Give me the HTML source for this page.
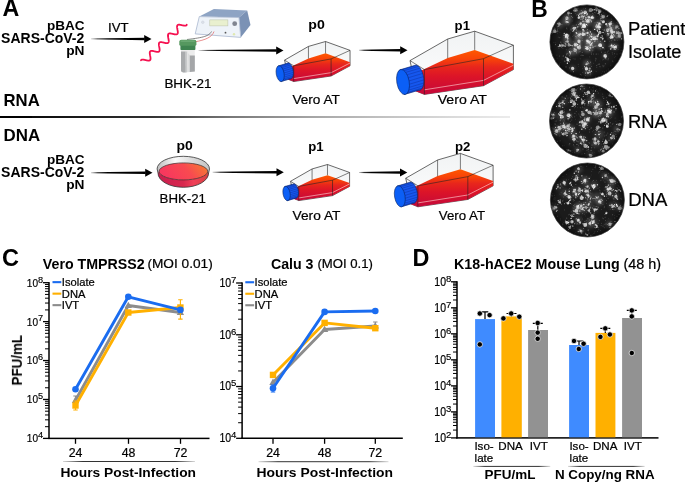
<!DOCTYPE html>
<html><head><meta charset="utf-8"><title>Figure</title>
<style>
html,body{margin:0;padding:0;background:#fff;width:685px;height:483px;overflow:hidden}
svg{display:block;font-family:"Liberation Sans", sans-serif}
text{will-change:transform}
</style></head>
<body>
<svg width="685" height="483" viewBox="0 0 685 483">
<rect width="685" height="483" fill="#fff"/>

<defs>
 <linearGradient id="arrL" x1="0" x2="1" y1="0" y2="0">
  <stop offset="0" stop-color="#000" stop-opacity="0.2"/>
  <stop offset="0.12" stop-color="#000" stop-opacity="0.8"/>
  <stop offset="0.3" stop-color="#000" stop-opacity="1"/>
  <stop offset="1" stop-color="#000"/>
 </linearGradient>
 <linearGradient id="divL" x1="0" x2="1" y1="0" y2="0">
  <stop offset="0" stop-color="#000"/>
  <stop offset="0.3" stop-color="#111"/>
  <stop offset="0.45" stop-color="#505050"/>
  <stop offset="0.62" stop-color="#808080"/>
  <stop offset="0.8" stop-color="#a8a8a8"/>
  <stop offset="1" stop-color="#d8d8d8"/>
 </linearGradient>
 <linearGradient id="sepL" x1="0" x2="1" y1="0" y2="0">
  <stop offset="0" stop-color="#000" stop-opacity="0.15"/>
  <stop offset="0.15" stop-color="#000" stop-opacity="0.8"/>
  <stop offset="0.85" stop-color="#000" stop-opacity="0.8"/>
  <stop offset="1" stop-color="#000" stop-opacity="0.15"/>
 </linearGradient>
 <linearGradient id="liq" x1="0" x2="0" y1="0" y2="1">
  <stop offset="0" stop-color="#ff5800"/>
  <stop offset="0.2" stop-color="#f84408"/>
  <stop offset="0.38" stop-color="#e8261c"/>
  <stop offset="0.6" stop-color="#dc1428"/>
  <stop offset="1" stop-color="#c4083a"/>
 </linearGradient>
 <linearGradient id="liqS" x1="0" x2="0" y1="0" y2="1">
  <stop offset="0" stop-color="#ff5a00"/>
  <stop offset="0.5" stop-color="#f24010"/>
  <stop offset="1" stop-color="#e83018"/>
 </linearGradient>
 <linearGradient id="glass" x1="0" x2="0" y1="0" y2="1">
  <stop offset="0" stop-color="#f1f3f4"/>
  <stop offset="1" stop-color="#fefefe"/>
 </linearGradient>
 <linearGradient id="dishL" x1="0" x2="1" y1="0" y2="0">
  <stop offset="0" stop-color="#c81e4e"/>
  <stop offset="0.5" stop-color="#d8284e"/>
  <stop offset="0.7" stop-color="#f04058"/>
  <stop offset="1" stop-color="#d84040"/>
 </linearGradient>
 <linearGradient id="dishTop" x1="0" x2="1" y1="0.3" y2="0">
  <stop offset="0" stop-color="#f7385e"/>
  <stop offset="0.5" stop-color="#f84a50"/>
  <stop offset="1" stop-color="#f6822c"/>
 </linearGradient>
 <linearGradient id="rim" x1="0" x2="1" y1="0" y2="0">
  <stop offset="0" stop-color="#bdbdbd"/>
  <stop offset="0.35" stop-color="#fafafa"/>
  <stop offset="0.7" stop-color="#d8d8d8"/>
  <stop offset="1" stop-color="#c4c4c4"/>
 </linearGradient>
 <linearGradient id="cuv" x1="0" x2="1" y1="0" y2="0">
  <stop offset="0" stop-color="#a9abad"/>
  <stop offset="0.35" stop-color="#c9cbcc"/>
  <stop offset="0.5" stop-color="#f2f2f2"/>
  <stop offset="0.65" stop-color="#c4c6c8"/>
  <stop offset="1" stop-color="#a2a4a6"/>
 </linearGradient>
 <radialGradient id="plq" cx="0.5" cy="0.5" r="0.5">
  <stop offset="0" stop-color="#3a3a3a"/>
  <stop offset="0.85" stop-color="#262626"/>
  <stop offset="1" stop-color="#1a1a1a"/>
 </radialGradient>
 <filter id="blur1" x="-20%" y="-20%" width="140%" height="140%"><feGaussianBlur stdDeviation="1.6"/></filter>
 <filter id="blurC" x="-20%" y="-20%" width="140%" height="140%"><feGaussianBlur stdDeviation="0.6"/></filter>
 <filter id="blurP" x="-5%" y="-5%" width="110%" height="110%"><feGaussianBlur stdDeviation="0.35"/></filter>
 <radialGradient id="vign" cx="0.5" cy="0.5" r="0.5">
  <stop offset="0.8" stop-color="#000" stop-opacity="0"/>
  <stop offset="0.95" stop-color="#000" stop-opacity="0.35"/>
  <stop offset="1" stop-color="#000" stop-opacity="0.6"/>
 </radialGradient>
 <filter id="blur0" x="-20%" y="-20%" width="140%" height="140%"><feGaussianBlur stdDeviation="0.35"/></filter>
</defs>

<text x="2.6" y="16.4" font-size="23.5" font-weight="bold" text-anchor="start" fill="#000" textLength="16.8" lengthAdjust="spacingAndGlyphs">A</text>
<text x="84.5" y="29.9" font-size="13.4" font-weight="bold" text-anchor="end" fill="#000" textLength="37.6" lengthAdjust="spacingAndGlyphs">pBAC</text>
<text x="84.3" y="42.9" font-size="13.9" font-weight="bold" text-anchor="end" fill="#000" textLength="83.2" lengthAdjust="spacingAndGlyphs">SARS-CoV-2</text>
<text x="84.5" y="55.2" font-size="13.7" font-weight="bold" text-anchor="end" fill="#000">pN</text>
<text x="84.5" y="163.9" font-size="13.4" font-weight="bold" text-anchor="end" fill="#000" textLength="37.6" lengthAdjust="spacingAndGlyphs">pBAC</text>
<text x="84.3" y="176.9" font-size="13.9" font-weight="bold" text-anchor="end" fill="#000" textLength="83.2" lengthAdjust="spacingAndGlyphs">SARS-CoV-2</text>
<text x="84.5" y="189.2" font-size="13.7" font-weight="bold" text-anchor="end" fill="#000">pN</text>
<text x="108" y="31.6" font-size="13.2" text-anchor="start" fill="#000" stroke="#000" stroke-width="0.22">IVT</text>
<path d="M91.00,38.45 L144.70,37.65 L144.70,40.15 L91.00,39.35 Z" fill="url(#arrL)"/>
<path d="M144.20,34.90 L151.50,38.90 L144.20,42.90 Z" fill="#000"/>
<path d="M141.01,60.24 L141.14,60.09 L141.28,59.96 L141.44,59.85 L141.62,59.76 L141.82,59.69 L142.04,59.64 L142.28,59.61 L142.53,59.60 L142.80,59.60 L143.08,59.62 L143.38,59.65 L143.69,59.70 L144.01,59.75 L144.34,59.81 L144.67,59.89 L145.01,59.96 L145.35,60.04 L145.69,60.12 L146.04,60.20 L146.38,60.28 L146.72,60.35 L147.05,60.42 L147.37,60.48 L147.68,60.53 L147.98,60.57 L148.27,60.59 L148.55,60.60 L148.81,60.60 L149.05,60.57 L149.28,60.53 L149.49,60.47 L149.68,60.39 L149.85,60.29 L150.00,60.17 L150.13,60.03 L150.24,59.87 L150.34,59.69 L150.41,59.49 L150.47,59.27 L150.50,59.03 L150.53,58.78 L150.53,58.51 L150.52,58.22 L150.50,57.92 L150.47,57.61 L150.42,57.29 L150.37,56.95 L150.31,56.62 L150.25,56.27 L150.19,55.93 L150.12,55.58 L150.05,55.23 L149.99,54.89 L149.93,54.55 L149.88,54.22 L149.84,53.90 L149.80,53.58 L149.78,53.28 L149.77,52.99 L149.77,52.72 L149.79,52.46 L149.83,52.22 L149.88,52.00 L149.95,51.80 L150.05,51.62 L150.16,51.46 L150.29,51.31 L150.43,51.19 L150.60,51.09 L150.79,51.01 L151.00,50.95 L151.22,50.90 L151.47,50.88 L151.72,50.87 L152.00,50.88 L152.29,50.90 L152.59,50.94 L152.90,50.99 L153.22,51.05 L153.55,51.11 L153.89,51.19 L154.23,51.26 L154.57,51.34 L154.92,51.43 L155.26,51.51 L155.60,51.58 L155.93,51.65 L156.26,51.72 L156.58,51.78 L156.89,51.82 L157.19,51.85 L157.47,51.87 L157.74,51.88 L158.00,51.87 L158.24,51.84 L158.46,51.79 L158.66,51.72 L158.84,51.64 L159.01,51.53 L159.15,51.40 L159.27,51.25 L159.38,51.09 L159.47,50.90 L159.53,50.69 L159.58,50.46 L159.61,50.22 L159.63,49.96 L159.63,49.68 L159.62,49.39 L159.59,49.09 L159.55,48.77 L159.51,48.44 L159.45,48.11 L159.39,47.77 L159.33,47.43 L159.26,47.08 L159.20,46.73 L159.13,46.39 L159.07,46.05 L159.01,45.71 L158.96,45.38 L158.92,45.06 L158.89,44.75 L158.87,44.45 L158.87,44.17 L158.88,43.90 L158.90,43.65 L158.95,43.42 L159.01,43.20 L159.08,43.01 L159.18,42.83 L159.30,42.68 L159.44,42.54 L159.59,42.43 L159.77,42.33 L159.96,42.26 L160.18,42.20 L160.41,42.17 L160.66,42.15 L160.92,42.15 L161.20,42.16 L161.49,42.19 L161.80,42.23 L162.11,42.28 L162.44,42.34 L162.77,42.41 L163.11,42.49 L163.45,42.57 L163.79,42.65 L164.14,42.73 L164.48,42.81 L164.82,42.88 L165.15,42.95 L165.48,43.02 L165.79,43.07 L166.10,43.11 L166.39,43.14 L166.67,43.15 L166.94,43.15 L167.19,43.13 L167.42,43.10 L167.63,43.04 L167.83,42.97 L168.00,42.88 L168.16,42.76 L168.30,42.63 L168.41,42.47 L168.51,42.30 L168.59,42.10 L168.65,41.89 L168.69,41.65 L168.72,41.40 L168.73,41.14 L168.73,40.85 L168.71,40.56 L168.68,40.25 L168.64,39.93 L168.59,39.60 L168.53,39.27 L168.47,38.92 L168.41,38.58 L168.34,38.23 L168.27,37.88 L168.21,37.54 L168.15,37.20 L168.09,36.87 L168.05,36.54 L168.01,36.22 L167.98,35.92 L167.97,35.63 L167.97,35.35 L167.99,35.09 L168.02,34.84 L168.07,34.62 L168.13,34.41 L168.22,34.22 L168.32,34.05 L168.45,33.90 L168.59,33.77 L168.75,33.67 L168.93,33.58 L169.14,33.51 L169.36,33.46 L169.59,33.43 L169.85,33.42 L170.12,33.43 L170.40,33.45 L170.70,33.48 L171.01,33.52 L171.33,33.58 L171.66,33.64 L171.99,33.71 L172.33,33.79 L172.67,33.87 L173.02,33.95 L173.36,34.03 L173.70,34.11 L174.04,34.18 L174.37,34.25 L174.69,34.31 L175.00,34.36 L175.30,34.40 L175.59,34.42 L175.87,34.43 L176.13,34.42 L176.37,34.40 L176.60,34.35 L176.80,34.29 L176.99,34.21 L177.16,34.11 L177.31,33.99 L177.44,33.85 L177.55,33.69 L177.64,33.50 L177.72,33.30 L177.77,33.08 L177.81,32.84 L177.83,32.59 L177.83,32.31 L177.82,32.03 L177.80,31.73 L177.76,31.41 L177.72,31.09 L177.67,30.76 L177.61,30.42 L177.55,30.08 L177.48,29.73 L177.42,29.38 L177.35,29.04 L177.29,28.69 L177.23,28.36 L177.18,28.02 L177.13,27.70 L177.10,27.39 L177.08,27.09 L177.07,26.80 L177.07,26.53 L177.09,26.27 L177.13,26.04 L177.19,25.81 L177.26,25.61 L177.35,25.43 L177.46,25.27 L177.59,25.13 L177.74,25.01 L177.91,24.91 L178.10,24.83 L178.31,24.77 L178.54,24.73 L178.78,24.70 L179.04,24.70 L179.32,24.71 L179.61,24.73 L179.91,24.77 L180.22,24.82 L180.54,24.88 L180.87,24.94 L181.21,25.02 L181.55,25.09 L181.89,25.18 L182.24,25.26 L182.58,25.34 L182.92,25.41 L183.25,25.48 L183.58,25.55 L183.90,25.60 L184.21,25.65 L184.51,25.68 L184.79,25.70 L185.06,25.70 L185.31,25.69 L185.55,25.66 L185.77,25.61 L185.97,25.54 L186.15,25.45 L186.32,25.35 L186.46,25.22 L186.58,25.07 L186.69,24.90 L186.77,24.71" fill="none" stroke="#f5104f" stroke-width="1.8" stroke-linecap="round" stroke-linejoin="round"/>
<g>
<path d="M199.3,16.6 L213.9,9.1 L247.2,10.5 L239,17.5 Z" fill="#8ea4c4"/>
<path d="M239,17.5 L247.2,10.5 L250.5,25 L240.7,37.4 Z" fill="#7b92b5"/>
<path d="M199.3,16.6 L239,17.5 L240.7,37.4 L195.2,33.9 Z" fill="#eef3f9" stroke="#a9b8cf" stroke-width="0.8"/>
<rect x="209.8" y="19.9" width="18.1" height="6" fill="#e9f0cf" stroke="#b9c0a8" stroke-width="0.5"/>
<circle cx="234.7" cy="23.7" r="2.4" fill="#808590"/>
<circle cx="202.8" cy="22.2" r="1.3" fill="#dde2ea" stroke="#c0c8d4" stroke-width="0.4"/>
<circle cx="225.5" cy="32.7" r="0.9" fill="#555"/>
<circle cx="234" cy="34.2" r="1.2" fill="#dfe8b0"/>
<path d="M211.5,31.5 C209,36 204,37.5 187,39.5" stroke="#555" stroke-width="0.7" fill="none"/>
<path d="M214,31.5 C212,37 206,40 194,42" stroke="#e06060" stroke-width="0.7" fill="none"/>
</g>
<path d="M181,49.5 L194.8,49.5 L194.8,71.6 L183,72.6 L181,71.2 Z" fill="#ececec"/>
<path d="M181,51.5 L185.6,51.5 L185.8,72.4 L183,72.6 L181,71.2 Z" fill="#a9abad"/>
<path d="M189.6,55.5 L194.8,55.5 L194.8,71.6 L189.8,72.1 Z" fill="#a4a6a8"/>
<path d="M185.6,51.5 L187.2,51.5 L187.4,72.3 L185.8,72.4 Z" fill="#c8cacb"/>
<path d="M188.4,53 L189.6,55.5 L189.8,72.1 L188.6,72.2 Z" fill="#d0d2d3"/>
<path d="M180.4,45 L195.4,45 L195.4,49.2 Q195.4,49.9 194.6,49.9 L181.2,49.9 Q180.4,49.9 180.4,49.2 Z" fill="#3f8450"/>
<path d="M179.3,41.5 Q179.4,39.8 181.5,39.7 L194.4,39.7 Q196.4,39.8 196.4,41.8 L196.4,44.6 Q196.3,45.8 194.8,45.8 L180.8,45.8 Q179.3,45.6 179.3,44.4 Z" fill="#56985f"/>
<rect x="180.5" y="40.3" width="14.5" height="1.8" rx="0.8" fill="#6aa872"/>
<text x="164.4" y="88.4" font-size="13.1" text-anchor="start" fill="#000" textLength="47" lengthAdjust="spacingAndGlyphs" stroke="#000" stroke-width="0.22">BHK-21</text>
<path d="M198.50,49.95 L276.70,49.15 L276.70,51.65 L198.50,50.85 Z" fill="url(#arrL)"/>
<path d="M276.20,46.40 L283.50,50.40 L276.20,54.40 Z" fill="#000"/>
<text x="316.5" y="28.9" font-size="13.2" font-weight="bold" text-anchor="middle" fill="#000" textLength="16.5" lengthAdjust="spacingAndGlyphs">p0</text>
<g transform="translate(276.1,41.5) scale(0.633)">
<path d="M13.4,29.4 L51.1,7.8 L78.1,0 L116.8,14 L116.8,38.4 L86.9,54.5 L27.8,63.2 L20,60 Z" fill="url(#glass)" stroke="#222" stroke-width="1.07" stroke-linejoin="round"/>
<path d="M19,42 L51.1,26.7 L78.1,18.7 L116.8,32.6 L116.8,38.4 L86.9,54.5 L27.8,63.2 L19,60 Z" fill="url(#liq)"/>
<path d="M27.8,58.6 L86.9,49.2 L116.8,34" fill="none" stroke="#ffd0d0" stroke-width="1.17" opacity="0.85"/>
<path d="M13.4,29.4 L27.8,38.4 L86.9,27.5 L116.8,14 M51.1,7.8 L51.1,27 M78.1,0 L78.1,18.7 M86.9,27.5 L86.9,54.5 M27.8,38.4 L27.8,63.2" fill="none" stroke="#222" stroke-width="1.07" opacity="0.85"/>
<path d="M3.17,38.67 L17.57,34.37 L18.59,33.99 L19.69,34.00 L20.82,34.38 L21.94,35.13 L23.04,36.23 L24.06,37.64 L24.99,39.31 L25.78,41.21 L26.43,43.27 L26.91,45.42 L27.20,47.61 L27.29,49.77 L27.19,51.82 L26.89,53.71 L26.41,55.39 L25.76,56.79 L24.96,57.88 L24.03,58.63 L23.01,59.01 L21.91,59.00 L7.51,63.30 Z" fill="#1657ee" stroke="#06205e" stroke-width="0.88" stroke-linejoin="round"/>
<path d="M5.85,38.44 L20.25,34.14 M7.54,39.43 L21.94,35.13 M9.16,41.19 L23.56,36.89 M10.59,43.61 L24.99,39.31 M11.73,46.52 L26.13,42.22 M12.51,49.72 L26.91,45.42 M12.87,53.00 L27.27,48.70 M12.79,56.12 L27.19,51.82 M12.28,58.88 L26.68,54.58 M11.36,61.09 L25.76,56.79 M10.11,62.60 L24.51,58.30 " stroke="#0a2f9a" stroke-width="0.70" fill="none"/>
<ellipse cx="6.4" cy="50.8" rx="6.2" ry="12.7" transform="rotate(-10 6.4 50.8)" fill="#0b5ff6" stroke="#06205e" stroke-width="0.88"/>
</g>
<text x="292.4" y="104.2" font-size="13.2" text-anchor="start" fill="#000" textLength="47.5" lengthAdjust="spacingAndGlyphs" stroke="#000" stroke-width="0.22">Vero AT</text>
<path d="M359.00,49.85 L400.70,49.05 L400.70,51.55 L359.00,50.75 Z" fill="url(#arrL)"/>
<path d="M400.20,46.30 L407.50,50.30 L400.20,54.30 Z" fill="#000"/>
<text x="462.3" y="29.8" font-size="13.2" font-weight="bold" text-anchor="middle" fill="#000">p1</text>
<g transform="translate(396.6,31.2) scale(1.0)">
<path d="M13.4,29.4 L51.1,7.8 L78.1,0 L116.8,14 L116.8,38.4 L86.9,54.5 L27.8,63.2 L20,60 Z" fill="url(#glass)" stroke="#222" stroke-width="0.68" stroke-linejoin="round"/>
<path d="M19,42 L51.1,26.7 L78.1,18.7 L116.8,32.6 L116.8,38.4 L86.9,54.5 L27.8,63.2 L19,60 Z" fill="url(#liq)"/>
<path d="M27.8,58.6 L86.9,49.2 L116.8,34" fill="none" stroke="#ffd0d0" stroke-width="0.74" opacity="0.85"/>
<path d="M13.4,29.4 L27.8,38.4 L86.9,27.5 L116.8,14 M51.1,7.8 L51.1,27 M78.1,0 L78.1,18.7 M86.9,27.5 L86.9,54.5 M27.8,38.4 L27.8,63.2" fill="none" stroke="#222" stroke-width="0.68" opacity="0.85"/>
<path d="M3.17,38.67 L17.57,34.37 L18.59,33.99 L19.69,34.00 L20.82,34.38 L21.94,35.13 L23.04,36.23 L24.06,37.64 L24.99,39.31 L25.78,41.21 L26.43,43.27 L26.91,45.42 L27.20,47.61 L27.29,49.77 L27.19,51.82 L26.89,53.71 L26.41,55.39 L25.76,56.79 L24.96,57.88 L24.03,58.63 L23.01,59.01 L21.91,59.00 L7.51,63.30 Z" fill="#1657ee" stroke="#06205e" stroke-width="0.56" stroke-linejoin="round"/>
<path d="M5.85,38.44 L20.25,34.14 M7.54,39.43 L21.94,35.13 M9.16,41.19 L23.56,36.89 M10.59,43.61 L24.99,39.31 M11.73,46.52 L26.13,42.22 M12.51,49.72 L26.91,45.42 M12.87,53.00 L27.27,48.70 M12.79,56.12 L27.19,51.82 M12.28,58.88 L26.68,54.58 M11.36,61.09 L25.76,56.79 M10.11,62.60 L24.51,58.30 " stroke="#0a2f9a" stroke-width="0.44" fill="none"/>
<ellipse cx="6.4" cy="50.8" rx="6.2" ry="12.7" transform="rotate(-10 6.4 50.8)" fill="#0b5ff6" stroke="#06205e" stroke-width="0.56"/>
</g>
<text x="437.7" y="104.3" font-size="13.2" text-anchor="start" fill="#000" textLength="49.2" lengthAdjust="spacingAndGlyphs" stroke="#000" stroke-width="0.22">Vero AT</text>
<text x="3.5" y="106" font-size="16.3" font-weight="bold" text-anchor="start" fill="#000" textLength="36.2" lengthAdjust="spacingAndGlyphs">RNA</text>
<path d="M0,115.95 L510,116.4 L510,117.6 L0,117.95 Z" fill="url(#divL)"/>
<text x="3.6" y="141.4" font-size="16.3" font-weight="bold" text-anchor="start" fill="#000" textLength="36.6" lengthAdjust="spacingAndGlyphs">DNA</text>
<path d="M91.00,172.25 L145.70,171.45 L145.70,173.95 L91.00,173.15 Z" fill="url(#arrL)"/>
<path d="M145.20,168.70 L152.50,172.70 L145.20,176.70 Z" fill="#000"/>
<path d="M157.1,168.9 A26.2,12.6 0 0 1 209.5,168.9 L208.6,173 A25.3,14.3 0 0 1 158,173 Z" fill="url(#rim)"/>
<path d="M159.1,171.4 A24.3,8.5 0 0 0 207.7,171.4 L208.6,173 A25.3,14.3 0 0 1 158,173 Z" fill="url(#dishL)"/>
<ellipse cx="183.4" cy="171.4" rx="24.3" ry="8.5" fill="url(#dishTop)" stroke="#3a2a2a" stroke-width="0.7"/>
<path d="M157.1,168.9 A26.2,12.6 0 0 1 209.5,168.9 L208.6,173 A25.3,14.3 0 0 1 158,173 Z" fill="none" stroke="#333" stroke-width="0.8"/>
<text x="184.6" y="150.0" font-size="13.2" font-weight="bold" text-anchor="middle" fill="#000" textLength="16.3" lengthAdjust="spacingAndGlyphs">p0</text>
<text x="159.6" y="202.7" font-size="13.1" text-anchor="start" fill="#000" textLength="46.4" lengthAdjust="spacingAndGlyphs" stroke="#000" stroke-width="0.22">BHK-21</text>
<path d="M212.60,171.85 L277.00,171.05 L277.00,173.55 L212.60,172.75 Z" fill="url(#arrL)"/>
<path d="M276.50,168.30 L283.80,172.30 L276.50,176.30 Z" fill="#000"/>
<text x="316" y="151.0" font-size="13.2" font-weight="bold" text-anchor="middle" fill="#000">p1</text>
<g transform="translate(282.9,164.5) scale(0.571)">
<path d="M13.4,29.4 L51.1,7.8 L78.1,0 L116.8,14 L116.8,38.4 L86.9,54.5 L27.8,63.2 L20,60 Z" fill="url(#glass)" stroke="#222" stroke-width="1.18" stroke-linejoin="round"/>
<path d="M19,42 L51.1,26.7 L78.1,18.7 L116.8,32.6 L116.8,38.4 L86.9,54.5 L27.8,63.2 L19,60 Z" fill="url(#liq)"/>
<path d="M27.8,58.6 L86.9,49.2 L116.8,34" fill="none" stroke="#ffd0d0" stroke-width="1.30" opacity="0.85"/>
<path d="M13.4,29.4 L27.8,38.4 L86.9,27.5 L116.8,14 M51.1,7.8 L51.1,27 M78.1,0 L78.1,18.7 M86.9,27.5 L86.9,54.5 M27.8,38.4 L27.8,63.2" fill="none" stroke="#222" stroke-width="1.18" opacity="0.85"/>
<path d="M3.17,38.67 L17.57,34.37 L18.59,33.99 L19.69,34.00 L20.82,34.38 L21.94,35.13 L23.04,36.23 L24.06,37.64 L24.99,39.31 L25.78,41.21 L26.43,43.27 L26.91,45.42 L27.20,47.61 L27.29,49.77 L27.19,51.82 L26.89,53.71 L26.41,55.39 L25.76,56.79 L24.96,57.88 L24.03,58.63 L23.01,59.01 L21.91,59.00 L7.51,63.30 Z" fill="#1657ee" stroke="#06205e" stroke-width="0.98" stroke-linejoin="round"/>
<path d="M5.85,38.44 L20.25,34.14 M7.54,39.43 L21.94,35.13 M9.16,41.19 L23.56,36.89 M10.59,43.61 L24.99,39.31 M11.73,46.52 L26.13,42.22 M12.51,49.72 L26.91,45.42 M12.87,53.00 L27.27,48.70 M12.79,56.12 L27.19,51.82 M12.28,58.88 L26.68,54.58 M11.36,61.09 L25.76,56.79 M10.11,62.60 L24.51,58.30 " stroke="#0a2f9a" stroke-width="0.77" fill="none"/>
<ellipse cx="6.4" cy="50.8" rx="6.2" ry="12.7" transform="rotate(-10 6.4 50.8)" fill="#0b5ff6" stroke="#06205e" stroke-width="0.98"/>
</g>
<text x="292.6" y="219.6" font-size="13.2" text-anchor="start" fill="#000" textLength="47.8" lengthAdjust="spacingAndGlyphs" stroke="#000" stroke-width="0.22">Vero AT</text>
<path d="M359.00,172.05 L400.50,171.25 L400.50,173.75 L359.00,172.95 Z" fill="url(#arrL)"/>
<path d="M400.00,168.50 L407.30,172.50 L400.00,176.50 Z" fill="#000"/>
<text x="462.7" y="150.6" font-size="13.2" font-weight="bold" text-anchor="middle" fill="#000">p2</text>
<g transform="translate(394.4,153.4) scale(0.845)">
<path d="M13.4,29.4 L51.1,7.8 L78.1,0 L116.8,14 L116.8,38.4 L86.9,54.5 L27.8,63.2 L20,60 Z" fill="url(#glass)" stroke="#222" stroke-width="0.80" stroke-linejoin="round"/>
<path d="M19,42 L51.1,26.7 L78.1,18.7 L116.8,32.6 L116.8,38.4 L86.9,54.5 L27.8,63.2 L19,60 Z" fill="url(#liq)"/>
<path d="M27.8,58.6 L86.9,49.2 L116.8,34" fill="none" stroke="#ffd0d0" stroke-width="0.88" opacity="0.85"/>
<path d="M13.4,29.4 L27.8,38.4 L86.9,27.5 L116.8,14 M51.1,7.8 L51.1,27 M78.1,0 L78.1,18.7 M86.9,27.5 L86.9,54.5 M27.8,38.4 L27.8,63.2" fill="none" stroke="#222" stroke-width="0.80" opacity="0.85"/>
<path d="M3.17,38.67 L17.57,34.37 L18.59,33.99 L19.69,34.00 L20.82,34.38 L21.94,35.13 L23.04,36.23 L24.06,37.64 L24.99,39.31 L25.78,41.21 L26.43,43.27 L26.91,45.42 L27.20,47.61 L27.29,49.77 L27.19,51.82 L26.89,53.71 L26.41,55.39 L25.76,56.79 L24.96,57.88 L24.03,58.63 L23.01,59.01 L21.91,59.00 L7.51,63.30 Z" fill="#1657ee" stroke="#06205e" stroke-width="0.66" stroke-linejoin="round"/>
<path d="M5.85,38.44 L20.25,34.14 M7.54,39.43 L21.94,35.13 M9.16,41.19 L23.56,36.89 M10.59,43.61 L24.99,39.31 M11.73,46.52 L26.13,42.22 M12.51,49.72 L26.91,45.42 M12.87,53.00 L27.27,48.70 M12.79,56.12 L27.19,51.82 M12.28,58.88 L26.68,54.58 M11.36,61.09 L25.76,56.79 M10.11,62.60 L24.51,58.30 " stroke="#0a2f9a" stroke-width="0.52" fill="none"/>
<ellipse cx="6.4" cy="50.8" rx="6.2" ry="12.7" transform="rotate(-10 6.4 50.8)" fill="#0b5ff6" stroke="#06205e" stroke-width="0.66"/>
</g>
<text x="438.8" y="219.9" font-size="13.2" text-anchor="start" fill="#000" textLength="46.2" lengthAdjust="spacingAndGlyphs" stroke="#000" stroke-width="0.22">Vero AT</text>
<text x="531.2" y="16.6" font-size="23.5" font-weight="bold" text-anchor="start" fill="#000" textLength="16.5" lengthAdjust="spacingAndGlyphs">B</text>
<clipPath id="clp1"><circle cx="586.9" cy="41.9" r="36.5"/></clipPath>
<circle cx="586.9" cy="41.9" r="37" fill="#1b1b1b" stroke="#333" stroke-width="0.7"/>
<g clip-path="url(#clp1)"><g filter="url(#blurP)">
<g filter="url(#blur0)"><circle cx="555.2" cy="42.8" r="0.39" fill="#4e4e4e"/><circle cx="606.6" cy="70.2" r="0.42" fill="#4e4e4e"/><circle cx="572.1" cy="45.8" r="0.53" fill="#444"/><circle cx="604.4" cy="48.9" r="0.57" fill="#3a3a3a"/><circle cx="620.9" cy="47.2" r="0.39" fill="#444"/><circle cx="581.5" cy="74.6" r="0.47" fill="#3a3a3a"/><circle cx="579.0" cy="52.0" r="0.48" fill="#5a5a5a"/><circle cx="562.1" cy="58.9" r="0.48" fill="#3a3a3a"/><circle cx="556.6" cy="23.8" r="0.42" fill="#3a3a3a"/><circle cx="560.2" cy="62.3" r="0.46" fill="#3a3a3a"/><circle cx="578.2" cy="64.3" r="0.45" fill="#5a5a5a"/><circle cx="617.2" cy="37.3" r="0.58" fill="#666"/><circle cx="594.4" cy="35.1" r="0.52" fill="#3a3a3a"/><circle cx="570.4" cy="32.9" r="0.35" fill="#666"/><circle cx="563.9" cy="37.4" r="0.36" fill="#3a3a3a"/><circle cx="569.2" cy="17.7" r="0.49" fill="#444"/><circle cx="570.1" cy="48.2" r="0.56" fill="#4e4e4e"/><circle cx="582.9" cy="68.6" r="0.49" fill="#444"/><circle cx="586.2" cy="68.2" r="0.49" fill="#444"/><circle cx="578.3" cy="25.9" r="0.58" fill="#3a3a3a"/><circle cx="551.7" cy="47.0" r="0.49" fill="#3a3a3a"/><circle cx="586.9" cy="47.3" r="0.46" fill="#4e4e4e"/><circle cx="600.0" cy="61.0" r="0.35" fill="#4e4e4e"/><circle cx="582.6" cy="38.2" r="0.48" fill="#4e4e4e"/><circle cx="575.0" cy="59.0" r="0.47" fill="#666"/><circle cx="597.8" cy="32.8" r="0.49" fill="#444"/><circle cx="603.3" cy="59.6" r="0.40" fill="#666"/><circle cx="618.2" cy="49.4" r="0.45" fill="#666"/><circle cx="572.5" cy="17.5" r="0.52" fill="#666"/><circle cx="564.5" cy="43.8" r="0.49" fill="#5a5a5a"/><circle cx="621.7" cy="29.8" r="0.50" fill="#666"/><circle cx="604.2" cy="71.3" r="0.47" fill="#3a3a3a"/><circle cx="605.1" cy="52.3" r="0.51" fill="#4e4e4e"/><circle cx="580.0" cy="51.5" r="0.55" fill="#5a5a5a"/><circle cx="612.5" cy="61.7" r="0.35" fill="#666"/><circle cx="580.3" cy="55.6" r="0.39" fill="#4e4e4e"/><circle cx="611.5" cy="40.8" r="0.48" fill="#5a5a5a"/><circle cx="569.9" cy="12.2" r="0.46" fill="#666"/><circle cx="576.2" cy="53.5" r="0.39" fill="#3a3a3a"/><circle cx="602.5" cy="16.9" r="0.45" fill="#3a3a3a"/><circle cx="600.9" cy="49.7" r="0.48" fill="#444"/><circle cx="567.5" cy="29.6" r="0.37" fill="#3a3a3a"/><circle cx="611.4" cy="43.6" r="0.47" fill="#4e4e4e"/><circle cx="591.2" cy="8.6" r="0.51" fill="#4e4e4e"/><circle cx="602.7" cy="65.2" r="0.44" fill="#4e4e4e"/><circle cx="604.6" cy="33.9" r="0.39" fill="#5a5a5a"/><circle cx="608.3" cy="69.0" r="0.53" fill="#4e4e4e"/><circle cx="569.0" cy="50.0" r="0.56" fill="#444"/><circle cx="596.0" cy="28.3" r="0.58" fill="#5a5a5a"/><circle cx="568.3" cy="24.8" r="0.51" fill="#3a3a3a"/><circle cx="582.7" cy="72.5" r="0.50" fill="#444"/><circle cx="569.3" cy="43.9" r="0.54" fill="#444"/><circle cx="616.0" cy="37.5" r="0.54" fill="#4e4e4e"/><circle cx="567.7" cy="58.0" r="0.37" fill="#4e4e4e"/><circle cx="566.7" cy="28.7" r="0.59" fill="#3a3a3a"/><circle cx="600.5" cy="41.5" r="0.55" fill="#666"/><circle cx="621.2" cy="50.3" r="0.52" fill="#4e4e4e"/><circle cx="570.2" cy="50.3" r="0.37" fill="#444"/><circle cx="579.5" cy="41.5" r="0.54" fill="#5a5a5a"/><circle cx="570.9" cy="45.4" r="0.40" fill="#5a5a5a"/><circle cx="602.8" cy="29.3" r="0.38" fill="#666"/><circle cx="585.4" cy="70.7" r="0.42" fill="#666"/><circle cx="564.4" cy="16.7" r="0.55" fill="#444"/><circle cx="552.2" cy="33.6" r="0.36" fill="#666"/><circle cx="578.0" cy="14.5" r="0.51" fill="#5a5a5a"/><circle cx="589.6" cy="43.7" r="0.36" fill="#444"/><circle cx="570.1" cy="13.6" r="0.40" fill="#3a3a3a"/><circle cx="586.9" cy="14.5" r="0.52" fill="#4e4e4e"/><circle cx="612.5" cy="54.0" r="0.43" fill="#5a5a5a"/><circle cx="569.7" cy="24.1" r="0.41" fill="#444"/><circle cx="593.4" cy="63.2" r="0.44" fill="#444"/><circle cx="594.7" cy="46.4" r="0.59" fill="#666"/><circle cx="616.9" cy="45.4" r="0.40" fill="#666"/><circle cx="615.0" cy="36.3" r="0.53" fill="#3a3a3a"/><circle cx="604.9" cy="58.3" r="0.41" fill="#3a3a3a"/><circle cx="584.6" cy="32.3" r="0.36" fill="#4e4e4e"/><circle cx="589.2" cy="37.7" r="0.57" fill="#444"/><circle cx="606.4" cy="71.4" r="0.36" fill="#5a5a5a"/><circle cx="588.7" cy="11.6" r="0.37" fill="#4e4e4e"/><circle cx="552.4" cy="33.3" r="0.43" fill="#4e4e4e"/><circle cx="559.5" cy="63.7" r="0.56" fill="#3a3a3a"/><circle cx="572.4" cy="36.3" r="0.48" fill="#444"/><circle cx="587.6" cy="33.8" r="0.47" fill="#666"/><circle cx="559.5" cy="65.2" r="0.60" fill="#666"/><circle cx="603.1" cy="66.7" r="0.48" fill="#666"/><circle cx="571.5" cy="16.5" r="0.45" fill="#4e4e4e"/><circle cx="573.9" cy="35.2" r="0.49" fill="#444"/><circle cx="598.1" cy="28.1" r="0.43" fill="#4e4e4e"/><circle cx="570.1" cy="60.3" r="0.48" fill="#666"/><circle cx="588.8" cy="15.9" r="0.55" fill="#4e4e4e"/><circle cx="592.3" cy="38.3" r="0.47" fill="#4e4e4e"/><circle cx="609.2" cy="14.9" r="0.47" fill="#666"/><circle cx="613.0" cy="23.5" r="0.53" fill="#444"/><circle cx="605.2" cy="31.7" r="0.45" fill="#4e4e4e"/><circle cx="584.3" cy="77.4" r="0.48" fill="#666"/><circle cx="566.3" cy="14.8" r="0.40" fill="#3a3a3a"/><circle cx="580.3" cy="58.8" r="0.55" fill="#3a3a3a"/><circle cx="602.8" cy="20.0" r="0.51" fill="#3a3a3a"/><circle cx="588.9" cy="10.7" r="0.55" fill="#3a3a3a"/><circle cx="566.0" cy="66.9" r="0.57" fill="#666"/><circle cx="551.5" cy="32.1" r="0.53" fill="#5a5a5a"/><circle cx="570.9" cy="70.9" r="0.47" fill="#666"/><circle cx="616.4" cy="22.3" r="0.52" fill="#5a5a5a"/><circle cx="590.2" cy="74.8" r="0.53" fill="#5a5a5a"/><circle cx="568.9" cy="19.8" r="0.54" fill="#666"/><circle cx="588.0" cy="40.9" r="0.50" fill="#5a5a5a"/><circle cx="587.6" cy="47.7" r="0.36" fill="#5a5a5a"/><circle cx="612.9" cy="38.8" r="0.59" fill="#444"/><circle cx="601.4" cy="52.4" r="0.38" fill="#666"/><circle cx="572.3" cy="70.6" r="0.59" fill="#4e4e4e"/><circle cx="590.1" cy="47.2" r="0.42" fill="#666"/><circle cx="580.3" cy="74.4" r="0.45" fill="#666"/><circle cx="596.5" cy="27.7" r="0.38" fill="#4e4e4e"/><circle cx="582.8" cy="15.3" r="0.41" fill="#444"/><circle cx="550.6" cy="36.3" r="0.36" fill="#666"/><circle cx="581.0" cy="25.7" r="0.57" fill="#3a3a3a"/><circle cx="578.3" cy="39.3" r="0.51" fill="#4e4e4e"/><circle cx="613.0" cy="61.8" r="0.46" fill="#5a5a5a"/><circle cx="558.5" cy="31.1" r="0.39" fill="#5a5a5a"/><circle cx="577.1" cy="14.3" r="0.59" fill="#4e4e4e"/><circle cx="580.5" cy="74.4" r="0.53" fill="#4e4e4e"/><circle cx="601.1" cy="37.0" r="0.40" fill="#5a5a5a"/><circle cx="579.6" cy="36.4" r="0.38" fill="#3a3a3a"/><circle cx="585.4" cy="75.4" r="0.51" fill="#5a5a5a"/><circle cx="581.5" cy="75.6" r="0.49" fill="#3a3a3a"/><circle cx="589.5" cy="30.6" r="0.53" fill="#3a3a3a"/><circle cx="600.2" cy="66.7" r="0.60" fill="#3a3a3a"/><circle cx="600.6" cy="18.1" r="0.55" fill="#3a3a3a"/><circle cx="600.0" cy="11.4" r="0.38" fill="#5a5a5a"/><circle cx="583.0" cy="55.4" r="0.58" fill="#5a5a5a"/><circle cx="557.7" cy="33.5" r="0.39" fill="#444"/><circle cx="569.0" cy="59.9" r="0.42" fill="#666"/><circle cx="586.3" cy="71.1" r="0.58" fill="#666"/><circle cx="608.3" cy="51.0" r="0.38" fill="#5a5a5a"/><circle cx="606.0" cy="58.9" r="0.58" fill="#4e4e4e"/><circle cx="589.9" cy="37.5" r="0.41" fill="#3a3a3a"/><circle cx="570.2" cy="57.2" r="0.39" fill="#5a5a5a"/><circle cx="568.9" cy="35.1" r="0.58" fill="#666"/><circle cx="587.6" cy="74.9" r="0.42" fill="#4e4e4e"/><circle cx="601.4" cy="24.7" r="0.47" fill="#444"/><circle cx="594.2" cy="22.8" r="0.50" fill="#444"/><circle cx="563.3" cy="70.0" r="0.48" fill="#5a5a5a"/><circle cx="554.2" cy="29.0" r="0.51" fill="#444"/><circle cx="573.2" cy="41.4" r="0.38" fill="#4e4e4e"/><circle cx="615.6" cy="56.6" r="0.37" fill="#444"/><circle cx="589.8" cy="56.9" r="0.39" fill="#666"/><circle cx="558.5" cy="46.6" r="0.49" fill="#666"/><circle cx="615.3" cy="36.1" r="0.54" fill="#3a3a3a"/><circle cx="610.7" cy="65.7" r="0.37" fill="#444"/><circle cx="566.5" cy="55.3" r="0.42" fill="#4e4e4e"/><circle cx="603.1" cy="33.0" r="0.43" fill="#3a3a3a"/><circle cx="560.2" cy="23.5" r="0.52" fill="#444"/><circle cx="603.5" cy="12.5" r="0.41" fill="#4e4e4e"/><circle cx="589.1" cy="31.7" r="0.38" fill="#3a3a3a"/><circle cx="579.5" cy="74.0" r="0.37" fill="#444"/><circle cx="608.4" cy="58.5" r="0.50" fill="#444"/><circle cx="614.3" cy="34.9" r="0.51" fill="#666"/><circle cx="589.0" cy="46.7" r="0.58" fill="#666"/><circle cx="572.2" cy="21.1" r="0.49" fill="#4e4e4e"/><circle cx="553.9" cy="42.5" r="0.41" fill="#444"/><circle cx="616.3" cy="25.2" r="0.41" fill="#3a3a3a"/><circle cx="569.9" cy="44.1" r="0.38" fill="#5a5a5a"/><circle cx="602.4" cy="60.0" r="0.51" fill="#3a3a3a"/><circle cx="590.2" cy="45.2" r="0.52" fill="#666"/><circle cx="600.4" cy="16.4" r="0.39" fill="#666"/><circle cx="615.0" cy="20.9" r="0.44" fill="#4e4e4e"/><circle cx="571.5" cy="16.4" r="0.56" fill="#5a5a5a"/><circle cx="579.9" cy="77.2" r="0.42" fill="#444"/><circle cx="599.2" cy="64.1" r="0.59" fill="#666"/><circle cx="589.7" cy="5.6" r="0.44" fill="#444"/><circle cx="591.5" cy="70.2" r="0.36" fill="#5a5a5a"/><circle cx="581.9" cy="55.2" r="0.58" fill="#4e4e4e"/><circle cx="580.1" cy="49.7" r="0.37" fill="#3a3a3a"/><circle cx="607.6" cy="52.7" r="0.55" fill="#3a3a3a"/><circle cx="611.5" cy="48.4" r="0.48" fill="#666"/><circle cx="576.3" cy="24.9" r="0.58" fill="#666"/><circle cx="598.4" cy="64.3" r="0.58" fill="#444"/><circle cx="595.9" cy="12.7" r="0.57" fill="#4e4e4e"/><circle cx="602.0" cy="36.2" r="0.41" fill="#4e4e4e"/><circle cx="596.2" cy="71.4" r="0.50" fill="#3a3a3a"/><circle cx="580.6" cy="31.4" r="0.46" fill="#4e4e4e"/><circle cx="601.6" cy="51.9" r="0.39" fill="#666"/><circle cx="575.2" cy="13.3" r="0.39" fill="#666"/><circle cx="597.5" cy="41.0" r="0.54" fill="#4e4e4e"/><circle cx="558.9" cy="48.0" r="0.57" fill="#5a5a5a"/><circle cx="578.3" cy="66.6" r="0.45" fill="#444"/><circle cx="566.8" cy="23.3" r="0.51" fill="#4e4e4e"/><circle cx="608.0" cy="39.0" r="0.44" fill="#5a5a5a"/><circle cx="598.1" cy="54.0" r="0.46" fill="#444"/><circle cx="579.4" cy="13.8" r="0.58" fill="#5a5a5a"/><circle cx="612.0" cy="16.0" r="0.45" fill="#5a5a5a"/><circle cx="609.0" cy="53.2" r="0.46" fill="#444"/><circle cx="577.8" cy="42.1" r="0.58" fill="#4e4e4e"/><circle cx="561.3" cy="43.7" r="0.59" fill="#3a3a3a"/><circle cx="551.3" cy="34.2" r="0.48" fill="#444"/><circle cx="617.0" cy="53.9" r="0.52" fill="#4e4e4e"/><circle cx="555.5" cy="44.6" r="0.59" fill="#666"/><circle cx="562.9" cy="48.2" r="0.40" fill="#666"/><circle cx="588.1" cy="19.0" r="0.52" fill="#666"/><circle cx="598.3" cy="44.6" r="0.45" fill="#444"/><circle cx="584.3" cy="46.9" r="0.45" fill="#3a3a3a"/><circle cx="591.3" cy="52.4" r="0.36" fill="#5a5a5a"/><circle cx="588.3" cy="62.4" r="0.59" fill="#3a3a3a"/><circle cx="573.0" cy="25.5" r="0.39" fill="#5a5a5a"/><circle cx="559.8" cy="46.5" r="0.54" fill="#4e4e4e"/><circle cx="609.3" cy="45.9" r="0.52" fill="#5a5a5a"/><circle cx="609.7" cy="41.6" r="0.44" fill="#4e4e4e"/><circle cx="561.1" cy="46.8" r="0.55" fill="#444"/><circle cx="595.9" cy="59.0" r="0.58" fill="#4e4e4e"/><circle cx="569.0" cy="23.6" r="0.42" fill="#5a5a5a"/><circle cx="584.5" cy="15.9" r="0.59" fill="#444"/><circle cx="592.8" cy="50.7" r="0.46" fill="#666"/><circle cx="614.4" cy="47.6" r="0.47" fill="#666"/><circle cx="602.6" cy="11.0" r="0.39" fill="#3a3a3a"/><circle cx="599.3" cy="7.1" r="0.45" fill="#5a5a5a"/><circle cx="600.4" cy="48.6" r="0.52" fill="#444"/><circle cx="590.3" cy="73.5" r="0.38" fill="#5a5a5a"/><circle cx="564.9" cy="58.1" r="0.44" fill="#5a5a5a"/><circle cx="612.0" cy="21.6" r="0.44" fill="#444"/><circle cx="589.5" cy="11.5" r="0.40" fill="#4e4e4e"/><circle cx="584.2" cy="26.4" r="0.50" fill="#666"/><circle cx="595.4" cy="60.8" r="0.50" fill="#4e4e4e"/><circle cx="558.2" cy="37.1" r="0.41" fill="#666"/><circle cx="565.3" cy="42.5" r="0.58" fill="#3a3a3a"/><circle cx="620.0" cy="53.8" r="0.38" fill="#666"/><circle cx="602.9" cy="23.7" r="0.53" fill="#3a3a3a"/><circle cx="591.5" cy="54.0" r="0.50" fill="#666"/><circle cx="569.7" cy="52.1" r="0.48" fill="#666"/><circle cx="606.8" cy="36.1" r="0.47" fill="#4e4e4e"/><circle cx="599.4" cy="66.6" r="0.49" fill="#444"/><circle cx="583.5" cy="8.2" r="0.45" fill="#444"/><circle cx="603.9" cy="65.8" r="0.58" fill="#4e4e4e"/><circle cx="556.9" cy="55.1" r="0.56" fill="#3a3a3a"/><circle cx="611.6" cy="18.9" r="0.50" fill="#444"/><circle cx="564.0" cy="42.6" r="0.44" fill="#666"/><circle cx="567.1" cy="53.6" r="0.60" fill="#666"/><circle cx="616.9" cy="38.8" r="0.39" fill="#666"/><circle cx="587.0" cy="78.2" r="0.45" fill="#666"/><circle cx="612.2" cy="52.7" r="0.42" fill="#5a5a5a"/><circle cx="576.0" cy="76.0" r="0.49" fill="#3a3a3a"/><circle cx="617.2" cy="40.2" r="0.43" fill="#5a5a5a"/><circle cx="605.3" cy="63.7" r="0.50" fill="#666"/><circle cx="612.9" cy="25.5" r="0.55" fill="#666"/><circle cx="607.3" cy="35.6" r="0.55" fill="#666"/><circle cx="592.5" cy="13.3" r="0.48" fill="#666"/><circle cx="557.4" cy="29.5" r="0.54" fill="#4e4e4e"/><circle cx="552.5" cy="32.3" r="0.47" fill="#3a3a3a"/><circle cx="596.8" cy="67.6" r="0.43" fill="#5a5a5a"/><circle cx="617.9" cy="45.2" r="0.58" fill="#444"/><circle cx="576.6" cy="15.7" r="0.39" fill="#666"/><circle cx="557.9" cy="28.4" r="0.46" fill="#666"/><circle cx="576.5" cy="30.2" r="0.50" fill="#4e4e4e"/><circle cx="596.6" cy="65.6" r="0.54" fill="#4e4e4e"/><circle cx="579.3" cy="25.9" r="0.37" fill="#666"/><circle cx="602.3" cy="71.8" r="0.45" fill="#4e4e4e"/><circle cx="559.2" cy="45.7" r="0.41" fill="#4e4e4e"/><circle cx="557.2" cy="58.3" r="0.53" fill="#3a3a3a"/><circle cx="572.2" cy="69.5" r="0.56" fill="#444"/><circle cx="555.5" cy="28.2" r="0.56" fill="#4e4e4e"/><circle cx="559.8" cy="37.6" r="0.55" fill="#4e4e4e"/><circle cx="580.8" cy="17.0" r="0.36" fill="#666"/><circle cx="593.4" cy="54.0" r="0.46" fill="#666"/><circle cx="593.3" cy="14.0" r="0.46" fill="#4e4e4e"/><circle cx="607.7" cy="31.6" r="0.43" fill="#5a5a5a"/><circle cx="590.7" cy="5.6" r="0.48" fill="#3a3a3a"/><circle cx="564.7" cy="37.7" r="0.47" fill="#444"/><circle cx="577.4" cy="33.9" r="0.40" fill="#3a3a3a"/><circle cx="563.3" cy="55.5" r="0.59" fill="#4e4e4e"/><circle cx="592.9" cy="50.3" r="0.36" fill="#4e4e4e"/><circle cx="596.2" cy="54.1" r="0.56" fill="#5a5a5a"/><circle cx="593.0" cy="30.0" r="0.40" fill="#5a5a5a"/><circle cx="588.0" cy="41.5" r="0.49" fill="#666"/><circle cx="590.6" cy="42.0" r="0.50" fill="#5a5a5a"/><circle cx="604.5" cy="71.9" r="0.50" fill="#5a5a5a"/><circle cx="562.1" cy="24.8" r="0.43" fill="#666"/><circle cx="606.5" cy="34.2" r="0.41" fill="#666"/><circle cx="572.9" cy="49.6" r="0.55" fill="#3a3a3a"/><circle cx="583.8" cy="31.2" r="0.46" fill="#666"/><circle cx="601.7" cy="73.4" r="0.45" fill="#444"/><circle cx="582.3" cy="52.4" r="0.57" fill="#4e4e4e"/><circle cx="617.6" cy="23.8" r="0.54" fill="#666"/><circle cx="574.9" cy="48.5" r="0.40" fill="#3a3a3a"/><circle cx="559.4" cy="56.0" r="0.50" fill="#5a5a5a"/><circle cx="601.7" cy="18.4" r="0.54" fill="#666"/><circle cx="597.3" cy="27.3" r="0.46" fill="#5a5a5a"/><circle cx="588.9" cy="39.0" r="0.59" fill="#3a3a3a"/><circle cx="580.1" cy="22.0" r="0.50" fill="#3a3a3a"/><circle cx="596.5" cy="22.9" r="0.44" fill="#5a5a5a"/><circle cx="595.9" cy="58.2" r="0.54" fill="#4e4e4e"/><circle cx="602.0" cy="27.6" r="0.39" fill="#5a5a5a"/><circle cx="582.2" cy="30.2" r="0.47" fill="#666"/><circle cx="597.7" cy="64.9" r="0.46" fill="#4e4e4e"/><circle cx="612.2" cy="60.6" r="0.38" fill="#5a5a5a"/><circle cx="566.2" cy="49.7" r="0.46" fill="#4e4e4e"/><circle cx="594.1" cy="42.9" r="0.38" fill="#444"/><circle cx="554.5" cy="59.0" r="0.37" fill="#3a3a3a"/><circle cx="550.6" cy="44.7" r="0.55" fill="#4e4e4e"/><circle cx="595.2" cy="46.3" r="0.40" fill="#5a5a5a"/><circle cx="571.8" cy="45.6" r="0.57" fill="#4e4e4e"/><circle cx="563.4" cy="33.9" r="0.41" fill="#3a3a3a"/><circle cx="591.0" cy="38.4" r="0.43" fill="#4e4e4e"/><circle cx="558.8" cy="46.5" r="0.51" fill="#666"/><circle cx="606.3" cy="21.1" r="0.43" fill="#444"/><circle cx="573.1" cy="58.7" r="0.56" fill="#3a3a3a"/><circle cx="571.1" cy="30.4" r="0.37" fill="#666"/><circle cx="564.7" cy="21.8" r="0.38" fill="#444"/><circle cx="564.9" cy="60.1" r="0.37" fill="#3a3a3a"/><circle cx="608.1" cy="59.8" r="0.53" fill="#4e4e4e"/><circle cx="588.9" cy="69.4" r="0.53" fill="#3a3a3a"/><circle cx="606.5" cy="29.0" r="0.46" fill="#4e4e4e"/><circle cx="614.6" cy="53.7" r="0.45" fill="#666"/><circle cx="600.1" cy="11.5" r="0.56" fill="#444"/><circle cx="586.1" cy="30.3" r="0.50" fill="#444"/><circle cx="608.9" cy="70.4" r="0.43" fill="#666"/><circle cx="621.8" cy="29.7" r="0.45" fill="#4e4e4e"/><circle cx="576.9" cy="28.3" r="0.48" fill="#5a5a5a"/><circle cx="577.3" cy="27.3" r="0.49" fill="#4e4e4e"/><circle cx="614.4" cy="57.5" r="0.39" fill="#444"/><circle cx="597.6" cy="16.2" r="0.37" fill="#444"/><circle cx="595.2" cy="22.3" r="0.39" fill="#4e4e4e"/><circle cx="613.2" cy="27.8" r="0.39" fill="#5a5a5a"/><circle cx="576.0" cy="38.2" r="0.56" fill="#3a3a3a"/><circle cx="600.6" cy="10.0" r="0.47" fill="#444"/><circle cx="620.6" cy="53.0" r="0.48" fill="#4e4e4e"/><circle cx="607.8" cy="51.3" r="0.44" fill="#4e4e4e"/><circle cx="595.3" cy="76.3" r="0.37" fill="#444"/><circle cx="611.9" cy="27.4" r="0.45" fill="#666"/><circle cx="576.5" cy="8.6" r="0.52" fill="#4e4e4e"/><circle cx="559.9" cy="32.2" r="0.39" fill="#4e4e4e"/><circle cx="566.8" cy="27.9" r="0.48" fill="#666"/><circle cx="615.7" cy="49.3" r="0.55" fill="#666"/></g>
<g filter="url(#blur1)"><circle cx="611.7" cy="36.9" r="3.8" fill="#8a8a8a" opacity="0.30"/><circle cx="619.4" cy="33.1" r="4.5" fill="#8a8a8a" opacity="0.32"/><circle cx="566.3" cy="37.3" r="2.9" fill="#8a8a8a" opacity="0.41"/><circle cx="567.1" cy="22.0" r="3.7" fill="#8a8a8a" opacity="0.30"/><circle cx="611.9" cy="46.1" r="3.1" fill="#8a8a8a" opacity="0.40"/><circle cx="619.2" cy="36.1" r="3.6" fill="#8a8a8a" opacity="0.39"/><circle cx="587.3" cy="48.5" r="4.2" fill="#8a8a8a" opacity="0.42"/><circle cx="579.0" cy="41.1" r="4.7" fill="#8a8a8a" opacity="0.37"/><circle cx="583.9" cy="24.8" r="3.4" fill="#8a8a8a" opacity="0.36"/><circle cx="591.4" cy="36.4" r="4.2" fill="#8a8a8a" opacity="0.44"/><circle cx="587.2" cy="40.8" r="3.3" fill="#8a8a8a" opacity="0.41"/><circle cx="575.5" cy="44.7" r="3.3" fill="#8a8a8a" opacity="0.42"/><circle cx="595.2" cy="38.8" r="5.0" fill="#8a8a8a" opacity="0.39"/><circle cx="566.9" cy="18.0" r="5.0" fill="#8a8a8a" opacity="0.43"/><circle cx="610.3" cy="23.8" r="3.2" fill="#8a8a8a" opacity="0.42"/><circle cx="575.4" cy="10.0" r="2.5" fill="#8a8a8a" opacity="0.30"/><circle cx="588.9" cy="17.3" r="2.8" fill="#8a8a8a" opacity="0.35"/><circle cx="578.5" cy="36.0" r="4.4" fill="#8a8a8a" opacity="0.40"/><circle cx="587.6" cy="20.4" r="3.2" fill="#8a8a8a" opacity="0.32"/><circle cx="603.1" cy="16.8" r="2.9" fill="#8a8a8a" opacity="0.29"/><circle cx="600.1" cy="45.2" r="4.4" fill="#8a8a8a" opacity="0.40"/><circle cx="588.1" cy="21.4" r="5.0" fill="#8a8a8a" opacity="0.30"/><circle cx="579.1" cy="47.5" r="4.2" fill="#8a8a8a" opacity="0.28"/><circle cx="572.6" cy="68.4" r="2.7" fill="#8a8a8a" opacity="0.36"/><circle cx="580.7" cy="23.6" r="3.7" fill="#8a8a8a" opacity="0.33"/><circle cx="592.1" cy="17.6" r="2.9" fill="#8a8a8a" opacity="0.40"/><circle cx="587.6" cy="32.9" r="3.5" fill="#8a8a8a" opacity="0.40"/><circle cx="607.8" cy="30.0" r="4.0" fill="#8a8a8a" opacity="0.34"/><circle cx="612.1" cy="32.1" r="3.4" fill="#8a8a8a" opacity="0.31"/><circle cx="575.1" cy="50.4" r="4.6" fill="#8a8a8a" opacity="0.35"/><circle cx="615.8" cy="46.7" r="2.8" fill="#8a8a8a" opacity="0.44"/><circle cx="583.8" cy="25.4" r="3.4" fill="#8a8a8a" opacity="0.33"/><circle cx="581.1" cy="13.5" r="3.7" fill="#8a8a8a" opacity="0.37"/><circle cx="617.2" cy="26.7" r="2.9" fill="#8a8a8a" opacity="0.31"/><circle cx="585.2" cy="12.3" r="3.7" fill="#8a8a8a" opacity="0.33"/><circle cx="594.0" cy="38.2" r="2.9" fill="#8a8a8a" opacity="0.29"/><circle cx="574.1" cy="28.3" r="3.1" fill="#8a8a8a" opacity="0.40"/><circle cx="616.0" cy="27.3" r="3.8" fill="#8a8a8a" opacity="0.33"/><circle cx="590.2" cy="47.7" r="3.8" fill="#8a8a8a" opacity="0.33"/><circle cx="596.9" cy="26.4" r="4.2" fill="#8a8a8a" opacity="0.39"/><circle cx="587.0" cy="63.7" r="3.6" fill="#8a8a8a" opacity="0.40"/><circle cx="610.7" cy="28.6" r="2.9" fill="#8a8a8a" opacity="0.43"/><circle cx="588.0" cy="72.9" r="3.8" fill="#8a8a8a" opacity="0.34"/><circle cx="605.1" cy="55.9" r="2.7" fill="#8a8a8a" opacity="0.29"/><circle cx="581.9" cy="16.6" r="2.8" fill="#8a8a8a" opacity="0.34"/><circle cx="599.3" cy="23.6" r="3.8" fill="#8a8a8a" opacity="0.38"/><circle cx="590.5" cy="45.0" r="4.9" fill="#8a8a8a" opacity="0.38"/><circle cx="583.4" cy="34.2" r="3.2" fill="#8a8a8a" opacity="0.33"/><circle cx="559.2" cy="24.1" r="4.7" fill="#8a8a8a" opacity="0.27"/><circle cx="579.3" cy="34.6" r="4.2" fill="#8a8a8a" opacity="0.45"/><circle cx="589.0" cy="42.0" r="3.6" fill="#8a8a8a" opacity="0.33"/><circle cx="567.5" cy="41.5" r="4.4" fill="#8a8a8a" opacity="0.34"/><circle cx="570.3" cy="52.7" r="3.5" fill="#8a8a8a" opacity="0.33"/></g>
<g filter="url(#blurC)"><circle cx="606.4" cy="23.8" r="0.9" fill="#ececec" opacity="0.66"/><circle cx="611.7" cy="36.9" r="1.8" fill="#ececec" opacity="0.85"/><circle cx="603.3" cy="21.8" r="1.5" fill="#ececec" opacity="0.84"/><circle cx="619.4" cy="33.1" r="1.4" fill="#ececec" opacity="0.63"/><circle cx="566.3" cy="37.3" r="1.2" fill="#ececec" opacity="0.55"/><circle cx="567.1" cy="22.0" r="1.0" fill="#ececec" opacity="0.81"/><circle cx="583.9" cy="26.3" r="2.0" fill="#ececec" opacity="0.85"/><circle cx="611.9" cy="46.1" r="1.6" fill="#ececec" opacity="0.56"/><circle cx="619.2" cy="36.1" r="1.6" fill="#ececec" opacity="0.67"/><circle cx="599.5" cy="27.3" r="1.3" fill="#ececec" opacity="0.90"/><circle cx="587.3" cy="48.5" r="1.5" fill="#ececec" opacity="0.88"/><circle cx="562.7" cy="45.5" r="1.3" fill="#ececec" opacity="0.66"/><circle cx="599.8" cy="32.6" r="1.7" fill="#ececec" opacity="0.62"/><circle cx="579.0" cy="41.1" r="1.7" fill="#ececec" opacity="0.76"/><circle cx="579.0" cy="17.5" r="1.3" fill="#ececec" opacity="0.84"/><circle cx="589.8" cy="68.6" r="1.1" fill="#ececec" opacity="0.54"/><circle cx="583.9" cy="24.8" r="1.0" fill="#ececec" opacity="0.56"/><circle cx="591.4" cy="36.4" r="0.9" fill="#ececec" opacity="0.55"/><circle cx="614.3" cy="47.1" r="1.2" fill="#ececec" opacity="0.90"/><circle cx="587.2" cy="40.8" r="1.4" fill="#ececec" opacity="0.77"/><circle cx="575.5" cy="44.7" r="1.9" fill="#ececec" opacity="0.64"/><circle cx="595.2" cy="38.8" r="1.5" fill="#ececec" opacity="0.72"/><circle cx="566.9" cy="18.0" r="1.8" fill="#ececec" opacity="0.63"/><circle cx="610.3" cy="23.8" r="1.6" fill="#ececec" opacity="0.83"/><circle cx="599.7" cy="11.1" r="1.9" fill="#ececec" opacity="0.57"/><circle cx="568.4" cy="13.0" r="1.4" fill="#ececec" opacity="0.84"/><circle cx="575.4" cy="10.0" r="1.9" fill="#ececec" opacity="0.52"/><circle cx="588.9" cy="17.3" r="1.2" fill="#ececec" opacity="0.75"/><circle cx="602.6" cy="38.5" r="0.9" fill="#ececec" opacity="0.67"/><circle cx="578.5" cy="36.0" r="0.8" fill="#ececec" opacity="0.64"/><circle cx="587.6" cy="20.4" r="1.5" fill="#ececec" opacity="0.85"/><circle cx="603.1" cy="16.8" r="1.8" fill="#ececec" opacity="0.58"/><circle cx="600.1" cy="45.2" r="1.9" fill="#ececec" opacity="0.90"/><circle cx="588.1" cy="21.4" r="1.9" fill="#ececec" opacity="0.63"/><circle cx="579.1" cy="47.5" r="2.0" fill="#ececec" opacity="0.65"/><circle cx="596.6" cy="9.3" r="1.7" fill="#ececec" opacity="0.50"/><circle cx="572.6" cy="68.4" r="1.6" fill="#ececec" opacity="0.89"/><circle cx="580.7" cy="23.6" r="1.2" fill="#ececec" opacity="0.81"/><circle cx="592.1" cy="17.6" r="1.5" fill="#ececec" opacity="0.86"/><circle cx="587.6" cy="32.9" r="1.1" fill="#ececec" opacity="0.83"/><circle cx="599.2" cy="26.8" r="1.2" fill="#ececec" opacity="0.58"/><circle cx="607.8" cy="30.0" r="1.8" fill="#ececec" opacity="0.54"/><circle cx="567.3" cy="58.6" r="0.8" fill="#ececec" opacity="0.64"/><circle cx="612.1" cy="32.1" r="1.8" fill="#ececec" opacity="0.88"/><circle cx="559.9" cy="45.7" r="0.9" fill="#ececec" opacity="0.82"/><circle cx="575.1" cy="50.4" r="1.8" fill="#ececec" opacity="0.57"/><circle cx="577.9" cy="47.1" r="1.2" fill="#ececec" opacity="0.65"/><circle cx="615.8" cy="46.7" r="1.2" fill="#ececec" opacity="0.85"/><circle cx="583.8" cy="25.4" r="1.9" fill="#ececec" opacity="0.71"/><circle cx="599.5" cy="11.7" r="1.1" fill="#ececec" opacity="0.88"/><circle cx="581.1" cy="13.5" r="1.0" fill="#ececec" opacity="0.57"/><circle cx="567.8" cy="60.0" r="1.4" fill="#ececec" opacity="0.89"/><circle cx="617.3" cy="32.9" r="1.0" fill="#ececec" opacity="0.68"/><circle cx="617.2" cy="26.7" r="1.4" fill="#ececec" opacity="0.67"/><circle cx="585.2" cy="12.3" r="1.8" fill="#ececec" opacity="0.74"/><circle cx="594.0" cy="38.2" r="1.7" fill="#ececec" opacity="0.77"/><circle cx="569.1" cy="45.0" r="1.5" fill="#ececec" opacity="0.51"/><circle cx="619.5" cy="33.8" r="1.7" fill="#ececec" opacity="0.59"/><circle cx="574.1" cy="28.3" r="1.6" fill="#ececec" opacity="0.74"/><circle cx="616.0" cy="27.3" r="0.8" fill="#ececec" opacity="0.76"/><circle cx="590.2" cy="47.7" r="1.0" fill="#ececec" opacity="0.69"/><circle cx="590.7" cy="10.1" r="2.0" fill="#ececec" opacity="0.58"/><circle cx="596.9" cy="26.4" r="1.7" fill="#ececec" opacity="0.61"/><circle cx="586.4" cy="68.7" r="1.7" fill="#ececec" opacity="0.89"/><circle cx="587.0" cy="63.7" r="1.3" fill="#ececec" opacity="0.51"/><circle cx="610.7" cy="28.6" r="1.4" fill="#ececec" opacity="0.58"/><circle cx="588.0" cy="72.9" r="1.1" fill="#ececec" opacity="0.78"/><circle cx="605.1" cy="55.9" r="1.8" fill="#ececec" opacity="0.79"/><circle cx="581.9" cy="16.6" r="1.2" fill="#ececec" opacity="0.61"/><circle cx="599.3" cy="23.6" r="1.4" fill="#ececec" opacity="0.53"/><circle cx="590.5" cy="45.0" r="0.9" fill="#ececec" opacity="0.82"/><circle cx="583.4" cy="34.2" r="1.8" fill="#ececec" opacity="0.85"/><circle cx="597.7" cy="35.7" r="1.2" fill="#ececec" opacity="0.68"/><circle cx="554.5" cy="31.2" r="1.9" fill="#ececec" opacity="0.73"/><circle cx="559.2" cy="24.1" r="1.7" fill="#ececec" opacity="0.69"/><circle cx="579.3" cy="34.6" r="1.1" fill="#ececec" opacity="0.67"/><circle cx="589.0" cy="42.0" r="1.6" fill="#ececec" opacity="0.87"/><circle cx="567.5" cy="41.5" r="1.3" fill="#ececec" opacity="0.67"/><circle cx="566.6" cy="35.4" r="2.0" fill="#ececec" opacity="0.87"/><circle cx="570.3" cy="52.7" r="1.0" fill="#ececec" opacity="0.56"/></g>
<g filter="url(#blur0)"><circle cx="609.1" cy="24.1" r="0.61" fill="#ccc"/><circle cx="605.7" cy="24.1" r="0.63" fill="#eee"/><circle cx="606.5" cy="23.6" r="0.64" fill="#ccc"/><circle cx="606.2" cy="24.7" r="0.58" fill="#eee"/><circle cx="610.4" cy="38.2" r="0.53" fill="#ddd"/><circle cx="613.6" cy="37.5" r="0.45" fill="#bbb"/><circle cx="612.6" cy="37.3" r="0.55" fill="#eee"/><circle cx="614.9" cy="40.0" r="0.45" fill="#fff"/><circle cx="612.0" cy="37.3" r="0.49" fill="#fff"/><circle cx="611.8" cy="31.9" r="0.47" fill="#bbb"/><circle cx="609.3" cy="37.4" r="0.35" fill="#fff"/><circle cx="613.4" cy="34.6" r="0.56" fill="#ccc"/><circle cx="604.6" cy="21.4" r="0.45" fill="#bbb"/><circle cx="604.1" cy="20.5" r="0.33" fill="#fff"/><circle cx="600.3" cy="19.9" r="0.34" fill="#ddd"/><circle cx="601.0" cy="24.8" r="0.34" fill="#eee"/><circle cx="602.9" cy="21.2" r="0.47" fill="#bbb"/><circle cx="604.1" cy="21.7" r="0.54" fill="#ccc"/><circle cx="601.2" cy="20.8" r="0.55" fill="#ccc"/><circle cx="618.2" cy="32.3" r="0.49" fill="#bbb"/><circle cx="620.2" cy="37.0" r="0.61" fill="#ddd"/><circle cx="621.2" cy="32.5" r="0.41" fill="#fff"/><circle cx="620.7" cy="35.6" r="0.42" fill="#ccc"/><circle cx="618.1" cy="32.3" r="0.60" fill="#ccc"/><circle cx="618.5" cy="31.5" r="0.54" fill="#bbb"/><circle cx="616.9" cy="33.5" r="0.31" fill="#ddd"/><circle cx="621.5" cy="33.0" r="0.63" fill="#fff"/><circle cx="567.2" cy="36.0" r="0.65" fill="#bbb"/><circle cx="567.7" cy="38.9" r="0.70" fill="#eee"/><circle cx="567.5" cy="35.7" r="0.66" fill="#bbb"/><circle cx="565.4" cy="37.1" r="0.52" fill="#fff"/><circle cx="566.6" cy="34.8" r="0.61" fill="#fff"/><circle cx="568.6" cy="22.1" r="0.58" fill="#bbb"/><circle cx="566.3" cy="21.6" r="0.54" fill="#ddd"/><circle cx="565.4" cy="19.9" r="0.34" fill="#ccc"/><circle cx="565.5" cy="22.0" r="0.38" fill="#fff"/><circle cx="568.0" cy="22.3" r="0.35" fill="#fff"/><circle cx="582.8" cy="29.3" r="0.51" fill="#eee"/><circle cx="584.1" cy="27.6" r="0.44" fill="#bbb"/><circle cx="583.1" cy="24.2" r="0.55" fill="#ddd"/><circle cx="583.2" cy="29.6" r="0.64" fill="#fff"/><circle cx="583.5" cy="30.5" r="0.47" fill="#fff"/><circle cx="587.3" cy="25.6" r="0.47" fill="#ccc"/><circle cx="584.3" cy="25.3" r="0.67" fill="#fff"/><circle cx="613.7" cy="45.5" r="0.50" fill="#ddd"/><circle cx="612.6" cy="47.0" r="0.39" fill="#eee"/><circle cx="613.5" cy="45.5" r="0.43" fill="#ccc"/><circle cx="612.2" cy="47.4" r="0.45" fill="#bbb"/><circle cx="609.0" cy="46.5" r="0.30" fill="#bbb"/><circle cx="610.7" cy="49.0" r="0.70" fill="#ddd"/><circle cx="620.0" cy="33.5" r="0.57" fill="#ccc"/><circle cx="619.6" cy="34.4" r="0.65" fill="#bbb"/><circle cx="621.6" cy="38.8" r="0.65" fill="#fff"/><circle cx="618.6" cy="34.3" r="0.43" fill="#bbb"/><circle cx="599.6" cy="29.7" r="0.50" fill="#eee"/><circle cx="598.4" cy="23.2" r="0.47" fill="#bbb"/><circle cx="597.7" cy="26.7" r="0.55" fill="#fff"/><circle cx="600.4" cy="27.0" r="0.32" fill="#eee"/><circle cx="585.4" cy="46.8" r="0.54" fill="#eee"/><circle cx="585.4" cy="48.7" r="0.63" fill="#bbb"/><circle cx="589.8" cy="50.4" r="0.52" fill="#eee"/><circle cx="585.9" cy="48.2" r="0.52" fill="#fff"/><circle cx="587.2" cy="47.7" r="0.48" fill="#ddd"/><circle cx="587.3" cy="47.0" r="0.46" fill="#fff"/><circle cx="565.0" cy="45.9" r="0.61" fill="#eee"/><circle cx="561.0" cy="44.8" r="0.50" fill="#eee"/><circle cx="562.2" cy="46.0" r="0.33" fill="#bbb"/><circle cx="560.9" cy="42.1" r="0.42" fill="#fff"/><circle cx="565.7" cy="46.3" r="0.33" fill="#fff"/><circle cx="564.2" cy="45.9" r="0.34" fill="#ddd"/><circle cx="597.3" cy="30.2" r="0.66" fill="#eee"/><circle cx="598.5" cy="34.4" r="0.54" fill="#ddd"/><circle cx="602.4" cy="32.4" r="0.42" fill="#eee"/><circle cx="603.2" cy="32.5" r="0.59" fill="#ddd"/><circle cx="597.6" cy="31.2" r="0.65" fill="#ddd"/><circle cx="600.0" cy="31.6" r="0.64" fill="#eee"/><circle cx="578.9" cy="42.3" r="0.63" fill="#eee"/><circle cx="582.1" cy="40.4" r="0.33" fill="#bbb"/><circle cx="576.9" cy="43.0" r="0.32" fill="#eee"/><circle cx="578.3" cy="18.0" r="0.61" fill="#ddd"/><circle cx="578.8" cy="16.0" r="0.43" fill="#ccc"/><circle cx="582.1" cy="18.9" r="0.51" fill="#fff"/><circle cx="578.5" cy="15.3" r="0.54" fill="#fff"/><circle cx="587.7" cy="69.1" r="0.31" fill="#eee"/><circle cx="589.1" cy="70.6" r="0.66" fill="#ddd"/><circle cx="589.7" cy="70.2" r="0.32" fill="#ddd"/><circle cx="591.6" cy="66.8" r="0.32" fill="#ccc"/><circle cx="582.8" cy="27.3" r="0.40" fill="#fff"/><circle cx="584.7" cy="24.0" r="0.55" fill="#eee"/><circle cx="585.5" cy="26.7" r="0.48" fill="#fff"/><circle cx="592.7" cy="36.7" r="0.37" fill="#ccc"/><circle cx="587.5" cy="35.6" r="0.36" fill="#eee"/><circle cx="592.4" cy="36.5" r="0.33" fill="#bbb"/><circle cx="590.3" cy="36.1" r="0.52" fill="#fff"/><circle cx="588.3" cy="40.7" r="0.65" fill="#ccc"/><circle cx="589.3" cy="36.0" r="0.34" fill="#ddd"/><circle cx="591.6" cy="34.1" r="0.66" fill="#eee"/><circle cx="591.5" cy="36.8" r="0.64" fill="#fff"/><circle cx="614.6" cy="48.9" r="0.59" fill="#ccc"/><circle cx="611.4" cy="45.2" r="0.62" fill="#fff"/><circle cx="616.5" cy="47.6" r="0.46" fill="#bbb"/><circle cx="614.2" cy="47.6" r="0.42" fill="#eee"/><circle cx="591.1" cy="39.7" r="0.67" fill="#fff"/><circle cx="587.0" cy="43.0" r="0.65" fill="#bbb"/><circle cx="587.4" cy="42.0" r="0.32" fill="#eee"/><circle cx="589.3" cy="37.6" r="0.36" fill="#fff"/><circle cx="590.8" cy="43.3" r="0.47" fill="#bbb"/><circle cx="591.4" cy="39.6" r="0.53" fill="#eee"/><circle cx="579.9" cy="42.9" r="0.65" fill="#ccc"/><circle cx="577.0" cy="45.4" r="0.50" fill="#ccc"/><circle cx="574.5" cy="43.1" r="0.40" fill="#bbb"/><circle cx="576.8" cy="44.3" r="0.44" fill="#ccc"/><circle cx="577.8" cy="44.6" r="0.66" fill="#ccc"/><circle cx="576.3" cy="43.9" r="0.55" fill="#bbb"/><circle cx="575.3" cy="45.1" r="0.50" fill="#bbb"/><circle cx="577.5" cy="44.5" r="0.55" fill="#fff"/><circle cx="593.2" cy="39.4" r="0.57" fill="#ddd"/><circle cx="594.8" cy="41.2" r="0.64" fill="#bbb"/><circle cx="596.0" cy="39.6" r="0.59" fill="#ddd"/><circle cx="595.0" cy="36.7" r="0.31" fill="#ccc"/><circle cx="566.8" cy="19.5" r="0.53" fill="#fff"/><circle cx="565.9" cy="19.9" r="0.39" fill="#eee"/><circle cx="566.8" cy="16.9" r="0.46" fill="#ddd"/><circle cx="568.7" cy="13.7" r="0.57" fill="#ccc"/><circle cx="567.4" cy="17.3" r="0.53" fill="#ccc"/><circle cx="567.3" cy="17.8" r="0.41" fill="#fff"/><circle cx="566.8" cy="19.1" r="0.55" fill="#ccc"/><circle cx="609.3" cy="25.5" r="0.40" fill="#ddd"/><circle cx="611.9" cy="23.5" r="0.31" fill="#fff"/><circle cx="608.5" cy="23.7" r="0.39" fill="#eee"/><circle cx="609.4" cy="24.5" r="0.48" fill="#fff"/><circle cx="611.2" cy="21.8" r="0.64" fill="#fff"/><circle cx="611.1" cy="28.0" r="0.69" fill="#bbb"/><circle cx="607.1" cy="25.1" r="0.64" fill="#bbb"/><circle cx="609.0" cy="25.1" r="0.41" fill="#ccc"/><circle cx="599.3" cy="10.9" r="0.63" fill="#ccc"/><circle cx="599.7" cy="10.0" r="0.36" fill="#ccc"/><circle cx="596.7" cy="10.2" r="0.55" fill="#bbb"/><circle cx="599.5" cy="12.9" r="0.41" fill="#ccc"/><circle cx="598.1" cy="13.4" r="0.52" fill="#ccc"/><circle cx="568.5" cy="15.2" r="0.39" fill="#bbb"/><circle cx="571.0" cy="13.3" r="0.58" fill="#ddd"/><circle cx="567.3" cy="13.9" r="0.40" fill="#bbb"/><circle cx="571.7" cy="13.3" r="0.39" fill="#fff"/><circle cx="568.8" cy="13.4" r="0.34" fill="#fff"/><circle cx="575.1" cy="8.0" r="0.32" fill="#fff"/><circle cx="577.3" cy="10.7" r="0.44" fill="#eee"/><circle cx="573.9" cy="10.7" r="0.65" fill="#ddd"/><circle cx="577.0" cy="9.3" r="0.39" fill="#fff"/><circle cx="575.0" cy="7.8" r="0.47" fill="#ccc"/><circle cx="577.9" cy="8.4" r="0.41" fill="#bbb"/><circle cx="575.7" cy="10.5" r="0.69" fill="#ddd"/><circle cx="586.8" cy="15.0" r="0.53" fill="#ddd"/><circle cx="589.9" cy="17.2" r="0.51" fill="#fff"/><circle cx="586.1" cy="17.7" r="0.55" fill="#ddd"/><circle cx="601.8" cy="35.5" r="0.37" fill="#ddd"/><circle cx="602.5" cy="36.0" r="0.50" fill="#ccc"/><circle cx="602.4" cy="38.1" r="0.31" fill="#fff"/><circle cx="602.6" cy="39.8" r="0.48" fill="#ccc"/><circle cx="601.0" cy="37.5" r="0.67" fill="#ddd"/><circle cx="603.2" cy="38.1" r="0.32" fill="#bbb"/><circle cx="604.8" cy="41.2" r="0.68" fill="#ccc"/><circle cx="603.1" cy="38.9" r="0.41" fill="#eee"/><circle cx="575.7" cy="36.7" r="0.41" fill="#bbb"/><circle cx="582.5" cy="35.4" r="0.52" fill="#ddd"/><circle cx="580.4" cy="34.0" r="0.40" fill="#ccc"/><circle cx="578.3" cy="34.5" r="0.31" fill="#bbb"/><circle cx="577.8" cy="33.6" r="0.44" fill="#ddd"/><circle cx="576.2" cy="32.6" r="0.58" fill="#fff"/><circle cx="576.3" cy="36.9" r="0.43" fill="#bbb"/><circle cx="580.9" cy="33.9" r="0.53" fill="#fff"/><circle cx="585.1" cy="21.3" r="0.47" fill="#fff"/><circle cx="587.3" cy="16.8" r="0.30" fill="#fff"/><circle cx="589.8" cy="19.5" r="0.60" fill="#ccc"/><circle cx="586.6" cy="21.9" r="0.36" fill="#fff"/><circle cx="589.0" cy="19.8" r="0.46" fill="#bbb"/><circle cx="585.7" cy="17.9" r="0.59" fill="#ccc"/><circle cx="583.4" cy="17.9" r="0.60" fill="#ddd"/><circle cx="591.3" cy="21.2" r="0.68" fill="#bbb"/><circle cx="604.5" cy="15.9" r="0.46" fill="#ccc"/><circle cx="607.1" cy="16.4" r="0.50" fill="#eee"/><circle cx="601.6" cy="14.8" r="0.46" fill="#bbb"/><circle cx="600.8" cy="18.6" r="0.36" fill="#ddd"/><circle cx="602.1" cy="15.7" r="0.35" fill="#ddd"/><circle cx="607.8" cy="15.7" r="0.49" fill="#fff"/><circle cx="597.0" cy="45.9" r="0.39" fill="#fff"/><circle cx="603.3" cy="47.8" r="0.53" fill="#fff"/><circle cx="601.1" cy="46.1" r="0.63" fill="#eee"/><circle cx="602.7" cy="47.5" r="0.69" fill="#ccc"/><circle cx="587.2" cy="20.5" r="0.53" fill="#bbb"/><circle cx="590.7" cy="18.9" r="0.44" fill="#eee"/><circle cx="585.5" cy="19.4" r="0.57" fill="#bbb"/><circle cx="586.5" cy="24.6" r="0.68" fill="#fff"/><circle cx="588.7" cy="20.0" r="0.33" fill="#ccc"/><circle cx="588.5" cy="21.0" r="0.52" fill="#ddd"/><circle cx="586.0" cy="20.1" r="0.48" fill="#ddd"/><circle cx="580.1" cy="45.1" r="0.56" fill="#ddd"/><circle cx="579.5" cy="45.4" r="0.45" fill="#fff"/><circle cx="578.9" cy="46.7" r="0.62" fill="#ccc"/><circle cx="596.3" cy="11.0" r="0.43" fill="#eee"/><circle cx="594.9" cy="7.7" r="0.30" fill="#bbb"/><circle cx="596.1" cy="7.3" r="0.46" fill="#eee"/><circle cx="594.5" cy="12.5" r="0.34" fill="#ccc"/><circle cx="569.8" cy="67.9" r="0.38" fill="#ddd"/><circle cx="573.5" cy="71.7" r="0.45" fill="#eee"/><circle cx="572.6" cy="68.5" r="0.61" fill="#ccc"/><circle cx="578.8" cy="24.5" r="0.62" fill="#bbb"/><circle cx="580.5" cy="24.8" r="0.46" fill="#ccc"/><circle cx="582.2" cy="24.9" r="0.57" fill="#bbb"/><circle cx="581.0" cy="22.6" r="0.45" fill="#ddd"/><circle cx="590.7" cy="20.2" r="0.60" fill="#bbb"/><circle cx="593.5" cy="17.9" r="0.66" fill="#ccc"/><circle cx="591.8" cy="17.4" r="0.66" fill="#fff"/><circle cx="592.7" cy="16.6" r="0.40" fill="#eee"/><circle cx="592.7" cy="17.2" r="0.58" fill="#ddd"/><circle cx="589.8" cy="20.0" r="0.34" fill="#eee"/><circle cx="593.9" cy="17.6" r="0.43" fill="#bbb"/><circle cx="592.6" cy="16.0" r="0.62" fill="#bbb"/><circle cx="590.4" cy="31.9" r="0.61" fill="#ddd"/><circle cx="584.4" cy="30.2" r="0.39" fill="#ccc"/><circle cx="585.9" cy="33.2" r="0.59" fill="#ddd"/><circle cx="589.3" cy="34.2" r="0.37" fill="#fff"/><circle cx="587.6" cy="29.8" r="0.48" fill="#bbb"/><circle cx="597.0" cy="28.0" r="0.46" fill="#fff"/><circle cx="599.0" cy="25.6" r="0.57" fill="#ccc"/><circle cx="598.5" cy="27.3" r="0.66" fill="#eee"/><circle cx="598.5" cy="25.8" r="0.69" fill="#ddd"/><circle cx="599.8" cy="23.3" r="0.62" fill="#ddd"/><circle cx="608.8" cy="28.1" r="0.35" fill="#ccc"/><circle cx="607.0" cy="31.4" r="0.32" fill="#ddd"/><circle cx="604.2" cy="29.9" r="0.50" fill="#ddd"/><circle cx="607.7" cy="31.5" r="0.69" fill="#ddd"/><circle cx="607.6" cy="33.7" r="0.68" fill="#ccc"/><circle cx="566.6" cy="54.8" r="0.32" fill="#ccc"/><circle cx="563.1" cy="56.2" r="0.32" fill="#ddd"/><circle cx="567.2" cy="58.1" r="0.68" fill="#fff"/><circle cx="566.1" cy="57.5" r="0.44" fill="#fff"/><circle cx="565.7" cy="57.0" r="0.51" fill="#eee"/><circle cx="567.6" cy="58.7" r="0.31" fill="#ccc"/><circle cx="611.6" cy="34.8" r="0.64" fill="#eee"/><circle cx="609.9" cy="33.2" r="0.32" fill="#fff"/><circle cx="608.7" cy="35.0" r="0.45" fill="#fff"/><circle cx="608.5" cy="33.7" r="0.43" fill="#eee"/><circle cx="610.4" cy="31.0" r="0.53" fill="#eee"/><circle cx="611.4" cy="30.7" r="0.65" fill="#ccc"/><circle cx="614.0" cy="36.0" r="0.68" fill="#bbb"/><circle cx="614.2" cy="32.0" r="0.62" fill="#fff"/><circle cx="559.4" cy="44.5" r="0.41" fill="#fff"/><circle cx="559.9" cy="46.4" r="0.40" fill="#bbb"/><circle cx="558.1" cy="46.3" r="0.42" fill="#fff"/><circle cx="561.0" cy="46.1" r="0.52" fill="#ddd"/><circle cx="561.8" cy="47.6" r="0.30" fill="#bbb"/><circle cx="559.8" cy="45.7" r="0.44" fill="#ccc"/><circle cx="576.6" cy="52.8" r="0.37" fill="#fff"/><circle cx="574.4" cy="48.2" r="0.51" fill="#ccc"/><circle cx="574.9" cy="49.2" r="0.57" fill="#ccc"/><circle cx="574.1" cy="48.5" r="0.62" fill="#bbb"/><circle cx="575.3" cy="49.3" r="0.56" fill="#ccc"/><circle cx="578.3" cy="47.8" r="0.52" fill="#ccc"/><circle cx="576.5" cy="49.4" r="0.38" fill="#ddd"/><circle cx="575.1" cy="45.2" r="0.57" fill="#eee"/><circle cx="575.1" cy="44.5" r="0.58" fill="#eee"/><circle cx="614.0" cy="48.9" r="0.56" fill="#bbb"/><circle cx="616.0" cy="45.5" r="0.34" fill="#fff"/><circle cx="615.3" cy="49.6" r="0.37" fill="#eee"/><circle cx="614.3" cy="44.7" r="0.40" fill="#ccc"/><circle cx="616.1" cy="48.0" r="0.61" fill="#fff"/><circle cx="583.0" cy="21.2" r="0.68" fill="#ddd"/><circle cx="581.7" cy="27.7" r="0.55" fill="#ddd"/><circle cx="583.4" cy="26.8" r="0.49" fill="#ddd"/><circle cx="585.1" cy="27.4" r="0.46" fill="#eee"/><circle cx="599.3" cy="14.8" r="0.48" fill="#eee"/><circle cx="599.0" cy="13.0" r="0.63" fill="#fff"/><circle cx="598.6" cy="9.8" r="0.63" fill="#ccc"/><circle cx="579.5" cy="14.2" r="0.59" fill="#bbb"/><circle cx="581.2" cy="10.5" r="0.42" fill="#ccc"/><circle cx="584.8" cy="16.0" r="0.58" fill="#eee"/><circle cx="583.1" cy="12.3" r="0.35" fill="#ccc"/><circle cx="581.5" cy="13.0" r="0.38" fill="#bbb"/><circle cx="584.6" cy="13.4" r="0.45" fill="#ccc"/><circle cx="569.4" cy="61.8" r="0.43" fill="#ddd"/><circle cx="564.9" cy="61.1" r="0.45" fill="#eee"/><circle cx="569.9" cy="59.1" r="0.31" fill="#eee"/><circle cx="568.2" cy="61.3" r="0.35" fill="#eee"/><circle cx="570.0" cy="59.6" r="0.45" fill="#fff"/><circle cx="568.4" cy="58.9" r="0.56" fill="#ddd"/><circle cx="568.2" cy="60.5" r="0.54" fill="#eee"/><circle cx="567.4" cy="63.2" r="0.66" fill="#fff"/><circle cx="616.3" cy="32.1" r="0.52" fill="#ccc"/><circle cx="614.9" cy="33.0" r="0.40" fill="#ccc"/><circle cx="618.2" cy="33.3" r="0.54" fill="#eee"/><circle cx="617.0" cy="31.9" r="0.69" fill="#ddd"/><circle cx="616.3" cy="27.8" r="0.49" fill="#bbb"/><circle cx="618.0" cy="22.7" r="0.39" fill="#bbb"/><circle cx="618.9" cy="28.4" r="0.60" fill="#ccc"/><circle cx="615.9" cy="28.1" r="0.68" fill="#bbb"/><circle cx="616.0" cy="28.7" r="0.32" fill="#eee"/><circle cx="582.6" cy="12.9" r="0.53" fill="#ccc"/><circle cx="584.0" cy="13.9" r="0.49" fill="#bbb"/><circle cx="585.0" cy="13.5" r="0.39" fill="#bbb"/><circle cx="587.3" cy="14.0" r="0.64" fill="#eee"/><circle cx="582.5" cy="12.1" r="0.50" fill="#ddd"/><circle cx="586.3" cy="12.8" r="0.42" fill="#fff"/><circle cx="584.8" cy="13.5" r="0.70" fill="#fff"/><circle cx="593.4" cy="39.4" r="0.37" fill="#fff"/><circle cx="595.7" cy="38.7" r="0.67" fill="#eee"/><circle cx="596.1" cy="38.4" r="0.45" fill="#ccc"/><circle cx="594.3" cy="37.9" r="0.57" fill="#bbb"/><circle cx="593.0" cy="39.0" r="0.52" fill="#fff"/><circle cx="597.4" cy="39.1" r="0.56" fill="#eee"/><circle cx="572.5" cy="45.8" r="0.48" fill="#eee"/><circle cx="568.5" cy="43.1" r="0.40" fill="#eee"/><circle cx="566.3" cy="44.9" r="0.35" fill="#bbb"/><circle cx="568.5" cy="43.3" r="0.45" fill="#ccc"/><circle cx="570.9" cy="45.4" r="0.68" fill="#ccc"/><circle cx="619.7" cy="36.0" r="0.56" fill="#ddd"/><circle cx="618.9" cy="35.8" r="0.53" fill="#bbb"/><circle cx="616.5" cy="33.7" r="0.41" fill="#eee"/><circle cx="621.8" cy="33.3" r="0.60" fill="#fff"/><circle cx="572.8" cy="31.3" r="0.48" fill="#eee"/><circle cx="576.6" cy="29.7" r="0.32" fill="#bbb"/><circle cx="577.8" cy="26.8" r="0.67" fill="#ddd"/><circle cx="575.7" cy="27.6" r="0.66" fill="#eee"/><circle cx="571.0" cy="29.1" r="0.45" fill="#ccc"/><circle cx="573.6" cy="30.7" r="0.63" fill="#ddd"/><circle cx="573.5" cy="27.8" r="0.42" fill="#ccc"/><circle cx="614.6" cy="31.8" r="0.60" fill="#eee"/><circle cx="617.1" cy="26.7" r="0.32" fill="#fff"/><circle cx="617.2" cy="27.4" r="0.43" fill="#ccc"/><circle cx="615.7" cy="25.9" r="0.51" fill="#bbb"/><circle cx="593.0" cy="47.1" r="0.65" fill="#eee"/><circle cx="590.8" cy="47.0" r="0.44" fill="#ccc"/><circle cx="591.4" cy="44.5" r="0.45" fill="#fff"/><circle cx="589.5" cy="49.5" r="0.39" fill="#eee"/><circle cx="588.2" cy="46.6" r="0.30" fill="#fff"/><circle cx="592.7" cy="9.9" r="0.70" fill="#eee"/><circle cx="594.4" cy="9.6" r="0.68" fill="#fff"/><circle cx="594.2" cy="9.8" r="0.56" fill="#bbb"/><circle cx="585.4" cy="8.4" r="0.36" fill="#ccc"/><circle cx="596.7" cy="24.8" r="0.35" fill="#eee"/><circle cx="599.7" cy="24.0" r="0.61" fill="#eee"/><circle cx="591.1" cy="22.4" r="0.30" fill="#ddd"/><circle cx="599.0" cy="29.1" r="0.62" fill="#fff"/><circle cx="598.7" cy="25.7" r="0.42" fill="#ccc"/><circle cx="598.2" cy="27.8" r="0.61" fill="#ddd"/><circle cx="594.7" cy="29.4" r="0.69" fill="#eee"/><circle cx="598.2" cy="26.5" r="0.50" fill="#fff"/><circle cx="591.2" cy="71.3" r="0.69" fill="#fff"/><circle cx="585.8" cy="68.0" r="0.62" fill="#ccc"/><circle cx="586.0" cy="64.3" r="0.54" fill="#eee"/><circle cx="586.5" cy="66.6" r="0.34" fill="#eee"/><circle cx="588.3" cy="62.8" r="0.33" fill="#ddd"/><circle cx="590.5" cy="62.1" r="0.38" fill="#eee"/><circle cx="587.6" cy="61.6" r="0.47" fill="#fff"/><circle cx="584.6" cy="66.7" r="0.55" fill="#eee"/><circle cx="586.3" cy="64.6" r="0.54" fill="#ccc"/><circle cx="588.9" cy="63.7" r="0.33" fill="#fff"/><circle cx="610.7" cy="30.4" r="0.53" fill="#ddd"/><circle cx="608.4" cy="29.6" r="0.38" fill="#fff"/><circle cx="608.8" cy="29.7" r="0.44" fill="#ccc"/><circle cx="611.9" cy="29.7" r="0.68" fill="#eee"/><circle cx="606.9" cy="30.9" r="0.38" fill="#eee"/><circle cx="610.0" cy="26.2" r="0.64" fill="#eee"/><circle cx="608.5" cy="34.1" r="0.41" fill="#fff"/><circle cx="607.1" cy="26.3" r="0.48" fill="#bbb"/><circle cx="589.7" cy="72.1" r="0.50" fill="#eee"/><circle cx="590.0" cy="72.5" r="0.66" fill="#ccc"/><circle cx="587.1" cy="72.6" r="0.39" fill="#bbb"/><circle cx="585.6" cy="73.1" r="0.51" fill="#ddd"/><circle cx="606.2" cy="56.4" r="0.44" fill="#fff"/><circle cx="605.3" cy="58.1" r="0.52" fill="#ccc"/><circle cx="605.8" cy="57.1" r="0.68" fill="#eee"/><circle cx="604.5" cy="55.8" r="0.64" fill="#eee"/><circle cx="582.2" cy="15.6" r="0.39" fill="#ddd"/><circle cx="580.5" cy="19.1" r="0.40" fill="#fff"/><circle cx="583.6" cy="16.3" r="0.52" fill="#fff"/><circle cx="596.5" cy="24.3" r="0.42" fill="#ddd"/><circle cx="597.9" cy="27.9" r="0.42" fill="#ccc"/><circle cx="598.2" cy="24.6" r="0.53" fill="#fff"/><circle cx="599.2" cy="23.3" r="0.47" fill="#fff"/><circle cx="600.0" cy="26.0" r="0.49" fill="#eee"/><circle cx="600.4" cy="24.1" r="0.39" fill="#ddd"/><circle cx="598.3" cy="27.0" r="0.58" fill="#ccc"/><circle cx="597.4" cy="22.6" r="0.45" fill="#ccc"/><circle cx="595.2" cy="45.9" r="0.48" fill="#bbb"/><circle cx="589.9" cy="41.7" r="0.70" fill="#ccc"/><circle cx="588.0" cy="41.8" r="0.45" fill="#ccc"/><circle cx="591.7" cy="43.4" r="0.67" fill="#eee"/><circle cx="592.0" cy="45.1" r="0.66" fill="#ccc"/><circle cx="592.4" cy="42.6" r="0.59" fill="#bbb"/><circle cx="590.1" cy="44.2" r="0.46" fill="#ccc"/><circle cx="586.8" cy="47.0" r="0.69" fill="#eee"/><circle cx="582.7" cy="32.5" r="0.36" fill="#bbb"/><circle cx="585.4" cy="35.1" r="0.32" fill="#eee"/><circle cx="583.9" cy="31.2" r="0.66" fill="#bbb"/><circle cx="579.4" cy="35.1" r="0.49" fill="#ddd"/><circle cx="585.4" cy="34.4" r="0.44" fill="#bbb"/><circle cx="582.6" cy="30.7" r="0.38" fill="#ddd"/><circle cx="579.8" cy="35.1" r="0.69" fill="#ddd"/><circle cx="582.4" cy="33.2" r="0.33" fill="#ccc"/><circle cx="595.2" cy="36.6" r="0.51" fill="#ddd"/><circle cx="599.2" cy="32.6" r="0.66" fill="#bbb"/><circle cx="597.3" cy="36.7" r="0.58" fill="#ddd"/><circle cx="598.6" cy="34.1" r="0.57" fill="#fff"/><circle cx="597.0" cy="36.3" r="0.37" fill="#fff"/><circle cx="554.1" cy="28.0" r="0.42" fill="#eee"/><circle cx="554.3" cy="31.3" r="0.35" fill="#eee"/><circle cx="551.8" cy="32.4" r="0.58" fill="#ddd"/><circle cx="552.0" cy="30.3" r="0.34" fill="#eee"/><circle cx="554.8" cy="29.0" r="0.34" fill="#ccc"/><circle cx="556.9" cy="32.1" r="0.31" fill="#ddd"/><circle cx="557.7" cy="31.0" r="0.44" fill="#fff"/><circle cx="558.2" cy="23.1" r="0.37" fill="#ddd"/><circle cx="558.7" cy="26.2" r="0.63" fill="#bbb"/><circle cx="559.5" cy="23.8" r="0.45" fill="#eee"/><circle cx="557.4" cy="26.8" r="0.42" fill="#eee"/><circle cx="559.2" cy="22.7" r="0.56" fill="#bbb"/><circle cx="557.5" cy="23.3" r="0.63" fill="#ccc"/><circle cx="561.6" cy="24.5" r="0.34" fill="#ccc"/><circle cx="576.4" cy="33.2" r="0.50" fill="#fff"/><circle cx="579.9" cy="36.9" r="0.49" fill="#ccc"/><circle cx="578.2" cy="34.3" r="0.35" fill="#fff"/><circle cx="577.5" cy="34.9" r="0.34" fill="#bbb"/><circle cx="577.3" cy="35.2" r="0.32" fill="#fff"/><circle cx="580.1" cy="33.9" r="0.62" fill="#ddd"/><circle cx="582.5" cy="32.0" r="0.48" fill="#fff"/><circle cx="587.7" cy="41.1" r="0.65" fill="#fff"/><circle cx="589.5" cy="43.5" r="0.43" fill="#eee"/><circle cx="591.6" cy="43.4" r="0.52" fill="#ddd"/><circle cx="565.5" cy="41.7" r="0.48" fill="#bbb"/><circle cx="565.5" cy="43.9" r="0.70" fill="#bbb"/><circle cx="568.8" cy="38.3" r="0.30" fill="#eee"/><circle cx="567.7" cy="37.7" r="0.64" fill="#eee"/><circle cx="567.4" cy="36.4" r="0.62" fill="#ccc"/><circle cx="568.3" cy="36.5" r="0.46" fill="#bbb"/><circle cx="564.3" cy="33.5" r="0.68" fill="#bbb"/><circle cx="563.8" cy="35.3" r="0.41" fill="#ccc"/><circle cx="569.7" cy="51.7" r="0.68" fill="#fff"/><circle cx="569.8" cy="55.8" r="0.39" fill="#ccc"/><circle cx="571.9" cy="51.6" r="0.44" fill="#fff"/><circle cx="570.4" cy="53.8" r="0.61" fill="#bbb"/></g>
</g>
<circle cx="586.9" cy="41.9" r="37" fill="url(#vign)"/>
</g>
<clipPath id="clp2"><circle cx="586.5" cy="121" r="36.5"/></clipPath>
<circle cx="586.5" cy="121" r="37" fill="#1b1b1b" stroke="#333" stroke-width="0.7"/>
<g clip-path="url(#clp2)"><g filter="url(#blurP)">
<g filter="url(#blur0)"><circle cx="575.9" cy="142.8" r="0.42" fill="#444"/><circle cx="590.2" cy="112.0" r="0.42" fill="#4e4e4e"/><circle cx="602.8" cy="128.0" r="0.52" fill="#666"/><circle cx="605.1" cy="148.3" r="0.48" fill="#4e4e4e"/><circle cx="596.6" cy="89.4" r="0.45" fill="#4e4e4e"/><circle cx="575.7" cy="119.3" r="0.43" fill="#444"/><circle cx="577.5" cy="155.6" r="0.44" fill="#3a3a3a"/><circle cx="576.1" cy="151.9" r="0.35" fill="#5a5a5a"/><circle cx="573.2" cy="145.1" r="0.45" fill="#666"/><circle cx="570.6" cy="131.2" r="0.44" fill="#444"/><circle cx="564.5" cy="120.9" r="0.55" fill="#444"/><circle cx="574.0" cy="94.5" r="0.41" fill="#4e4e4e"/><circle cx="574.9" cy="102.2" r="0.53" fill="#444"/><circle cx="597.5" cy="129.2" r="0.39" fill="#444"/><circle cx="554.2" cy="116.8" r="0.38" fill="#4e4e4e"/><circle cx="588.2" cy="146.6" r="0.51" fill="#4e4e4e"/><circle cx="606.2" cy="120.2" r="0.49" fill="#4e4e4e"/><circle cx="595.5" cy="90.7" r="0.48" fill="#666"/><circle cx="611.7" cy="117.6" r="0.45" fill="#5a5a5a"/><circle cx="583.0" cy="149.0" r="0.60" fill="#5a5a5a"/><circle cx="599.8" cy="151.7" r="0.45" fill="#3a3a3a"/><circle cx="583.4" cy="136.3" r="0.38" fill="#4e4e4e"/><circle cx="575.4" cy="96.8" r="0.46" fill="#444"/><circle cx="610.2" cy="118.4" r="0.41" fill="#5a5a5a"/><circle cx="585.1" cy="125.3" r="0.52" fill="#444"/><circle cx="589.6" cy="87.6" r="0.58" fill="#666"/><circle cx="610.3" cy="122.7" r="0.57" fill="#666"/><circle cx="559.9" cy="120.4" r="0.49" fill="#444"/><circle cx="567.8" cy="118.5" r="0.50" fill="#3a3a3a"/><circle cx="595.9" cy="108.9" r="0.58" fill="#5a5a5a"/><circle cx="602.6" cy="121.5" r="0.48" fill="#444"/><circle cx="611.2" cy="95.2" r="0.39" fill="#444"/><circle cx="564.4" cy="109.2" r="0.46" fill="#444"/><circle cx="579.0" cy="143.0" r="0.49" fill="#3a3a3a"/><circle cx="584.5" cy="105.0" r="0.60" fill="#5a5a5a"/><circle cx="566.5" cy="136.0" r="0.51" fill="#666"/><circle cx="551.8" cy="124.8" r="0.40" fill="#444"/><circle cx="578.5" cy="86.9" r="0.51" fill="#444"/><circle cx="604.4" cy="136.0" r="0.48" fill="#5a5a5a"/><circle cx="604.0" cy="147.7" r="0.56" fill="#444"/><circle cx="593.8" cy="86.8" r="0.60" fill="#444"/><circle cx="559.9" cy="135.3" r="0.54" fill="#444"/><circle cx="556.3" cy="134.8" r="0.51" fill="#5a5a5a"/><circle cx="573.5" cy="144.7" r="0.49" fill="#666"/><circle cx="580.0" cy="114.7" r="0.46" fill="#3a3a3a"/><circle cx="598.3" cy="93.0" r="0.59" fill="#4e4e4e"/><circle cx="550.7" cy="115.0" r="0.48" fill="#4e4e4e"/><circle cx="578.5" cy="122.9" r="0.46" fill="#444"/><circle cx="559.0" cy="96.6" r="0.57" fill="#5a5a5a"/><circle cx="621.3" cy="112.3" r="0.41" fill="#666"/><circle cx="563.6" cy="119.2" r="0.54" fill="#444"/><circle cx="612.4" cy="109.0" r="0.39" fill="#3a3a3a"/><circle cx="594.3" cy="147.7" r="0.54" fill="#444"/><circle cx="597.9" cy="126.7" r="0.52" fill="#444"/><circle cx="572.3" cy="99.3" r="0.37" fill="#4e4e4e"/><circle cx="589.0" cy="142.6" r="0.56" fill="#4e4e4e"/><circle cx="554.8" cy="118.8" r="0.42" fill="#3a3a3a"/><circle cx="592.0" cy="99.7" r="0.50" fill="#444"/><circle cx="577.3" cy="88.8" r="0.46" fill="#666"/><circle cx="570.2" cy="90.1" r="0.55" fill="#5a5a5a"/><circle cx="601.6" cy="148.7" r="0.50" fill="#666"/><circle cx="578.5" cy="114.1" r="0.49" fill="#444"/><circle cx="568.8" cy="102.5" r="0.53" fill="#666"/><circle cx="583.2" cy="113.2" r="0.42" fill="#5a5a5a"/><circle cx="588.3" cy="149.6" r="0.59" fill="#666"/><circle cx="599.4" cy="88.0" r="0.45" fill="#5a5a5a"/><circle cx="587.6" cy="91.5" r="0.44" fill="#666"/><circle cx="619.2" cy="120.5" r="0.53" fill="#3a3a3a"/><circle cx="603.9" cy="100.4" r="0.36" fill="#3a3a3a"/><circle cx="552.6" cy="132.0" r="0.43" fill="#444"/><circle cx="589.3" cy="129.6" r="0.59" fill="#4e4e4e"/><circle cx="557.1" cy="125.3" r="0.52" fill="#3a3a3a"/><circle cx="559.6" cy="136.3" r="0.43" fill="#3a3a3a"/><circle cx="598.4" cy="119.0" r="0.44" fill="#666"/><circle cx="574.7" cy="152.3" r="0.44" fill="#666"/><circle cx="594.6" cy="109.8" r="0.55" fill="#4e4e4e"/><circle cx="615.8" cy="121.7" r="0.36" fill="#444"/><circle cx="574.7" cy="146.0" r="0.44" fill="#3a3a3a"/><circle cx="621.6" cy="123.6" r="0.57" fill="#3a3a3a"/><circle cx="555.2" cy="124.0" r="0.54" fill="#666"/><circle cx="581.2" cy="101.8" r="0.39" fill="#444"/><circle cx="552.8" cy="127.9" r="0.52" fill="#4e4e4e"/><circle cx="571.3" cy="150.9" r="0.59" fill="#3a3a3a"/><circle cx="591.4" cy="153.1" r="0.45" fill="#444"/><circle cx="593.7" cy="89.0" r="0.49" fill="#444"/><circle cx="557.1" cy="135.2" r="0.48" fill="#3a3a3a"/><circle cx="570.3" cy="132.2" r="0.48" fill="#3a3a3a"/><circle cx="581.1" cy="141.9" r="0.46" fill="#444"/><circle cx="583.5" cy="111.6" r="0.40" fill="#666"/><circle cx="593.8" cy="144.8" r="0.39" fill="#5a5a5a"/><circle cx="593.5" cy="93.5" r="0.39" fill="#4e4e4e"/><circle cx="568.1" cy="97.9" r="0.51" fill="#444"/><circle cx="591.7" cy="102.5" r="0.47" fill="#5a5a5a"/><circle cx="563.4" cy="116.2" r="0.44" fill="#444"/><circle cx="596.3" cy="86.3" r="0.51" fill="#5a5a5a"/><circle cx="590.0" cy="126.1" r="0.41" fill="#4e4e4e"/><circle cx="602.2" cy="111.0" r="0.47" fill="#666"/><circle cx="598.6" cy="125.2" r="0.39" fill="#666"/><circle cx="570.8" cy="153.3" r="0.45" fill="#4e4e4e"/><circle cx="586.9" cy="150.4" r="0.38" fill="#5a5a5a"/><circle cx="593.8" cy="130.2" r="0.37" fill="#5a5a5a"/><circle cx="604.4" cy="145.6" r="0.50" fill="#5a5a5a"/><circle cx="606.2" cy="135.5" r="0.58" fill="#4e4e4e"/><circle cx="590.7" cy="96.3" r="0.52" fill="#444"/><circle cx="597.5" cy="114.2" r="0.53" fill="#5a5a5a"/><circle cx="602.9" cy="96.8" r="0.58" fill="#4e4e4e"/><circle cx="591.7" cy="114.0" r="0.52" fill="#4e4e4e"/><circle cx="598.9" cy="113.7" r="0.40" fill="#3a3a3a"/><circle cx="611.4" cy="107.9" r="0.53" fill="#4e4e4e"/><circle cx="562.7" cy="145.7" r="0.55" fill="#4e4e4e"/><circle cx="588.5" cy="119.5" r="0.58" fill="#666"/><circle cx="582.4" cy="91.0" r="0.44" fill="#3a3a3a"/><circle cx="571.9" cy="94.4" r="0.35" fill="#3a3a3a"/><circle cx="579.5" cy="132.2" r="0.59" fill="#666"/><circle cx="614.3" cy="131.3" r="0.40" fill="#666"/><circle cx="604.3" cy="108.2" r="0.43" fill="#4e4e4e"/><circle cx="610.9" cy="126.0" r="0.47" fill="#5a5a5a"/><circle cx="570.2" cy="121.3" r="0.44" fill="#666"/><circle cx="576.3" cy="111.5" r="0.57" fill="#444"/><circle cx="589.4" cy="132.0" r="0.41" fill="#666"/><circle cx="592.9" cy="101.6" r="0.50" fill="#4e4e4e"/><circle cx="587.3" cy="96.0" r="0.54" fill="#5a5a5a"/><circle cx="604.2" cy="132.1" r="0.53" fill="#444"/><circle cx="594.4" cy="97.5" r="0.50" fill="#5a5a5a"/><circle cx="608.0" cy="93.9" r="0.60" fill="#444"/><circle cx="565.6" cy="130.0" r="0.54" fill="#5a5a5a"/><circle cx="564.1" cy="97.7" r="0.50" fill="#5a5a5a"/><circle cx="551.1" cy="110.6" r="0.43" fill="#3a3a3a"/><circle cx="591.8" cy="119.0" r="0.37" fill="#3a3a3a"/><circle cx="583.7" cy="94.6" r="0.58" fill="#5a5a5a"/><circle cx="596.9" cy="103.8" r="0.48" fill="#5a5a5a"/><circle cx="601.9" cy="105.6" r="0.49" fill="#3a3a3a"/><circle cx="591.0" cy="89.8" r="0.40" fill="#444"/><circle cx="572.3" cy="152.5" r="0.52" fill="#3a3a3a"/><circle cx="583.5" cy="88.6" r="0.56" fill="#444"/><circle cx="575.5" cy="106.7" r="0.56" fill="#3a3a3a"/><circle cx="557.2" cy="141.4" r="0.55" fill="#666"/><circle cx="602.6" cy="94.0" r="0.59" fill="#444"/><circle cx="603.7" cy="98.5" r="0.54" fill="#666"/><circle cx="605.2" cy="109.2" r="0.53" fill="#444"/><circle cx="613.2" cy="139.7" r="0.59" fill="#444"/><circle cx="586.0" cy="114.9" r="0.47" fill="#4e4e4e"/><circle cx="571.3" cy="88.7" r="0.59" fill="#444"/><circle cx="615.9" cy="110.1" r="0.59" fill="#444"/><circle cx="606.9" cy="134.2" r="0.38" fill="#666"/><circle cx="603.2" cy="139.2" r="0.60" fill="#4e4e4e"/><circle cx="614.3" cy="133.4" r="0.45" fill="#444"/><circle cx="598.1" cy="145.7" r="0.46" fill="#4e4e4e"/><circle cx="586.3" cy="125.5" r="0.48" fill="#444"/><circle cx="560.2" cy="140.7" r="0.51" fill="#444"/><circle cx="595.0" cy="135.9" r="0.37" fill="#3a3a3a"/><circle cx="611.2" cy="137.3" r="0.40" fill="#444"/><circle cx="559.1" cy="101.6" r="0.52" fill="#5a5a5a"/><circle cx="583.2" cy="107.2" r="0.44" fill="#3a3a3a"/><circle cx="578.6" cy="125.7" r="0.44" fill="#4e4e4e"/><circle cx="567.3" cy="115.3" r="0.38" fill="#3a3a3a"/><circle cx="611.0" cy="96.7" r="0.60" fill="#444"/><circle cx="597.2" cy="140.5" r="0.35" fill="#5a5a5a"/><circle cx="580.7" cy="135.0" r="0.40" fill="#3a3a3a"/><circle cx="577.6" cy="107.2" r="0.39" fill="#444"/><circle cx="612.6" cy="143.9" r="0.41" fill="#666"/><circle cx="587.8" cy="144.2" r="0.49" fill="#4e4e4e"/><circle cx="586.4" cy="147.9" r="0.54" fill="#5a5a5a"/><circle cx="609.1" cy="105.8" r="0.47" fill="#666"/><circle cx="580.9" cy="135.0" r="0.37" fill="#666"/><circle cx="615.1" cy="118.0" r="0.57" fill="#3a3a3a"/><circle cx="612.3" cy="124.0" r="0.51" fill="#666"/><circle cx="561.2" cy="100.2" r="0.53" fill="#3a3a3a"/><circle cx="622.3" cy="116.1" r="0.57" fill="#666"/><circle cx="587.1" cy="150.0" r="0.57" fill="#444"/><circle cx="572.3" cy="117.7" r="0.37" fill="#666"/><circle cx="577.1" cy="97.8" r="0.36" fill="#666"/><circle cx="591.1" cy="150.4" r="0.54" fill="#666"/><circle cx="566.7" cy="95.9" r="0.55" fill="#5a5a5a"/><circle cx="592.0" cy="145.0" r="0.57" fill="#666"/><circle cx="590.3" cy="128.8" r="0.36" fill="#444"/><circle cx="595.4" cy="113.6" r="0.36" fill="#3a3a3a"/><circle cx="585.8" cy="125.0" r="0.53" fill="#4e4e4e"/><circle cx="574.3" cy="117.1" r="0.44" fill="#444"/><circle cx="621.6" cy="116.9" r="0.57" fill="#666"/><circle cx="553.0" cy="107.7" r="0.51" fill="#5a5a5a"/><circle cx="563.1" cy="135.0" r="0.38" fill="#5a5a5a"/><circle cx="600.9" cy="105.9" r="0.54" fill="#444"/><circle cx="554.4" cy="123.3" r="0.36" fill="#444"/><circle cx="576.6" cy="156.2" r="0.54" fill="#666"/><circle cx="584.7" cy="153.6" r="0.52" fill="#666"/><circle cx="573.9" cy="146.1" r="0.40" fill="#3a3a3a"/><circle cx="602.8" cy="146.7" r="0.36" fill="#666"/><circle cx="550.8" cy="127.4" r="0.57" fill="#4e4e4e"/><circle cx="557.4" cy="133.1" r="0.45" fill="#444"/><circle cx="567.0" cy="149.6" r="0.53" fill="#666"/><circle cx="589.7" cy="86.4" r="0.38" fill="#4e4e4e"/><circle cx="592.8" cy="87.5" r="0.52" fill="#444"/><circle cx="592.6" cy="131.8" r="0.43" fill="#4e4e4e"/><circle cx="555.7" cy="131.9" r="0.49" fill="#444"/><circle cx="576.1" cy="135.2" r="0.40" fill="#444"/><circle cx="570.5" cy="90.3" r="0.43" fill="#666"/><circle cx="577.0" cy="124.1" r="0.60" fill="#4e4e4e"/><circle cx="552.6" cy="107.0" r="0.60" fill="#3a3a3a"/><circle cx="586.6" cy="94.4" r="0.44" fill="#666"/><circle cx="620.8" cy="130.2" r="0.46" fill="#666"/><circle cx="597.2" cy="91.3" r="0.40" fill="#666"/><circle cx="594.2" cy="152.3" r="0.37" fill="#444"/><circle cx="551.7" cy="111.8" r="0.44" fill="#5a5a5a"/><circle cx="597.8" cy="116.0" r="0.38" fill="#444"/><circle cx="574.7" cy="116.3" r="0.50" fill="#444"/><circle cx="584.4" cy="108.1" r="0.53" fill="#3a3a3a"/><circle cx="582.2" cy="121.2" r="0.40" fill="#444"/><circle cx="591.2" cy="127.9" r="0.59" fill="#666"/><circle cx="605.2" cy="139.0" r="0.38" fill="#444"/><circle cx="614.2" cy="98.8" r="0.37" fill="#444"/><circle cx="602.3" cy="122.4" r="0.58" fill="#666"/><circle cx="563.0" cy="128.1" r="0.53" fill="#444"/><circle cx="555.9" cy="134.4" r="0.58" fill="#3a3a3a"/><circle cx="598.9" cy="151.0" r="0.47" fill="#5a5a5a"/><circle cx="597.2" cy="127.4" r="0.55" fill="#444"/><circle cx="574.0" cy="89.3" r="0.55" fill="#4e4e4e"/><circle cx="586.2" cy="92.6" r="0.51" fill="#666"/><circle cx="614.1" cy="111.9" r="0.60" fill="#666"/><circle cx="564.1" cy="120.3" r="0.47" fill="#3a3a3a"/><circle cx="598.0" cy="107.6" r="0.46" fill="#3a3a3a"/><circle cx="581.3" cy="137.7" r="0.55" fill="#444"/><circle cx="579.7" cy="131.6" r="0.55" fill="#3a3a3a"/><circle cx="569.4" cy="117.4" r="0.54" fill="#4e4e4e"/><circle cx="605.3" cy="149.1" r="0.57" fill="#444"/><circle cx="567.5" cy="92.8" r="0.42" fill="#3a3a3a"/><circle cx="601.3" cy="112.8" r="0.50" fill="#5a5a5a"/><circle cx="616.6" cy="136.8" r="0.54" fill="#666"/><circle cx="563.0" cy="120.9" r="0.52" fill="#4e4e4e"/><circle cx="594.6" cy="96.1" r="0.42" fill="#5a5a5a"/><circle cx="569.2" cy="144.7" r="0.52" fill="#444"/><circle cx="614.7" cy="139.5" r="0.59" fill="#5a5a5a"/><circle cx="579.7" cy="123.1" r="0.40" fill="#666"/><circle cx="580.9" cy="117.6" r="0.56" fill="#666"/><circle cx="562.1" cy="96.9" r="0.59" fill="#666"/><circle cx="602.5" cy="147.0" r="0.40" fill="#666"/><circle cx="574.2" cy="141.9" r="0.54" fill="#666"/><circle cx="569.7" cy="143.7" r="0.59" fill="#4e4e4e"/><circle cx="593.5" cy="130.5" r="0.49" fill="#3a3a3a"/><circle cx="574.7" cy="107.8" r="0.57" fill="#444"/><circle cx="553.1" cy="110.7" r="0.54" fill="#3a3a3a"/><circle cx="585.5" cy="128.8" r="0.50" fill="#3a3a3a"/><circle cx="580.3" cy="107.8" r="0.48" fill="#666"/><circle cx="568.1" cy="120.8" r="0.47" fill="#4e4e4e"/><circle cx="607.6" cy="108.4" r="0.50" fill="#3a3a3a"/><circle cx="593.1" cy="91.4" r="0.46" fill="#5a5a5a"/><circle cx="583.4" cy="125.7" r="0.54" fill="#5a5a5a"/><circle cx="597.3" cy="100.0" r="0.57" fill="#3a3a3a"/><circle cx="590.3" cy="105.8" r="0.36" fill="#4e4e4e"/><circle cx="574.9" cy="137.6" r="0.58" fill="#444"/><circle cx="610.4" cy="103.0" r="0.48" fill="#5a5a5a"/><circle cx="613.1" cy="123.7" r="0.49" fill="#4e4e4e"/><circle cx="587.9" cy="127.5" r="0.47" fill="#666"/><circle cx="560.6" cy="107.7" r="0.54" fill="#5a5a5a"/><circle cx="600.0" cy="90.0" r="0.45" fill="#5a5a5a"/><circle cx="595.2" cy="156.0" r="0.35" fill="#5a5a5a"/><circle cx="586.3" cy="123.4" r="0.57" fill="#5a5a5a"/><circle cx="564.4" cy="145.3" r="0.39" fill="#3a3a3a"/><circle cx="599.6" cy="136.8" r="0.55" fill="#4e4e4e"/><circle cx="621.3" cy="132.7" r="0.45" fill="#4e4e4e"/><circle cx="567.8" cy="133.2" r="0.42" fill="#666"/><circle cx="577.3" cy="104.0" r="0.40" fill="#4e4e4e"/><circle cx="570.8" cy="98.7" r="0.40" fill="#444"/><circle cx="607.6" cy="126.2" r="0.57" fill="#4e4e4e"/><circle cx="592.9" cy="85.6" r="0.41" fill="#3a3a3a"/><circle cx="598.2" cy="112.1" r="0.42" fill="#444"/><circle cx="599.3" cy="115.2" r="0.44" fill="#5a5a5a"/><circle cx="600.5" cy="131.4" r="0.45" fill="#5a5a5a"/><circle cx="601.8" cy="144.3" r="0.46" fill="#444"/><circle cx="567.0" cy="149.8" r="0.51" fill="#5a5a5a"/><circle cx="564.9" cy="119.1" r="0.36" fill="#5a5a5a"/><circle cx="588.7" cy="151.3" r="0.40" fill="#4e4e4e"/><circle cx="617.5" cy="130.9" r="0.37" fill="#3a3a3a"/><circle cx="562.2" cy="105.2" r="0.41" fill="#666"/><circle cx="555.1" cy="121.1" r="0.46" fill="#666"/><circle cx="587.0" cy="94.8" r="0.41" fill="#444"/><circle cx="571.8" cy="120.0" r="0.46" fill="#5a5a5a"/><circle cx="600.8" cy="121.9" r="0.59" fill="#4e4e4e"/><circle cx="583.3" cy="86.1" r="0.55" fill="#5a5a5a"/><circle cx="579.0" cy="152.0" r="0.50" fill="#444"/><circle cx="588.0" cy="105.1" r="0.57" fill="#444"/><circle cx="576.5" cy="115.0" r="0.39" fill="#3a3a3a"/><circle cx="576.9" cy="144.4" r="0.58" fill="#666"/><circle cx="591.1" cy="100.1" r="0.46" fill="#666"/><circle cx="589.6" cy="143.3" r="0.54" fill="#444"/><circle cx="572.4" cy="128.5" r="0.51" fill="#444"/><circle cx="555.0" cy="134.5" r="0.35" fill="#5a5a5a"/><circle cx="589.7" cy="157.5" r="0.49" fill="#3a3a3a"/><circle cx="574.9" cy="113.3" r="0.50" fill="#666"/><circle cx="571.7" cy="114.6" r="0.50" fill="#444"/><circle cx="596.1" cy="134.7" r="0.54" fill="#666"/><circle cx="577.7" cy="138.8" r="0.41" fill="#444"/><circle cx="558.3" cy="99.6" r="0.37" fill="#444"/><circle cx="556.6" cy="135.5" r="0.53" fill="#444"/><circle cx="563.9" cy="126.0" r="0.55" fill="#444"/><circle cx="596.2" cy="100.1" r="0.56" fill="#444"/><circle cx="563.8" cy="110.4" r="0.44" fill="#5a5a5a"/><circle cx="570.2" cy="97.4" r="0.42" fill="#666"/><circle cx="593.1" cy="90.6" r="0.49" fill="#666"/><circle cx="573.8" cy="102.0" r="0.41" fill="#444"/><circle cx="579.8" cy="116.1" r="0.52" fill="#444"/><circle cx="598.4" cy="116.3" r="0.60" fill="#5a5a5a"/><circle cx="620.5" cy="108.6" r="0.38" fill="#666"/><circle cx="560.5" cy="123.2" r="0.50" fill="#5a5a5a"/><circle cx="552.2" cy="114.2" r="0.58" fill="#5a5a5a"/><circle cx="556.2" cy="120.9" r="0.52" fill="#5a5a5a"/><circle cx="607.8" cy="133.1" r="0.53" fill="#444"/><circle cx="578.6" cy="145.8" r="0.43" fill="#666"/><circle cx="568.1" cy="133.0" r="0.46" fill="#666"/><circle cx="607.8" cy="115.2" r="0.58" fill="#444"/><circle cx="588.7" cy="95.0" r="0.51" fill="#444"/><circle cx="555.0" cy="124.3" r="0.39" fill="#5a5a5a"/><circle cx="577.4" cy="141.0" r="0.45" fill="#3a3a3a"/><circle cx="594.0" cy="97.8" r="0.42" fill="#666"/><circle cx="565.0" cy="136.0" r="0.44" fill="#3a3a3a"/><circle cx="607.4" cy="108.9" r="0.53" fill="#666"/><circle cx="605.6" cy="123.4" r="0.60" fill="#4e4e4e"/><circle cx="588.3" cy="105.1" r="0.49" fill="#444"/><circle cx="600.4" cy="116.4" r="0.48" fill="#666"/><circle cx="571.9" cy="120.1" r="0.40" fill="#3a3a3a"/><circle cx="591.8" cy="90.0" r="0.47" fill="#3a3a3a"/><circle cx="593.5" cy="140.0" r="0.41" fill="#3a3a3a"/><circle cx="574.1" cy="135.5" r="0.41" fill="#3a3a3a"/><circle cx="597.2" cy="123.6" r="0.36" fill="#444"/><circle cx="582.0" cy="154.0" r="0.46" fill="#666"/><circle cx="582.6" cy="106.9" r="0.50" fill="#666"/><circle cx="592.6" cy="153.0" r="0.43" fill="#5a5a5a"/><circle cx="609.7" cy="115.3" r="0.43" fill="#3a3a3a"/><circle cx="592.2" cy="95.2" r="0.59" fill="#4e4e4e"/><circle cx="595.0" cy="144.9" r="0.49" fill="#444"/><circle cx="614.5" cy="105.3" r="0.53" fill="#444"/><circle cx="577.9" cy="144.2" r="0.47" fill="#4e4e4e"/><circle cx="583.4" cy="96.4" r="0.36" fill="#666"/><circle cx="611.1" cy="113.6" r="0.52" fill="#4e4e4e"/><circle cx="606.8" cy="97.7" r="0.46" fill="#666"/><circle cx="572.1" cy="150.3" r="0.37" fill="#444"/></g>
<g filter="url(#blur1)"><circle cx="611.3" cy="138.5" r="3.7" fill="#8a8a8a" opacity="0.18"/><circle cx="572.3" cy="128.8" r="3.4" fill="#8a8a8a" opacity="0.21"/><circle cx="592.5" cy="95.7" r="2.5" fill="#8a8a8a" opacity="0.26"/><circle cx="577.6" cy="150.0" r="3.2" fill="#8a8a8a" opacity="0.29"/><circle cx="591.0" cy="101.5" r="4.4" fill="#8a8a8a" opacity="0.28"/><circle cx="573.6" cy="94.1" r="3.5" fill="#8a8a8a" opacity="0.27"/><circle cx="583.6" cy="126.0" r="3.3" fill="#8a8a8a" opacity="0.30"/><circle cx="603.1" cy="120.0" r="2.6" fill="#8a8a8a" opacity="0.23"/><circle cx="573.5" cy="135.8" r="4.5" fill="#8a8a8a" opacity="0.29"/><circle cx="603.2" cy="151.2" r="4.6" fill="#8a8a8a" opacity="0.19"/><circle cx="597.8" cy="104.2" r="4.7" fill="#8a8a8a" opacity="0.29"/><circle cx="580.8" cy="137.1" r="2.6" fill="#8a8a8a" opacity="0.23"/><circle cx="600.7" cy="112.5" r="2.8" fill="#8a8a8a" opacity="0.27"/><circle cx="582.7" cy="140.7" r="4.3" fill="#8a8a8a" opacity="0.27"/><circle cx="568.7" cy="128.8" r="4.8" fill="#8a8a8a" opacity="0.26"/><circle cx="556.6" cy="131.0" r="4.3" fill="#8a8a8a" opacity="0.25"/><circle cx="595.7" cy="143.2" r="4.6" fill="#8a8a8a" opacity="0.24"/><circle cx="563.0" cy="101.1" r="4.9" fill="#8a8a8a" opacity="0.19"/><circle cx="588.0" cy="118.4" r="3.1" fill="#8a8a8a" opacity="0.21"/><circle cx="581.6" cy="121.9" r="2.6" fill="#8a8a8a" opacity="0.22"/><circle cx="553.3" cy="114.9" r="3.6" fill="#8a8a8a" opacity="0.27"/><circle cx="617.7" cy="129.2" r="4.0" fill="#8a8a8a" opacity="0.30"/><circle cx="582.9" cy="114.4" r="2.5" fill="#8a8a8a" opacity="0.22"/><circle cx="564.9" cy="127.6" r="5.0" fill="#8a8a8a" opacity="0.21"/><circle cx="563.7" cy="126.3" r="4.1" fill="#8a8a8a" opacity="0.18"/><circle cx="586.3" cy="110.5" r="2.9" fill="#8a8a8a" opacity="0.22"/><circle cx="568.7" cy="115.6" r="3.2" fill="#8a8a8a" opacity="0.27"/><circle cx="559.0" cy="105.9" r="2.6" fill="#8a8a8a" opacity="0.26"/><circle cx="599.1" cy="134.4" r="4.8" fill="#8a8a8a" opacity="0.25"/><circle cx="582.1" cy="86.2" r="4.8" fill="#8a8a8a" opacity="0.20"/><circle cx="587.3" cy="119.7" r="3.4" fill="#8a8a8a" opacity="0.24"/><circle cx="595.5" cy="113.8" r="4.7" fill="#8a8a8a" opacity="0.21"/><circle cx="607.5" cy="113.9" r="4.7" fill="#8a8a8a" opacity="0.25"/><circle cx="590.7" cy="155.6" r="4.4" fill="#8a8a8a" opacity="0.23"/><circle cx="585.3" cy="123.9" r="2.6" fill="#8a8a8a" opacity="0.25"/><circle cx="597.9" cy="113.1" r="4.9" fill="#8a8a8a" opacity="0.28"/><circle cx="556.4" cy="130.9" r="4.6" fill="#8a8a8a" opacity="0.22"/><circle cx="596.0" cy="106.8" r="3.3" fill="#8a8a8a" opacity="0.25"/><circle cx="610.1" cy="112.1" r="3.7" fill="#8a8a8a" opacity="0.28"/><circle cx="561.8" cy="116.7" r="4.2" fill="#8a8a8a" opacity="0.28"/></g>
<g filter="url(#blurC)"><circle cx="611.3" cy="138.5" r="0.9" fill="#ececec" opacity="0.66"/><circle cx="572.3" cy="128.8" r="1.4" fill="#ececec" opacity="0.66"/><circle cx="592.5" cy="95.7" r="1.3" fill="#ececec" opacity="0.74"/><circle cx="619.8" cy="124.3" r="1.6" fill="#ececec" opacity="0.66"/><circle cx="551.5" cy="118.4" r="1.2" fill="#ececec" opacity="0.50"/><circle cx="577.6" cy="150.0" r="1.3" fill="#ececec" opacity="0.62"/><circle cx="591.0" cy="101.5" r="1.2" fill="#ececec" opacity="0.60"/><circle cx="573.6" cy="94.1" r="1.8" fill="#ececec" opacity="0.61"/><circle cx="606.0" cy="142.4" r="1.8" fill="#ececec" opacity="0.79"/><circle cx="583.6" cy="123.2" r="1.9" fill="#ececec" opacity="0.51"/><circle cx="583.6" cy="126.0" r="1.8" fill="#ececec" opacity="0.62"/><circle cx="603.1" cy="120.0" r="1.7" fill="#ececec" opacity="0.89"/><circle cx="573.5" cy="135.8" r="1.3" fill="#ececec" opacity="0.87"/><circle cx="601.8" cy="121.3" r="1.3" fill="#ececec" opacity="0.56"/><circle cx="597.7" cy="127.5" r="2.0" fill="#ececec" opacity="0.51"/><circle cx="603.2" cy="151.2" r="1.4" fill="#ececec" opacity="0.73"/><circle cx="597.8" cy="104.2" r="1.8" fill="#ececec" opacity="0.80"/><circle cx="588.2" cy="147.2" r="1.0" fill="#ececec" opacity="0.67"/><circle cx="580.8" cy="137.1" r="1.4" fill="#ececec" opacity="0.72"/><circle cx="576.3" cy="96.7" r="1.9" fill="#ececec" opacity="0.54"/><circle cx="609.7" cy="95.6" r="0.9" fill="#ececec" opacity="0.62"/><circle cx="600.7" cy="112.5" r="1.2" fill="#ececec" opacity="0.71"/><circle cx="595.0" cy="138.9" r="1.6" fill="#ececec" opacity="0.79"/><circle cx="582.7" cy="140.7" r="0.9" fill="#ececec" opacity="0.55"/><circle cx="613.3" cy="136.2" r="1.7" fill="#ececec" opacity="0.51"/><circle cx="566.2" cy="132.9" r="1.6" fill="#ececec" opacity="0.53"/><circle cx="558.9" cy="127.3" r="1.5" fill="#ececec" opacity="0.77"/><circle cx="568.7" cy="128.8" r="1.5" fill="#ececec" opacity="0.53"/><circle cx="556.6" cy="131.0" r="1.9" fill="#ececec" opacity="0.78"/><circle cx="582.4" cy="102.6" r="1.3" fill="#ececec" opacity="0.69"/><circle cx="595.7" cy="143.2" r="1.5" fill="#ececec" opacity="0.61"/><circle cx="568.5" cy="115.3" r="2.0" fill="#ececec" opacity="0.58"/><circle cx="563.0" cy="101.1" r="0.8" fill="#ececec" opacity="0.85"/><circle cx="588.0" cy="118.4" r="1.5" fill="#ececec" opacity="0.55"/><circle cx="581.6" cy="121.9" r="1.4" fill="#ececec" opacity="0.69"/><circle cx="553.3" cy="114.9" r="1.3" fill="#ececec" opacity="0.57"/><circle cx="608.9" cy="111.1" r="1.8" fill="#ececec" opacity="0.82"/><circle cx="617.7" cy="129.2" r="1.3" fill="#ececec" opacity="0.52"/><circle cx="582.9" cy="114.4" r="1.8" fill="#ececec" opacity="0.58"/><circle cx="564.9" cy="127.6" r="1.3" fill="#ececec" opacity="0.64"/><circle cx="563.7" cy="126.3" r="1.8" fill="#ececec" opacity="0.69"/><circle cx="583.8" cy="139.8" r="1.4" fill="#ececec" opacity="0.58"/><circle cx="598.3" cy="141.5" r="1.2" fill="#ececec" opacity="0.82"/><circle cx="586.3" cy="110.5" r="0.9" fill="#ececec" opacity="0.74"/><circle cx="608.6" cy="103.9" r="0.9" fill="#ececec" opacity="0.86"/><circle cx="571.5" cy="101.1" r="1.8" fill="#ececec" opacity="0.55"/><circle cx="568.7" cy="115.6" r="1.5" fill="#ececec" opacity="0.69"/><circle cx="560.3" cy="114.8" r="1.3" fill="#ececec" opacity="0.54"/><circle cx="559.0" cy="105.9" r="0.9" fill="#ececec" opacity="0.88"/><circle cx="599.1" cy="134.4" r="0.8" fill="#ececec" opacity="0.73"/><circle cx="588.3" cy="92.3" r="1.7" fill="#ececec" opacity="0.71"/><circle cx="568.5" cy="150.2" r="1.0" fill="#ececec" opacity="0.62"/><circle cx="607.4" cy="126.4" r="1.3" fill="#ececec" opacity="0.87"/><circle cx="582.1" cy="86.2" r="1.0" fill="#ececec" opacity="0.66"/><circle cx="587.3" cy="119.7" r="1.7" fill="#ececec" opacity="0.82"/><circle cx="574.0" cy="139.2" r="1.7" fill="#ececec" opacity="0.73"/><circle cx="605.9" cy="147.1" r="2.0" fill="#ececec" opacity="0.74"/><circle cx="595.5" cy="113.8" r="1.8" fill="#ececec" opacity="0.51"/><circle cx="559.7" cy="129.3" r="1.2" fill="#ececec" opacity="0.62"/><circle cx="568.3" cy="125.9" r="1.6" fill="#ececec" opacity="0.68"/><circle cx="585.4" cy="146.0" r="2.0" fill="#ececec" opacity="0.64"/><circle cx="605.3" cy="119.9" r="1.6" fill="#ececec" opacity="0.61"/><circle cx="574.3" cy="103.8" r="1.9" fill="#ececec" opacity="0.74"/><circle cx="607.5" cy="113.9" r="1.3" fill="#ececec" opacity="0.62"/><circle cx="607.8" cy="147.9" r="1.6" fill="#ececec" opacity="0.55"/><circle cx="561.5" cy="112.2" r="1.9" fill="#ececec" opacity="0.66"/><circle cx="590.7" cy="155.6" r="1.7" fill="#ececec" opacity="0.79"/><circle cx="589.3" cy="112.3" r="1.9" fill="#ececec" opacity="0.70"/><circle cx="613.9" cy="106.8" r="1.0" fill="#ececec" opacity="0.79"/><circle cx="585.3" cy="123.9" r="1.5" fill="#ececec" opacity="0.86"/><circle cx="572.0" cy="131.8" r="0.8" fill="#ececec" opacity="0.53"/><circle cx="597.9" cy="113.1" r="1.0" fill="#ececec" opacity="0.50"/><circle cx="556.4" cy="130.9" r="1.0" fill="#ececec" opacity="0.57"/><circle cx="596.0" cy="106.8" r="1.9" fill="#ececec" opacity="0.64"/><circle cx="583.4" cy="101.2" r="1.2" fill="#ececec" opacity="0.53"/><circle cx="610.1" cy="112.1" r="1.6" fill="#ececec" opacity="0.77"/><circle cx="573.1" cy="89.7" r="1.8" fill="#ececec" opacity="0.87"/><circle cx="561.8" cy="116.7" r="1.9" fill="#ececec" opacity="0.59"/><circle cx="573.6" cy="91.4" r="1.3" fill="#ececec" opacity="0.56"/><circle cx="563.5" cy="134.2" r="1.2" fill="#ececec" opacity="0.62"/></g>
<g filter="url(#blur0)"><circle cx="614.4" cy="138.3" r="0.62" fill="#eee"/><circle cx="614.3" cy="138.1" r="0.62" fill="#ddd"/><circle cx="609.0" cy="140.2" r="0.38" fill="#eee"/><circle cx="611.6" cy="137.7" r="0.49" fill="#ccc"/><circle cx="612.0" cy="138.1" r="0.50" fill="#eee"/><circle cx="610.7" cy="137.6" r="0.55" fill="#ddd"/><circle cx="572.4" cy="128.7" r="0.68" fill="#ddd"/><circle cx="572.8" cy="130.2" r="0.66" fill="#eee"/><circle cx="572.3" cy="131.3" r="0.49" fill="#bbb"/><circle cx="573.2" cy="130.5" r="0.34" fill="#eee"/><circle cx="572.7" cy="130.7" r="0.43" fill="#fff"/><circle cx="595.6" cy="90.9" r="0.55" fill="#bbb"/><circle cx="591.3" cy="96.5" r="0.51" fill="#bbb"/><circle cx="593.6" cy="93.8" r="0.68" fill="#eee"/><circle cx="591.2" cy="97.5" r="0.54" fill="#ccc"/><circle cx="620.8" cy="125.3" r="0.40" fill="#bbb"/><circle cx="618.9" cy="125.0" r="0.56" fill="#ccc"/><circle cx="617.1" cy="124.0" r="0.42" fill="#fff"/><circle cx="616.7" cy="124.5" r="0.47" fill="#fff"/><circle cx="554.0" cy="117.3" r="0.41" fill="#ddd"/><circle cx="553.0" cy="117.0" r="0.57" fill="#bbb"/><circle cx="553.3" cy="118.3" r="0.59" fill="#eee"/><circle cx="553.3" cy="117.8" r="0.35" fill="#ddd"/><circle cx="577.0" cy="151.2" r="0.54" fill="#fff"/><circle cx="576.9" cy="149.8" r="0.36" fill="#eee"/><circle cx="578.6" cy="149.6" r="0.53" fill="#ccc"/><circle cx="593.8" cy="102.9" r="0.43" fill="#ccc"/><circle cx="593.4" cy="100.9" r="0.37" fill="#ccc"/><circle cx="588.6" cy="102.9" r="0.66" fill="#ddd"/><circle cx="592.8" cy="98.4" r="0.50" fill="#bbb"/><circle cx="591.7" cy="99.0" r="0.62" fill="#ddd"/><circle cx="588.6" cy="101.7" r="0.63" fill="#fff"/><circle cx="589.8" cy="101.3" r="0.58" fill="#ddd"/><circle cx="571.9" cy="93.7" r="0.41" fill="#ccc"/><circle cx="571.8" cy="96.1" r="0.37" fill="#bbb"/><circle cx="574.6" cy="94.9" r="0.50" fill="#eee"/><circle cx="571.9" cy="93.1" r="0.60" fill="#bbb"/><circle cx="575.2" cy="94.0" r="0.64" fill="#bbb"/><circle cx="605.7" cy="140.2" r="0.70" fill="#ddd"/><circle cx="603.9" cy="143.8" r="0.53" fill="#eee"/><circle cx="606.3" cy="141.3" r="0.64" fill="#ccc"/><circle cx="607.4" cy="146.1" r="0.67" fill="#ddd"/><circle cx="584.5" cy="126.7" r="0.52" fill="#ccc"/><circle cx="582.4" cy="120.5" r="0.43" fill="#bbb"/><circle cx="584.1" cy="119.4" r="0.53" fill="#bbb"/><circle cx="583.7" cy="123.1" r="0.43" fill="#ccc"/><circle cx="584.4" cy="120.1" r="0.63" fill="#eee"/><circle cx="583.7" cy="123.0" r="0.31" fill="#eee"/><circle cx="584.1" cy="122.2" r="0.45" fill="#ccc"/><circle cx="583.9" cy="123.0" r="0.38" fill="#fff"/><circle cx="581.8" cy="129.2" r="0.67" fill="#eee"/><circle cx="583.8" cy="127.4" r="0.59" fill="#ddd"/><circle cx="579.9" cy="125.3" r="0.55" fill="#bbb"/><circle cx="585.3" cy="128.6" r="0.53" fill="#ccc"/><circle cx="582.7" cy="125.1" r="0.55" fill="#ddd"/><circle cx="586.9" cy="123.0" r="0.55" fill="#ddd"/><circle cx="601.0" cy="119.0" r="0.37" fill="#eee"/><circle cx="600.5" cy="122.0" r="0.57" fill="#eee"/><circle cx="602.2" cy="119.0" r="0.63" fill="#ddd"/><circle cx="603.3" cy="121.7" r="0.63" fill="#ccc"/><circle cx="606.8" cy="122.0" r="0.67" fill="#eee"/><circle cx="603.3" cy="118.2" r="0.64" fill="#eee"/><circle cx="601.0" cy="120.6" r="0.33" fill="#ccc"/><circle cx="603.7" cy="119.1" r="0.39" fill="#ddd"/><circle cx="574.1" cy="136.3" r="0.53" fill="#eee"/><circle cx="573.0" cy="139.1" r="0.67" fill="#ccc"/><circle cx="572.3" cy="137.1" r="0.66" fill="#eee"/><circle cx="576.1" cy="133.6" r="0.70" fill="#fff"/><circle cx="575.0" cy="135.9" r="0.50" fill="#fff"/><circle cx="572.5" cy="136.1" r="0.38" fill="#ddd"/><circle cx="574.0" cy="137.3" r="0.40" fill="#eee"/><circle cx="574.7" cy="138.7" r="0.65" fill="#ddd"/><circle cx="599.0" cy="121.7" r="0.57" fill="#ccc"/><circle cx="601.9" cy="120.8" r="0.55" fill="#eee"/><circle cx="603.5" cy="121.8" r="0.44" fill="#ccc"/><circle cx="601.0" cy="122.8" r="0.61" fill="#ccc"/><circle cx="599.6" cy="119.7" r="0.43" fill="#bbb"/><circle cx="600.7" cy="123.0" r="0.39" fill="#ccc"/><circle cx="597.2" cy="129.0" r="0.65" fill="#ccc"/><circle cx="600.2" cy="127.4" r="0.35" fill="#fff"/><circle cx="599.5" cy="127.1" r="0.37" fill="#ddd"/><circle cx="598.6" cy="126.8" r="0.60" fill="#bbb"/><circle cx="596.8" cy="130.3" r="0.51" fill="#ddd"/><circle cx="595.9" cy="129.2" r="0.48" fill="#ddd"/><circle cx="601.7" cy="149.6" r="0.43" fill="#ddd"/><circle cx="600.7" cy="149.8" r="0.43" fill="#eee"/><circle cx="600.4" cy="150.3" r="0.40" fill="#ccc"/><circle cx="605.6" cy="152.4" r="0.37" fill="#fff"/><circle cx="595.1" cy="101.5" r="0.40" fill="#ccc"/><circle cx="597.7" cy="101.5" r="0.64" fill="#ddd"/><circle cx="595.5" cy="102.7" r="0.68" fill="#fff"/><circle cx="587.3" cy="145.6" r="0.49" fill="#eee"/><circle cx="586.4" cy="146.5" r="0.46" fill="#ccc"/><circle cx="591.8" cy="147.8" r="0.38" fill="#ddd"/><circle cx="588.2" cy="146.8" r="0.52" fill="#eee"/><circle cx="578.0" cy="141.8" r="0.39" fill="#ddd"/><circle cx="580.6" cy="137.0" r="0.62" fill="#bbb"/><circle cx="579.2" cy="136.4" r="0.46" fill="#ccc"/><circle cx="584.6" cy="136.2" r="0.31" fill="#ccc"/><circle cx="581.3" cy="136.5" r="0.57" fill="#ddd"/><circle cx="583.4" cy="137.1" r="0.50" fill="#ccc"/><circle cx="577.1" cy="137.8" r="0.53" fill="#ddd"/><circle cx="576.6" cy="98.4" r="0.56" fill="#eee"/><circle cx="574.5" cy="94.9" r="0.52" fill="#fff"/><circle cx="577.6" cy="97.5" r="0.55" fill="#eee"/><circle cx="578.8" cy="97.5" r="0.69" fill="#fff"/><circle cx="578.5" cy="96.8" r="0.32" fill="#ddd"/><circle cx="577.6" cy="97.3" r="0.39" fill="#ddd"/><circle cx="579.2" cy="95.5" r="0.32" fill="#fff"/><circle cx="610.9" cy="94.0" r="0.42" fill="#bbb"/><circle cx="608.8" cy="95.7" r="0.44" fill="#ccc"/><circle cx="609.4" cy="94.0" r="0.59" fill="#ccc"/><circle cx="610.5" cy="95.8" r="0.50" fill="#eee"/><circle cx="610.4" cy="93.8" r="0.40" fill="#fff"/><circle cx="612.1" cy="96.5" r="0.68" fill="#ccc"/><circle cx="600.5" cy="108.7" r="0.49" fill="#bbb"/><circle cx="602.2" cy="111.4" r="0.57" fill="#eee"/><circle cx="600.8" cy="114.7" r="0.54" fill="#bbb"/><circle cx="600.8" cy="111.7" r="0.31" fill="#fff"/><circle cx="601.7" cy="110.3" r="0.64" fill="#ddd"/><circle cx="601.7" cy="113.5" r="0.52" fill="#bbb"/><circle cx="601.6" cy="108.7" r="0.61" fill="#fff"/><circle cx="599.0" cy="111.3" r="0.56" fill="#ccc"/><circle cx="595.4" cy="141.0" r="0.61" fill="#ccc"/><circle cx="597.9" cy="139.7" r="0.34" fill="#bbb"/><circle cx="594.9" cy="139.9" r="0.36" fill="#ddd"/><circle cx="595.5" cy="139.7" r="0.54" fill="#ccc"/><circle cx="592.6" cy="139.0" r="0.38" fill="#fff"/><circle cx="583.4" cy="139.7" r="0.52" fill="#ccc"/><circle cx="583.6" cy="142.0" r="0.62" fill="#ddd"/><circle cx="581.7" cy="143.9" r="0.60" fill="#ccc"/><circle cx="582.3" cy="139.8" r="0.70" fill="#fff"/><circle cx="581.0" cy="142.0" r="0.42" fill="#ccc"/><circle cx="580.4" cy="143.5" r="0.61" fill="#ccc"/><circle cx="580.7" cy="143.1" r="0.67" fill="#ccc"/><circle cx="610.9" cy="134.1" r="0.34" fill="#ccc"/><circle cx="610.5" cy="134.4" r="0.65" fill="#ccc"/><circle cx="611.5" cy="132.8" r="0.38" fill="#fff"/><circle cx="613.0" cy="132.9" r="0.39" fill="#bbb"/><circle cx="612.4" cy="138.3" r="0.53" fill="#ddd"/><circle cx="615.9" cy="134.2" r="0.34" fill="#eee"/><circle cx="567.0" cy="135.5" r="0.59" fill="#fff"/><circle cx="565.8" cy="130.4" r="0.64" fill="#fff"/><circle cx="561.5" cy="132.7" r="0.47" fill="#bbb"/><circle cx="567.8" cy="130.5" r="0.52" fill="#ddd"/><circle cx="565.4" cy="134.8" r="0.48" fill="#ccc"/><circle cx="567.6" cy="133.6" r="0.32" fill="#bbb"/><circle cx="563.7" cy="129.6" r="0.35" fill="#eee"/><circle cx="567.3" cy="135.8" r="0.34" fill="#fff"/><circle cx="555.6" cy="127.5" r="0.51" fill="#fff"/><circle cx="555.7" cy="127.1" r="0.46" fill="#bbb"/><circle cx="560.8" cy="126.2" r="0.67" fill="#ccc"/><circle cx="559.5" cy="129.6" r="0.33" fill="#ccc"/><circle cx="570.5" cy="129.6" r="0.31" fill="#fff"/><circle cx="569.0" cy="131.2" r="0.52" fill="#ddd"/><circle cx="567.4" cy="126.2" r="0.42" fill="#ddd"/><circle cx="569.1" cy="129.1" r="0.61" fill="#fff"/><circle cx="569.2" cy="130.1" r="0.31" fill="#ddd"/><circle cx="567.9" cy="128.1" r="0.47" fill="#fff"/><circle cx="570.6" cy="129.1" r="0.43" fill="#fff"/><circle cx="554.9" cy="131.4" r="0.41" fill="#eee"/><circle cx="556.5" cy="130.7" r="0.69" fill="#eee"/><circle cx="556.4" cy="131.4" r="0.34" fill="#ccc"/><circle cx="557.1" cy="131.3" r="0.47" fill="#ccc"/><circle cx="556.5" cy="131.7" r="0.57" fill="#ddd"/><circle cx="582.0" cy="104.3" r="0.50" fill="#ccc"/><circle cx="583.1" cy="102.9" r="0.69" fill="#eee"/><circle cx="582.3" cy="102.7" r="0.51" fill="#eee"/><circle cx="582.4" cy="100.1" r="0.31" fill="#ccc"/><circle cx="584.8" cy="103.9" r="0.43" fill="#eee"/><circle cx="581.7" cy="103.5" r="0.49" fill="#ccc"/><circle cx="593.5" cy="141.9" r="0.49" fill="#eee"/><circle cx="597.2" cy="143.3" r="0.31" fill="#bbb"/><circle cx="594.0" cy="140.7" r="0.38" fill="#ddd"/><circle cx="595.4" cy="142.9" r="0.66" fill="#ddd"/><circle cx="595.1" cy="139.5" r="0.65" fill="#bbb"/><circle cx="568.6" cy="116.8" r="0.45" fill="#fff"/><circle cx="569.8" cy="117.1" r="0.61" fill="#ddd"/><circle cx="568.1" cy="118.8" r="0.66" fill="#fff"/><circle cx="569.8" cy="115.0" r="0.60" fill="#fff"/><circle cx="564.8" cy="100.2" r="0.35" fill="#bbb"/><circle cx="561.8" cy="102.2" r="0.49" fill="#eee"/><circle cx="562.0" cy="102.1" r="0.34" fill="#ddd"/><circle cx="564.5" cy="103.7" r="0.65" fill="#ddd"/><circle cx="565.3" cy="98.2" r="0.55" fill="#ddd"/><circle cx="560.8" cy="103.2" r="0.68" fill="#ddd"/><circle cx="562.8" cy="102.4" r="0.68" fill="#fff"/><circle cx="563.3" cy="103.7" r="0.41" fill="#fff"/><circle cx="589.0" cy="119.0" r="0.70" fill="#eee"/><circle cx="588.1" cy="119.9" r="0.54" fill="#fff"/><circle cx="584.8" cy="118.1" r="0.69" fill="#bbb"/><circle cx="586.9" cy="120.2" r="0.42" fill="#eee"/><circle cx="589.6" cy="117.5" r="0.53" fill="#ccc"/><circle cx="579.7" cy="122.2" r="0.64" fill="#fff"/><circle cx="581.0" cy="121.6" r="0.39" fill="#bbb"/><circle cx="579.5" cy="121.8" r="0.32" fill="#bbb"/><circle cx="553.4" cy="114.4" r="0.64" fill="#fff"/><circle cx="554.8" cy="114.9" r="0.40" fill="#ccc"/><circle cx="551.8" cy="114.4" r="0.67" fill="#eee"/><circle cx="554.2" cy="112.3" r="0.36" fill="#bbb"/><circle cx="551.2" cy="113.0" r="0.39" fill="#fff"/><circle cx="552.0" cy="115.6" r="0.41" fill="#fff"/><circle cx="607.9" cy="110.3" r="0.59" fill="#eee"/><circle cx="609.1" cy="108.7" r="0.58" fill="#ddd"/><circle cx="611.4" cy="110.3" r="0.63" fill="#ddd"/><circle cx="605.3" cy="110.9" r="0.48" fill="#fff"/><circle cx="607.8" cy="112.0" r="0.33" fill="#ccc"/><circle cx="608.1" cy="110.4" r="0.49" fill="#fff"/><circle cx="609.5" cy="112.2" r="0.32" fill="#bbb"/><circle cx="618.1" cy="131.2" r="0.46" fill="#bbb"/><circle cx="619.6" cy="129.8" r="0.69" fill="#ddd"/><circle cx="615.9" cy="131.4" r="0.30" fill="#ccc"/><circle cx="580.3" cy="116.4" r="0.32" fill="#bbb"/><circle cx="581.8" cy="111.8" r="0.66" fill="#eee"/><circle cx="582.6" cy="111.9" r="0.47" fill="#ddd"/><circle cx="564.0" cy="126.9" r="0.50" fill="#eee"/><circle cx="566.6" cy="127.3" r="0.45" fill="#bbb"/><circle cx="562.8" cy="127.1" r="0.35" fill="#ddd"/><circle cx="564.7" cy="127.8" r="0.35" fill="#fff"/><circle cx="563.8" cy="127.7" r="0.46" fill="#ddd"/><circle cx="566.0" cy="127.2" r="0.49" fill="#ddd"/><circle cx="561.8" cy="125.5" r="0.47" fill="#bbb"/><circle cx="563.2" cy="125.3" r="0.56" fill="#eee"/><circle cx="563.6" cy="123.1" r="0.56" fill="#eee"/><circle cx="564.0" cy="125.5" r="0.43" fill="#ddd"/><circle cx="564.5" cy="124.5" r="0.40" fill="#ddd"/><circle cx="566.6" cy="126.1" r="0.69" fill="#ccc"/><circle cx="584.8" cy="140.0" r="0.65" fill="#ccc"/><circle cx="585.2" cy="137.2" r="0.46" fill="#fff"/><circle cx="583.7" cy="139.0" r="0.42" fill="#eee"/><circle cx="581.8" cy="138.9" r="0.65" fill="#fff"/><circle cx="583.7" cy="140.9" r="0.63" fill="#bbb"/><circle cx="586.7" cy="140.6" r="0.64" fill="#ccc"/><circle cx="582.3" cy="141.1" r="0.33" fill="#bbb"/><circle cx="583.3" cy="140.1" r="0.48" fill="#ddd"/><circle cx="598.7" cy="144.1" r="0.60" fill="#fff"/><circle cx="594.7" cy="141.9" r="0.54" fill="#bbb"/><circle cx="596.9" cy="142.5" r="0.40" fill="#ddd"/><circle cx="602.6" cy="141.2" r="0.45" fill="#ccc"/><circle cx="599.0" cy="143.4" r="0.56" fill="#bbb"/><circle cx="599.6" cy="141.6" r="0.33" fill="#bbb"/><circle cx="594.3" cy="143.1" r="0.66" fill="#ddd"/><circle cx="587.1" cy="109.5" r="0.56" fill="#fff"/><circle cx="586.0" cy="110.4" r="0.63" fill="#eee"/><circle cx="586.7" cy="109.7" r="0.55" fill="#ddd"/><circle cx="607.9" cy="102.1" r="0.45" fill="#bbb"/><circle cx="609.0" cy="106.7" r="0.45" fill="#ddd"/><circle cx="607.7" cy="101.6" r="0.49" fill="#fff"/><circle cx="608.4" cy="102.6" r="0.30" fill="#ccc"/><circle cx="606.9" cy="104.6" r="0.53" fill="#eee"/><circle cx="607.5" cy="102.7" r="0.66" fill="#fff"/><circle cx="606.7" cy="100.5" r="0.31" fill="#fff"/><circle cx="572.2" cy="100.7" r="0.37" fill="#ddd"/><circle cx="571.0" cy="102.4" r="0.63" fill="#eee"/><circle cx="574.0" cy="101.3" r="0.70" fill="#fff"/><circle cx="570.7" cy="98.6" r="0.44" fill="#ccc"/><circle cx="571.4" cy="101.9" r="0.33" fill="#ddd"/><circle cx="570.5" cy="102.4" r="0.38" fill="#fff"/><circle cx="569.1" cy="118.3" r="0.42" fill="#ccc"/><circle cx="569.1" cy="113.4" r="0.44" fill="#bbb"/><circle cx="568.5" cy="115.2" r="0.59" fill="#bbb"/><circle cx="570.2" cy="114.9" r="0.34" fill="#eee"/><circle cx="571.7" cy="116.0" r="0.43" fill="#ccc"/><circle cx="569.2" cy="115.1" r="0.35" fill="#ddd"/><circle cx="562.9" cy="116.2" r="0.38" fill="#ccc"/><circle cx="559.4" cy="115.1" r="0.59" fill="#ccc"/><circle cx="560.9" cy="115.3" r="0.64" fill="#fff"/><circle cx="558.6" cy="113.9" r="0.64" fill="#ddd"/><circle cx="560.0" cy="112.1" r="0.55" fill="#bbb"/><circle cx="556.5" cy="106.3" r="0.60" fill="#eee"/><circle cx="562.8" cy="107.2" r="0.52" fill="#eee"/><circle cx="562.5" cy="103.9" r="0.46" fill="#eee"/><circle cx="559.5" cy="104.3" r="0.51" fill="#ccc"/><circle cx="559.9" cy="105.8" r="0.43" fill="#eee"/><circle cx="560.0" cy="106.2" r="0.67" fill="#ddd"/><circle cx="558.7" cy="103.3" r="0.32" fill="#ccc"/><circle cx="559.1" cy="103.1" r="0.67" fill="#eee"/><circle cx="600.4" cy="133.6" r="0.31" fill="#eee"/><circle cx="598.9" cy="134.6" r="0.69" fill="#ddd"/><circle cx="598.9" cy="131.7" r="0.63" fill="#bbb"/><circle cx="595.3" cy="134.5" r="0.59" fill="#ddd"/><circle cx="599.4" cy="137.6" r="0.32" fill="#ddd"/><circle cx="584.8" cy="92.5" r="0.62" fill="#bbb"/><circle cx="587.4" cy="94.1" r="0.69" fill="#ccc"/><circle cx="588.5" cy="92.5" r="0.31" fill="#fff"/><circle cx="589.8" cy="93.2" r="0.53" fill="#fff"/><circle cx="584.9" cy="92.9" r="0.50" fill="#ddd"/><circle cx="585.9" cy="94.2" r="0.58" fill="#fff"/><circle cx="570.1" cy="150.9" r="0.56" fill="#eee"/><circle cx="567.8" cy="151.1" r="0.43" fill="#fff"/><circle cx="606.7" cy="125.1" r="0.58" fill="#ddd"/><circle cx="604.6" cy="125.3" r="0.57" fill="#bbb"/><circle cx="606.8" cy="126.7" r="0.60" fill="#fff"/><circle cx="606.6" cy="125.9" r="0.51" fill="#eee"/><circle cx="607.3" cy="125.8" r="0.68" fill="#bbb"/><circle cx="608.3" cy="123.9" r="0.67" fill="#eee"/><circle cx="581.6" cy="84.9" r="0.61" fill="#ddd"/><circle cx="581.2" cy="84.4" r="0.56" fill="#ddd"/><circle cx="584.4" cy="88.8" r="0.48" fill="#bbb"/><circle cx="580.7" cy="86.3" r="0.66" fill="#eee"/><circle cx="580.4" cy="89.0" r="0.63" fill="#ccc"/><circle cx="584.0" cy="86.1" r="0.39" fill="#eee"/><circle cx="581.3" cy="85.0" r="0.70" fill="#fff"/><circle cx="582.5" cy="121.0" r="0.59" fill="#eee"/><circle cx="589.0" cy="120.8" r="0.63" fill="#eee"/><circle cx="585.9" cy="121.4" r="0.41" fill="#ddd"/><circle cx="586.9" cy="120.5" r="0.52" fill="#ccc"/><circle cx="588.7" cy="119.1" r="0.45" fill="#ccc"/><circle cx="588.8" cy="121.1" r="0.30" fill="#fff"/><circle cx="573.4" cy="141.8" r="0.32" fill="#ccc"/><circle cx="576.2" cy="136.8" r="0.59" fill="#bbb"/><circle cx="576.7" cy="140.9" r="0.45" fill="#ddd"/><circle cx="573.8" cy="137.5" r="0.42" fill="#ddd"/><circle cx="609.1" cy="147.1" r="0.64" fill="#fff"/><circle cx="603.4" cy="148.5" r="0.63" fill="#bbb"/><circle cx="606.3" cy="149.4" r="0.58" fill="#fff"/><circle cx="608.6" cy="147.8" r="0.32" fill="#ccc"/><circle cx="597.6" cy="113.7" r="0.43" fill="#ddd"/><circle cx="593.8" cy="114.8" r="0.39" fill="#ccc"/><circle cx="597.1" cy="114.6" r="0.43" fill="#eee"/><circle cx="593.2" cy="112.3" r="0.59" fill="#eee"/><circle cx="591.6" cy="113.9" r="0.54" fill="#ccc"/><circle cx="597.1" cy="112.6" r="0.69" fill="#ccc"/><circle cx="595.3" cy="111.2" r="0.31" fill="#ccc"/><circle cx="594.9" cy="113.0" r="0.56" fill="#eee"/><circle cx="558.4" cy="129.5" r="0.42" fill="#fff"/><circle cx="561.0" cy="128.6" r="0.61" fill="#fff"/><circle cx="562.1" cy="127.7" r="0.55" fill="#ddd"/><circle cx="560.1" cy="127.5" r="0.70" fill="#bbb"/><circle cx="559.3" cy="131.8" r="0.42" fill="#ccc"/><circle cx="570.5" cy="127.4" r="0.64" fill="#bbb"/><circle cx="568.1" cy="124.1" r="0.34" fill="#bbb"/><circle cx="569.7" cy="124.2" r="0.60" fill="#bbb"/><circle cx="564.7" cy="125.8" r="0.40" fill="#ccc"/><circle cx="570.7" cy="127.4" r="0.43" fill="#fff"/><circle cx="567.1" cy="128.3" r="0.55" fill="#fff"/><circle cx="585.8" cy="144.7" r="0.38" fill="#ccc"/><circle cx="584.0" cy="144.1" r="0.69" fill="#ccc"/><circle cx="585.5" cy="144.2" r="0.44" fill="#ddd"/><circle cx="603.8" cy="118.5" r="0.61" fill="#eee"/><circle cx="605.2" cy="115.3" r="0.32" fill="#ddd"/><circle cx="603.4" cy="119.2" r="0.68" fill="#bbb"/><circle cx="604.5" cy="120.9" r="0.63" fill="#fff"/><circle cx="607.3" cy="119.9" r="0.37" fill="#ccc"/><circle cx="577.7" cy="104.4" r="0.42" fill="#ddd"/><circle cx="572.1" cy="106.6" r="0.51" fill="#ccc"/><circle cx="575.4" cy="106.4" r="0.30" fill="#bbb"/><circle cx="569.9" cy="109.9" r="0.65" fill="#fff"/><circle cx="576.2" cy="100.0" r="0.69" fill="#eee"/><circle cx="573.0" cy="106.2" r="0.59" fill="#eee"/><circle cx="607.4" cy="115.6" r="0.46" fill="#ccc"/><circle cx="604.9" cy="112.4" r="0.41" fill="#fff"/><circle cx="606.7" cy="114.9" r="0.69" fill="#ddd"/><circle cx="607.8" cy="115.6" r="0.67" fill="#bbb"/><circle cx="605.9" cy="112.4" r="0.38" fill="#ddd"/><circle cx="606.8" cy="116.5" r="0.65" fill="#fff"/><circle cx="608.2" cy="116.8" r="0.70" fill="#eee"/><circle cx="606.0" cy="146.7" r="0.52" fill="#bbb"/><circle cx="608.4" cy="147.2" r="0.33" fill="#ddd"/><circle cx="608.2" cy="147.4" r="0.61" fill="#ddd"/><circle cx="608.8" cy="147.3" r="0.60" fill="#ccc"/><circle cx="564.3" cy="111.9" r="0.47" fill="#bbb"/><circle cx="562.6" cy="110.2" r="0.36" fill="#ddd"/><circle cx="560.3" cy="112.8" r="0.60" fill="#fff"/><circle cx="561.8" cy="111.7" r="0.59" fill="#bbb"/><circle cx="590.5" cy="155.1" r="0.50" fill="#ccc"/><circle cx="589.8" cy="154.4" r="0.59" fill="#ddd"/><circle cx="589.2" cy="154.8" r="0.60" fill="#ccc"/><circle cx="587.1" cy="110.7" r="0.69" fill="#fff"/><circle cx="590.7" cy="113.9" r="0.68" fill="#bbb"/><circle cx="591.4" cy="112.1" r="0.46" fill="#eee"/><circle cx="588.9" cy="112.9" r="0.60" fill="#bbb"/><circle cx="611.4" cy="106.9" r="0.59" fill="#eee"/><circle cx="616.0" cy="108.7" r="0.62" fill="#ddd"/><circle cx="616.2" cy="105.4" r="0.52" fill="#eee"/><circle cx="612.1" cy="107.1" r="0.35" fill="#ccc"/><circle cx="587.4" cy="125.4" r="0.34" fill="#fff"/><circle cx="584.0" cy="125.1" r="0.70" fill="#ddd"/><circle cx="585.2" cy="122.5" r="0.38" fill="#fff"/><circle cx="572.8" cy="131.8" r="0.40" fill="#fff"/><circle cx="571.3" cy="130.3" r="0.33" fill="#eee"/><circle cx="572.2" cy="130.0" r="0.35" fill="#bbb"/><circle cx="574.4" cy="128.0" r="0.59" fill="#eee"/><circle cx="572.0" cy="131.4" r="0.56" fill="#eee"/><circle cx="571.3" cy="133.7" r="0.41" fill="#eee"/><circle cx="571.5" cy="133.2" r="0.46" fill="#eee"/><circle cx="599.1" cy="114.9" r="0.46" fill="#ddd"/><circle cx="601.6" cy="111.8" r="0.55" fill="#bbb"/><circle cx="599.9" cy="113.3" r="0.65" fill="#fff"/><circle cx="596.2" cy="110.9" r="0.59" fill="#ddd"/><circle cx="554.1" cy="128.9" r="0.49" fill="#ccc"/><circle cx="556.3" cy="131.2" r="0.47" fill="#bbb"/><circle cx="556.1" cy="134.5" r="0.47" fill="#fff"/><circle cx="554.9" cy="133.5" r="0.59" fill="#ddd"/><circle cx="595.6" cy="107.2" r="0.33" fill="#ccc"/><circle cx="599.2" cy="109.2" r="0.64" fill="#ddd"/><circle cx="593.7" cy="108.6" r="0.42" fill="#ddd"/><circle cx="595.1" cy="107.9" r="0.67" fill="#ddd"/><circle cx="584.9" cy="103.3" r="0.43" fill="#fff"/><circle cx="581.9" cy="100.1" r="0.55" fill="#ddd"/><circle cx="584.9" cy="99.6" r="0.41" fill="#bbb"/><circle cx="583.2" cy="96.5" r="0.47" fill="#ddd"/><circle cx="581.4" cy="99.0" r="0.59" fill="#eee"/><circle cx="608.5" cy="111.7" r="0.31" fill="#eee"/><circle cx="609.9" cy="111.6" r="0.58" fill="#fff"/><circle cx="608.9" cy="112.1" r="0.54" fill="#eee"/><circle cx="611.7" cy="110.2" r="0.33" fill="#eee"/><circle cx="610.8" cy="110.0" r="0.69" fill="#bbb"/><circle cx="610.0" cy="112.0" r="0.53" fill="#fff"/><circle cx="607.3" cy="113.2" r="0.59" fill="#ccc"/><circle cx="572.7" cy="89.4" r="0.31" fill="#ccc"/><circle cx="572.2" cy="91.1" r="0.60" fill="#ccc"/><circle cx="572.4" cy="89.9" r="0.35" fill="#ccc"/><circle cx="573.8" cy="91.7" r="0.35" fill="#bbb"/><circle cx="572.7" cy="89.9" r="0.36" fill="#ccc"/><circle cx="574.3" cy="90.3" r="0.44" fill="#bbb"/><circle cx="571.8" cy="89.2" r="0.57" fill="#ddd"/><circle cx="573.8" cy="92.0" r="0.42" fill="#bbb"/><circle cx="560.9" cy="118.8" r="0.52" fill="#ccc"/><circle cx="562.9" cy="117.3" r="0.67" fill="#ccc"/><circle cx="560.6" cy="117.4" r="0.62" fill="#ddd"/><circle cx="562.7" cy="115.7" r="0.37" fill="#ccc"/><circle cx="560.6" cy="117.0" r="0.50" fill="#eee"/><circle cx="560.4" cy="120.8" r="0.40" fill="#ccc"/><circle cx="563.0" cy="116.9" r="0.67" fill="#bbb"/><circle cx="573.8" cy="92.9" r="0.69" fill="#fff"/><circle cx="571.8" cy="91.4" r="0.53" fill="#ddd"/><circle cx="575.0" cy="92.9" r="0.59" fill="#ddd"/><circle cx="575.7" cy="92.3" r="0.51" fill="#ddd"/><circle cx="574.6" cy="88.7" r="0.58" fill="#ccc"/><circle cx="570.0" cy="90.6" r="0.34" fill="#fff"/><circle cx="571.8" cy="90.3" r="0.31" fill="#ddd"/><circle cx="575.9" cy="89.9" r="0.70" fill="#bbb"/><circle cx="563.3" cy="133.0" r="0.50" fill="#eee"/><circle cx="564.7" cy="133.0" r="0.38" fill="#eee"/><circle cx="562.3" cy="134.0" r="0.67" fill="#ddd"/></g>
</g>
<circle cx="586.5" cy="121" r="37" fill="url(#vign)"/>
</g>
<clipPath id="clp3"><circle cx="587.4" cy="200" r="36.5"/></clipPath>
<circle cx="587.4" cy="200" r="37" fill="#1b1b1b" stroke="#333" stroke-width="0.7"/>
<g clip-path="url(#clp3)"><g filter="url(#blurP)">
<g filter="url(#blur0)"><circle cx="581.7" cy="216.9" r="0.38" fill="#3a3a3a"/><circle cx="569.9" cy="230.6" r="0.44" fill="#3a3a3a"/><circle cx="593.3" cy="213.0" r="0.36" fill="#3a3a3a"/><circle cx="574.9" cy="191.1" r="0.40" fill="#3a3a3a"/><circle cx="593.7" cy="233.7" r="0.38" fill="#5a5a5a"/><circle cx="574.0" cy="228.4" r="0.52" fill="#3a3a3a"/><circle cx="620.1" cy="190.7" r="0.54" fill="#4e4e4e"/><circle cx="572.3" cy="213.0" r="0.38" fill="#4e4e4e"/><circle cx="620.3" cy="188.1" r="0.48" fill="#666"/><circle cx="558.8" cy="199.5" r="0.36" fill="#4e4e4e"/><circle cx="572.2" cy="216.9" r="0.51" fill="#444"/><circle cx="604.4" cy="174.1" r="0.57" fill="#4e4e4e"/><circle cx="598.9" cy="172.1" r="0.39" fill="#666"/><circle cx="574.9" cy="216.3" r="0.46" fill="#666"/><circle cx="572.6" cy="176.8" r="0.43" fill="#5a5a5a"/><circle cx="603.4" cy="218.8" r="0.49" fill="#666"/><circle cx="579.4" cy="170.4" r="0.45" fill="#4e4e4e"/><circle cx="587.7" cy="181.3" r="0.44" fill="#666"/><circle cx="575.0" cy="192.8" r="0.55" fill="#666"/><circle cx="555.5" cy="199.9" r="0.39" fill="#3a3a3a"/><circle cx="594.1" cy="213.4" r="0.54" fill="#666"/><circle cx="604.2" cy="176.7" r="0.49" fill="#444"/><circle cx="600.0" cy="191.9" r="0.50" fill="#444"/><circle cx="561.2" cy="192.5" r="0.49" fill="#444"/><circle cx="563.0" cy="176.2" r="0.44" fill="#4e4e4e"/><circle cx="572.1" cy="225.3" r="0.57" fill="#5a5a5a"/><circle cx="620.6" cy="191.4" r="0.58" fill="#666"/><circle cx="573.3" cy="199.8" r="0.52" fill="#666"/><circle cx="572.6" cy="226.6" r="0.36" fill="#5a5a5a"/><circle cx="564.5" cy="209.9" r="0.54" fill="#3a3a3a"/><circle cx="599.4" cy="199.4" r="0.51" fill="#666"/><circle cx="565.1" cy="220.9" r="0.36" fill="#444"/><circle cx="587.4" cy="210.8" r="0.38" fill="#5a5a5a"/><circle cx="571.4" cy="211.7" r="0.38" fill="#444"/><circle cx="609.0" cy="209.1" r="0.36" fill="#3a3a3a"/><circle cx="596.2" cy="200.4" r="0.48" fill="#5a5a5a"/><circle cx="619.2" cy="186.9" r="0.52" fill="#4e4e4e"/><circle cx="594.9" cy="231.6" r="0.53" fill="#3a3a3a"/><circle cx="575.8" cy="222.7" r="0.57" fill="#3a3a3a"/><circle cx="582.7" cy="219.0" r="0.43" fill="#5a5a5a"/><circle cx="608.6" cy="193.2" r="0.53" fill="#444"/><circle cx="579.4" cy="198.0" r="0.48" fill="#3a3a3a"/><circle cx="581.6" cy="211.0" r="0.36" fill="#4e4e4e"/><circle cx="584.3" cy="214.2" r="0.40" fill="#5a5a5a"/><circle cx="617.0" cy="216.3" r="0.56" fill="#4e4e4e"/><circle cx="583.5" cy="189.8" r="0.41" fill="#5a5a5a"/><circle cx="608.4" cy="173.6" r="0.48" fill="#5a5a5a"/><circle cx="593.7" cy="200.3" r="0.38" fill="#3a3a3a"/><circle cx="595.4" cy="195.8" r="0.36" fill="#444"/><circle cx="552.1" cy="196.2" r="0.36" fill="#5a5a5a"/><circle cx="603.2" cy="180.7" r="0.45" fill="#3a3a3a"/><circle cx="566.6" cy="170.0" r="0.40" fill="#5a5a5a"/><circle cx="575.0" cy="171.6" r="0.50" fill="#3a3a3a"/><circle cx="610.2" cy="184.5" r="0.55" fill="#5a5a5a"/><circle cx="621.6" cy="199.2" r="0.42" fill="#666"/><circle cx="610.7" cy="209.6" r="0.43" fill="#4e4e4e"/><circle cx="554.6" cy="195.2" r="0.50" fill="#3a3a3a"/><circle cx="598.8" cy="229.6" r="0.57" fill="#444"/><circle cx="606.4" cy="188.2" r="0.58" fill="#5a5a5a"/><circle cx="572.9" cy="207.9" r="0.37" fill="#5a5a5a"/><circle cx="572.1" cy="225.9" r="0.48" fill="#3a3a3a"/><circle cx="590.9" cy="202.7" r="0.39" fill="#5a5a5a"/><circle cx="605.1" cy="217.3" r="0.44" fill="#666"/><circle cx="564.0" cy="222.3" r="0.41" fill="#5a5a5a"/><circle cx="608.1" cy="198.6" r="0.56" fill="#4e4e4e"/><circle cx="587.9" cy="218.7" r="0.59" fill="#5a5a5a"/><circle cx="606.0" cy="223.9" r="0.54" fill="#3a3a3a"/><circle cx="600.5" cy="170.2" r="0.50" fill="#444"/><circle cx="595.7" cy="166.6" r="0.57" fill="#5a5a5a"/><circle cx="604.6" cy="187.7" r="0.35" fill="#4e4e4e"/><circle cx="564.8" cy="221.2" r="0.43" fill="#3a3a3a"/><circle cx="573.4" cy="196.3" r="0.41" fill="#444"/><circle cx="598.1" cy="206.3" r="0.38" fill="#3a3a3a"/><circle cx="571.7" cy="178.4" r="0.48" fill="#666"/><circle cx="587.8" cy="230.1" r="0.55" fill="#4e4e4e"/><circle cx="590.0" cy="176.9" r="0.51" fill="#444"/><circle cx="594.7" cy="226.6" r="0.40" fill="#3a3a3a"/><circle cx="584.8" cy="179.5" r="0.38" fill="#666"/><circle cx="586.3" cy="212.5" r="0.45" fill="#4e4e4e"/><circle cx="599.3" cy="220.6" r="0.56" fill="#4e4e4e"/><circle cx="594.4" cy="223.3" r="0.38" fill="#444"/><circle cx="598.0" cy="188.3" r="0.47" fill="#444"/><circle cx="555.7" cy="203.9" r="0.46" fill="#4e4e4e"/><circle cx="598.4" cy="207.8" r="0.41" fill="#444"/><circle cx="567.9" cy="195.5" r="0.40" fill="#4e4e4e"/><circle cx="604.2" cy="227.7" r="0.47" fill="#666"/><circle cx="603.0" cy="226.1" r="0.59" fill="#4e4e4e"/><circle cx="586.2" cy="220.2" r="0.47" fill="#5a5a5a"/><circle cx="593.9" cy="165.6" r="0.40" fill="#3a3a3a"/><circle cx="557.5" cy="216.5" r="0.48" fill="#4e4e4e"/><circle cx="554.9" cy="197.9" r="0.54" fill="#444"/><circle cx="570.8" cy="195.0" r="0.47" fill="#4e4e4e"/><circle cx="565.0" cy="220.9" r="0.38" fill="#444"/><circle cx="572.6" cy="193.4" r="0.40" fill="#3a3a3a"/><circle cx="586.5" cy="222.9" r="0.59" fill="#4e4e4e"/><circle cx="578.0" cy="174.9" r="0.59" fill="#4e4e4e"/><circle cx="585.5" cy="236.9" r="0.44" fill="#444"/><circle cx="613.5" cy="184.1" r="0.44" fill="#5a5a5a"/><circle cx="577.0" cy="224.5" r="0.58" fill="#444"/><circle cx="588.8" cy="164.1" r="0.39" fill="#666"/><circle cx="609.1" cy="189.3" r="0.59" fill="#4e4e4e"/><circle cx="551.4" cy="195.0" r="0.56" fill="#4e4e4e"/><circle cx="595.1" cy="223.0" r="0.43" fill="#5a5a5a"/><circle cx="568.7" cy="222.4" r="0.53" fill="#5a5a5a"/><circle cx="575.5" cy="165.2" r="0.51" fill="#3a3a3a"/><circle cx="600.4" cy="230.5" r="0.41" fill="#666"/><circle cx="560.4" cy="219.1" r="0.48" fill="#5a5a5a"/><circle cx="611.9" cy="203.8" r="0.35" fill="#4e4e4e"/><circle cx="553.8" cy="199.0" r="0.57" fill="#3a3a3a"/><circle cx="617.5" cy="197.6" r="0.48" fill="#666"/><circle cx="577.9" cy="209.8" r="0.40" fill="#4e4e4e"/><circle cx="590.9" cy="193.2" r="0.46" fill="#4e4e4e"/><circle cx="571.0" cy="181.9" r="0.59" fill="#4e4e4e"/><circle cx="561.9" cy="186.3" r="0.36" fill="#666"/><circle cx="586.3" cy="180.1" r="0.58" fill="#5a5a5a"/><circle cx="595.7" cy="165.3" r="0.50" fill="#666"/><circle cx="608.5" cy="218.8" r="0.38" fill="#4e4e4e"/><circle cx="599.9" cy="190.5" r="0.47" fill="#666"/><circle cx="606.1" cy="224.2" r="0.40" fill="#5a5a5a"/><circle cx="578.8" cy="224.3" r="0.36" fill="#4e4e4e"/><circle cx="573.8" cy="208.2" r="0.42" fill="#666"/><circle cx="560.1" cy="181.5" r="0.47" fill="#3a3a3a"/><circle cx="602.1" cy="171.5" r="0.51" fill="#3a3a3a"/><circle cx="555.5" cy="182.8" r="0.47" fill="#5a5a5a"/><circle cx="571.8" cy="204.4" r="0.41" fill="#444"/><circle cx="598.3" cy="173.5" r="0.40" fill="#3a3a3a"/><circle cx="596.8" cy="186.0" r="0.57" fill="#444"/><circle cx="590.0" cy="191.3" r="0.46" fill="#3a3a3a"/><circle cx="572.2" cy="191.4" r="0.37" fill="#666"/><circle cx="568.6" cy="189.2" r="0.38" fill="#5a5a5a"/><circle cx="613.1" cy="198.0" r="0.48" fill="#4e4e4e"/><circle cx="613.6" cy="195.7" r="0.47" fill="#5a5a5a"/><circle cx="590.2" cy="195.7" r="0.46" fill="#666"/><circle cx="578.8" cy="219.0" r="0.58" fill="#4e4e4e"/><circle cx="613.2" cy="176.3" r="0.43" fill="#444"/><circle cx="595.1" cy="167.2" r="0.57" fill="#666"/><circle cx="614.8" cy="221.8" r="0.52" fill="#666"/><circle cx="589.3" cy="219.7" r="0.47" fill="#3a3a3a"/><circle cx="593.4" cy="187.1" r="0.50" fill="#666"/><circle cx="574.3" cy="200.5" r="0.51" fill="#4e4e4e"/><circle cx="594.1" cy="215.0" r="0.57" fill="#4e4e4e"/><circle cx="612.2" cy="184.2" r="0.42" fill="#4e4e4e"/><circle cx="559.5" cy="200.1" r="0.53" fill="#4e4e4e"/><circle cx="568.8" cy="195.2" r="0.46" fill="#4e4e4e"/><circle cx="585.8" cy="202.3" r="0.60" fill="#444"/><circle cx="589.5" cy="195.7" r="0.36" fill="#666"/><circle cx="581.3" cy="203.7" r="0.54" fill="#666"/><circle cx="578.8" cy="235.6" r="0.48" fill="#4e4e4e"/><circle cx="554.5" cy="199.6" r="0.46" fill="#3a3a3a"/><circle cx="614.6" cy="215.6" r="0.35" fill="#4e4e4e"/><circle cx="577.9" cy="190.5" r="0.44" fill="#5a5a5a"/><circle cx="598.6" cy="227.8" r="0.47" fill="#666"/><circle cx="615.9" cy="178.5" r="0.42" fill="#5a5a5a"/><circle cx="552.6" cy="202.9" r="0.48" fill="#4e4e4e"/><circle cx="605.0" cy="224.3" r="0.46" fill="#444"/><circle cx="600.9" cy="171.9" r="0.41" fill="#5a5a5a"/><circle cx="560.7" cy="185.7" r="0.40" fill="#666"/><circle cx="611.3" cy="207.3" r="0.46" fill="#3a3a3a"/><circle cx="609.3" cy="191.3" r="0.56" fill="#5a5a5a"/><circle cx="564.0" cy="183.3" r="0.40" fill="#5a5a5a"/><circle cx="597.4" cy="206.4" r="0.46" fill="#4e4e4e"/><circle cx="601.5" cy="169.2" r="0.57" fill="#5a5a5a"/><circle cx="605.6" cy="186.8" r="0.43" fill="#3a3a3a"/><circle cx="617.9" cy="209.7" r="0.56" fill="#3a3a3a"/><circle cx="574.9" cy="194.0" r="0.41" fill="#666"/><circle cx="574.3" cy="211.0" r="0.36" fill="#3a3a3a"/><circle cx="588.7" cy="229.8" r="0.48" fill="#666"/><circle cx="592.9" cy="169.3" r="0.56" fill="#444"/><circle cx="579.7" cy="188.4" r="0.52" fill="#5a5a5a"/><circle cx="589.5" cy="178.0" r="0.44" fill="#4e4e4e"/><circle cx="593.9" cy="206.1" r="0.50" fill="#4e4e4e"/><circle cx="576.7" cy="219.9" r="0.56" fill="#666"/><circle cx="605.0" cy="178.1" r="0.53" fill="#3a3a3a"/><circle cx="613.9" cy="209.6" r="0.57" fill="#5a5a5a"/><circle cx="566.4" cy="223.9" r="0.38" fill="#5a5a5a"/><circle cx="618.0" cy="192.4" r="0.43" fill="#444"/><circle cx="606.3" cy="187.2" r="0.45" fill="#444"/><circle cx="613.4" cy="224.6" r="0.41" fill="#3a3a3a"/><circle cx="577.6" cy="179.5" r="0.41" fill="#4e4e4e"/><circle cx="569.9" cy="214.4" r="0.53" fill="#4e4e4e"/><circle cx="565.8" cy="185.5" r="0.49" fill="#444"/><circle cx="568.6" cy="214.8" r="0.55" fill="#444"/><circle cx="577.4" cy="180.2" r="0.45" fill="#666"/><circle cx="590.3" cy="207.2" r="0.46" fill="#4e4e4e"/><circle cx="614.0" cy="199.3" r="0.39" fill="#666"/><circle cx="588.9" cy="194.1" r="0.41" fill="#5a5a5a"/><circle cx="586.2" cy="176.2" r="0.43" fill="#5a5a5a"/><circle cx="604.6" cy="206.2" r="0.44" fill="#3a3a3a"/><circle cx="561.2" cy="185.0" r="0.39" fill="#666"/><circle cx="618.6" cy="190.7" r="0.50" fill="#3a3a3a"/><circle cx="611.4" cy="178.0" r="0.53" fill="#3a3a3a"/><circle cx="622.6" cy="206.9" r="0.57" fill="#666"/><circle cx="615.9" cy="203.1" r="0.56" fill="#5a5a5a"/><circle cx="605.8" cy="184.6" r="0.46" fill="#3a3a3a"/><circle cx="591.7" cy="219.5" r="0.47" fill="#5a5a5a"/><circle cx="592.4" cy="181.5" r="0.49" fill="#444"/><circle cx="578.9" cy="171.1" r="0.39" fill="#666"/><circle cx="618.1" cy="199.0" r="0.45" fill="#666"/><circle cx="564.9" cy="193.2" r="0.44" fill="#666"/><circle cx="604.0" cy="207.9" r="0.39" fill="#444"/><circle cx="599.6" cy="171.8" r="0.48" fill="#666"/><circle cx="588.5" cy="192.4" r="0.47" fill="#3a3a3a"/><circle cx="601.0" cy="180.1" r="0.38" fill="#4e4e4e"/><circle cx="620.5" cy="198.3" r="0.39" fill="#5a5a5a"/><circle cx="577.7" cy="213.4" r="0.49" fill="#4e4e4e"/><circle cx="588.2" cy="177.8" r="0.41" fill="#444"/><circle cx="569.5" cy="188.7" r="0.58" fill="#4e4e4e"/><circle cx="557.7" cy="215.1" r="0.41" fill="#3a3a3a"/><circle cx="584.2" cy="235.1" r="0.56" fill="#4e4e4e"/><circle cx="586.7" cy="236.6" r="0.44" fill="#444"/><circle cx="614.8" cy="218.1" r="0.49" fill="#666"/><circle cx="592.9" cy="235.4" r="0.41" fill="#5a5a5a"/><circle cx="590.7" cy="206.3" r="0.39" fill="#5a5a5a"/><circle cx="552.7" cy="194.9" r="0.40" fill="#3a3a3a"/><circle cx="606.5" cy="200.4" r="0.56" fill="#444"/><circle cx="604.2" cy="190.6" r="0.51" fill="#3a3a3a"/><circle cx="592.1" cy="234.4" r="0.40" fill="#4e4e4e"/><circle cx="605.1" cy="198.9" r="0.39" fill="#4e4e4e"/><circle cx="590.7" cy="212.5" r="0.53" fill="#666"/><circle cx="569.6" cy="169.4" r="0.57" fill="#3a3a3a"/><circle cx="579.3" cy="196.7" r="0.46" fill="#666"/><circle cx="563.4" cy="224.2" r="0.42" fill="#3a3a3a"/><circle cx="602.1" cy="175.6" r="0.43" fill="#3a3a3a"/><circle cx="604.1" cy="224.7" r="0.38" fill="#4e4e4e"/><circle cx="609.8" cy="191.7" r="0.46" fill="#666"/><circle cx="599.8" cy="187.2" r="0.46" fill="#444"/><circle cx="566.3" cy="174.7" r="0.37" fill="#5a5a5a"/><circle cx="573.8" cy="205.4" r="0.52" fill="#666"/><circle cx="568.4" cy="170.1" r="0.36" fill="#5a5a5a"/><circle cx="575.5" cy="177.5" r="0.48" fill="#666"/><circle cx="578.6" cy="229.5" r="0.48" fill="#444"/><circle cx="582.0" cy="185.8" r="0.39" fill="#3a3a3a"/><circle cx="583.9" cy="202.3" r="0.58" fill="#4e4e4e"/><circle cx="593.5" cy="209.1" r="0.48" fill="#5a5a5a"/><circle cx="573.2" cy="201.6" r="0.44" fill="#444"/><circle cx="587.4" cy="198.5" r="0.54" fill="#444"/><circle cx="552.1" cy="209.0" r="0.53" fill="#3a3a3a"/><circle cx="553.9" cy="213.0" r="0.55" fill="#4e4e4e"/><circle cx="586.8" cy="220.6" r="0.43" fill="#444"/><circle cx="592.1" cy="193.0" r="0.38" fill="#3a3a3a"/><circle cx="600.8" cy="180.6" r="0.54" fill="#444"/><circle cx="589.7" cy="219.9" r="0.38" fill="#666"/><circle cx="572.7" cy="226.2" r="0.35" fill="#666"/><circle cx="555.5" cy="213.0" r="0.46" fill="#3a3a3a"/><circle cx="603.0" cy="204.5" r="0.46" fill="#5a5a5a"/><circle cx="575.8" cy="232.4" r="0.43" fill="#4e4e4e"/><circle cx="605.0" cy="182.1" r="0.54" fill="#5a5a5a"/><circle cx="565.6" cy="170.2" r="0.54" fill="#4e4e4e"/><circle cx="621.2" cy="198.3" r="0.53" fill="#444"/><circle cx="594.8" cy="212.1" r="0.36" fill="#666"/><circle cx="580.2" cy="191.5" r="0.37" fill="#4e4e4e"/><circle cx="563.6" cy="200.1" r="0.46" fill="#4e4e4e"/><circle cx="581.6" cy="205.7" r="0.46" fill="#5a5a5a"/><circle cx="606.0" cy="189.9" r="0.42" fill="#5a5a5a"/><circle cx="566.6" cy="179.9" r="0.54" fill="#444"/><circle cx="552.7" cy="193.6" r="0.50" fill="#3a3a3a"/><circle cx="580.1" cy="198.4" r="0.48" fill="#666"/><circle cx="582.4" cy="177.8" r="0.36" fill="#5a5a5a"/><circle cx="591.8" cy="175.0" r="0.40" fill="#3a3a3a"/><circle cx="616.3" cy="222.2" r="0.59" fill="#3a3a3a"/><circle cx="560.6" cy="220.5" r="0.38" fill="#3a3a3a"/><circle cx="594.4" cy="233.1" r="0.49" fill="#4e4e4e"/><circle cx="559.9" cy="194.2" r="0.39" fill="#444"/><circle cx="601.5" cy="209.4" r="0.43" fill="#5a5a5a"/><circle cx="583.2" cy="231.7" r="0.49" fill="#4e4e4e"/><circle cx="594.1" cy="188.4" r="0.45" fill="#666"/><circle cx="568.4" cy="179.4" r="0.41" fill="#4e4e4e"/><circle cx="617.1" cy="187.7" r="0.54" fill="#4e4e4e"/><circle cx="612.0" cy="178.3" r="0.35" fill="#5a5a5a"/><circle cx="598.1" cy="223.4" r="0.58" fill="#444"/><circle cx="606.1" cy="223.7" r="0.55" fill="#3a3a3a"/><circle cx="575.8" cy="184.5" r="0.59" fill="#4e4e4e"/><circle cx="591.7" cy="171.6" r="0.41" fill="#5a5a5a"/><circle cx="589.9" cy="192.2" r="0.42" fill="#666"/><circle cx="618.7" cy="186.0" r="0.38" fill="#3a3a3a"/><circle cx="616.9" cy="192.5" r="0.55" fill="#4e4e4e"/><circle cx="608.0" cy="180.6" r="0.50" fill="#3a3a3a"/><circle cx="559.4" cy="175.8" r="0.44" fill="#4e4e4e"/><circle cx="562.9" cy="187.3" r="0.54" fill="#3a3a3a"/><circle cx="595.3" cy="168.0" r="0.49" fill="#4e4e4e"/><circle cx="551.9" cy="195.7" r="0.60" fill="#5a5a5a"/><circle cx="608.3" cy="190.3" r="0.42" fill="#5a5a5a"/><circle cx="613.1" cy="177.6" r="0.44" fill="#5a5a5a"/><circle cx="577.2" cy="190.1" r="0.58" fill="#3a3a3a"/><circle cx="574.8" cy="204.8" r="0.46" fill="#666"/><circle cx="585.4" cy="215.9" r="0.41" fill="#444"/><circle cx="589.7" cy="211.8" r="0.39" fill="#444"/><circle cx="609.2" cy="182.3" r="0.44" fill="#3a3a3a"/><circle cx="595.6" cy="235.8" r="0.38" fill="#444"/><circle cx="606.3" cy="196.4" r="0.55" fill="#5a5a5a"/><circle cx="615.2" cy="203.6" r="0.38" fill="#3a3a3a"/><circle cx="606.9" cy="212.3" r="0.56" fill="#444"/><circle cx="571.2" cy="212.0" r="0.55" fill="#3a3a3a"/><circle cx="554.1" cy="195.6" r="0.48" fill="#3a3a3a"/><circle cx="602.6" cy="218.0" r="0.43" fill="#666"/><circle cx="574.2" cy="233.7" r="0.53" fill="#444"/><circle cx="606.2" cy="195.2" r="0.46" fill="#4e4e4e"/><circle cx="589.0" cy="212.5" r="0.50" fill="#444"/><circle cx="618.1" cy="185.4" r="0.37" fill="#4e4e4e"/><circle cx="606.5" cy="203.3" r="0.46" fill="#4e4e4e"/><circle cx="579.2" cy="201.5" r="0.43" fill="#666"/><circle cx="575.3" cy="219.7" r="0.42" fill="#444"/><circle cx="604.4" cy="207.0" r="0.59" fill="#5a5a5a"/><circle cx="588.2" cy="223.7" r="0.51" fill="#3a3a3a"/><circle cx="583.0" cy="167.0" r="0.48" fill="#5a5a5a"/><circle cx="611.5" cy="181.6" r="0.48" fill="#5a5a5a"/><circle cx="605.5" cy="220.5" r="0.56" fill="#444"/><circle cx="601.5" cy="223.2" r="0.45" fill="#5a5a5a"/><circle cx="562.6" cy="226.2" r="0.59" fill="#444"/><circle cx="617.5" cy="182.4" r="0.58" fill="#444"/><circle cx="596.7" cy="180.6" r="0.38" fill="#666"/><circle cx="577.6" cy="177.2" r="0.52" fill="#666"/><circle cx="586.6" cy="166.3" r="0.55" fill="#4e4e4e"/><circle cx="563.6" cy="197.0" r="0.47" fill="#666"/><circle cx="614.0" cy="201.4" r="0.41" fill="#4e4e4e"/><circle cx="611.2" cy="176.3" r="0.39" fill="#5a5a5a"/><circle cx="593.4" cy="180.6" r="0.51" fill="#666"/><circle cx="560.9" cy="184.2" r="0.44" fill="#444"/><circle cx="608.5" cy="188.8" r="0.39" fill="#5a5a5a"/><circle cx="582.1" cy="214.9" r="0.47" fill="#3a3a3a"/><circle cx="580.2" cy="164.7" r="0.37" fill="#666"/><circle cx="618.4" cy="194.0" r="0.38" fill="#4e4e4e"/><circle cx="563.7" cy="222.1" r="0.45" fill="#3a3a3a"/><circle cx="553.7" cy="214.0" r="0.54" fill="#5a5a5a"/><circle cx="601.2" cy="225.5" r="0.59" fill="#3a3a3a"/><circle cx="617.6" cy="188.8" r="0.54" fill="#5a5a5a"/><circle cx="619.1" cy="214.5" r="0.59" fill="#4e4e4e"/><circle cx="578.8" cy="214.4" r="0.50" fill="#4e4e4e"/><circle cx="567.3" cy="228.3" r="0.41" fill="#3a3a3a"/><circle cx="562.0" cy="182.5" r="0.49" fill="#444"/><circle cx="585.5" cy="234.2" r="0.50" fill="#666"/><circle cx="562.6" cy="224.2" r="0.60" fill="#4e4e4e"/><circle cx="606.6" cy="192.0" r="0.44" fill="#444"/><circle cx="599.4" cy="189.8" r="0.41" fill="#4e4e4e"/><circle cx="612.6" cy="214.7" r="0.51" fill="#5a5a5a"/></g>
<g filter="url(#blur1)"><circle cx="595.1" cy="209.3" r="3.4" fill="#8a8a8a" opacity="0.19"/><circle cx="594.1" cy="185.3" r="4.0" fill="#8a8a8a" opacity="0.28"/><circle cx="582.7" cy="209.4" r="4.2" fill="#8a8a8a" opacity="0.23"/><circle cx="611.9" cy="205.4" r="3.1" fill="#8a8a8a" opacity="0.28"/><circle cx="609.6" cy="193.4" r="3.1" fill="#8a8a8a" opacity="0.29"/><circle cx="553.7" cy="208.5" r="4.4" fill="#8a8a8a" opacity="0.24"/><circle cx="565.0" cy="193.2" r="4.7" fill="#8a8a8a" opacity="0.23"/><circle cx="589.0" cy="203.6" r="4.8" fill="#8a8a8a" opacity="0.22"/><circle cx="581.1" cy="205.9" r="4.4" fill="#8a8a8a" opacity="0.20"/><circle cx="596.8" cy="197.5" r="5.0" fill="#8a8a8a" opacity="0.27"/><circle cx="574.1" cy="189.9" r="3.1" fill="#8a8a8a" opacity="0.26"/><circle cx="577.7" cy="207.1" r="4.5" fill="#8a8a8a" opacity="0.24"/><circle cx="578.3" cy="220.1" r="3.4" fill="#8a8a8a" opacity="0.30"/><circle cx="557.9" cy="186.8" r="3.6" fill="#8a8a8a" opacity="0.19"/><circle cx="615.9" cy="196.4" r="3.5" fill="#8a8a8a" opacity="0.22"/><circle cx="610.1" cy="225.0" r="4.6" fill="#8a8a8a" opacity="0.24"/><circle cx="610.1" cy="188.6" r="4.2" fill="#8a8a8a" opacity="0.23"/><circle cx="576.0" cy="193.9" r="2.7" fill="#8a8a8a" opacity="0.21"/><circle cx="580.7" cy="231.1" r="3.2" fill="#8a8a8a" opacity="0.26"/><circle cx="599.5" cy="201.4" r="4.2" fill="#8a8a8a" opacity="0.29"/><circle cx="617.0" cy="205.7" r="2.7" fill="#8a8a8a" opacity="0.25"/><circle cx="605.6" cy="175.7" r="4.1" fill="#8a8a8a" opacity="0.26"/><circle cx="599.5" cy="201.8" r="3.4" fill="#8a8a8a" opacity="0.24"/><circle cx="619.9" cy="208.3" r="3.5" fill="#8a8a8a" opacity="0.24"/><circle cx="608.3" cy="189.0" r="2.8" fill="#8a8a8a" opacity="0.22"/><circle cx="590.0" cy="223.4" r="4.8" fill="#8a8a8a" opacity="0.27"/><circle cx="610.0" cy="223.9" r="2.7" fill="#8a8a8a" opacity="0.19"/><circle cx="587.6" cy="186.4" r="3.0" fill="#8a8a8a" opacity="0.26"/><circle cx="576.4" cy="210.9" r="3.7" fill="#8a8a8a" opacity="0.26"/><circle cx="577.1" cy="177.1" r="3.1" fill="#8a8a8a" opacity="0.24"/><circle cx="578.5" cy="168.9" r="4.2" fill="#8a8a8a" opacity="0.29"/><circle cx="578.0" cy="207.7" r="3.3" fill="#8a8a8a" opacity="0.26"/><circle cx="584.5" cy="181.1" r="4.1" fill="#8a8a8a" opacity="0.23"/><circle cx="569.8" cy="197.3" r="2.8" fill="#8a8a8a" opacity="0.20"/><circle cx="593.3" cy="222.1" r="4.9" fill="#8a8a8a" opacity="0.22"/><circle cx="611.7" cy="180.9" r="4.4" fill="#8a8a8a" opacity="0.29"/><circle cx="579.5" cy="190.2" r="3.6" fill="#8a8a8a" opacity="0.24"/><circle cx="576.3" cy="193.9" r="3.5" fill="#8a8a8a" opacity="0.28"/><circle cx="588.7" cy="195.8" r="4.2" fill="#8a8a8a" opacity="0.29"/><circle cx="564.2" cy="182.8" r="2.7" fill="#8a8a8a" opacity="0.24"/><circle cx="585.9" cy="191.3" r="3.5" fill="#8a8a8a" opacity="0.28"/><circle cx="585.9" cy="207.3" r="4.7" fill="#8a8a8a" opacity="0.20"/><circle cx="585.0" cy="180.0" r="3.7" fill="#8a8a8a" opacity="0.28"/><circle cx="613.6" cy="180.9" r="3.3" fill="#8a8a8a" opacity="0.25"/></g>
<g filter="url(#blurC)"><circle cx="568.0" cy="203.3" r="1.2" fill="#ececec" opacity="0.87"/><circle cx="595.1" cy="209.3" r="1.4" fill="#ececec" opacity="0.53"/><circle cx="585.2" cy="224.9" r="1.9" fill="#ececec" opacity="0.82"/><circle cx="594.1" cy="185.3" r="1.2" fill="#ececec" opacity="0.73"/><circle cx="579.6" cy="222.3" r="0.8" fill="#ececec" opacity="0.64"/><circle cx="582.7" cy="209.4" r="0.8" fill="#ececec" opacity="0.57"/><circle cx="587.9" cy="191.6" r="0.9" fill="#ececec" opacity="0.84"/><circle cx="592.5" cy="215.8" r="1.6" fill="#ececec" opacity="0.75"/><circle cx="611.9" cy="205.4" r="1.4" fill="#ececec" opacity="0.50"/><circle cx="609.6" cy="193.4" r="1.9" fill="#ececec" opacity="0.67"/><circle cx="553.7" cy="208.5" r="1.9" fill="#ececec" opacity="0.52"/><circle cx="556.1" cy="207.4" r="1.2" fill="#ececec" opacity="0.84"/><circle cx="565.0" cy="193.2" r="1.2" fill="#ececec" opacity="0.76"/><circle cx="616.8" cy="191.0" r="0.9" fill="#ececec" opacity="0.81"/><circle cx="588.9" cy="210.6" r="1.2" fill="#ececec" opacity="0.80"/><circle cx="587.9" cy="194.9" r="1.3" fill="#ececec" opacity="0.66"/><circle cx="589.0" cy="203.6" r="0.9" fill="#ececec" opacity="0.73"/><circle cx="581.1" cy="205.9" r="1.4" fill="#ececec" opacity="0.70"/><circle cx="596.0" cy="209.8" r="0.9" fill="#ececec" opacity="0.62"/><circle cx="596.8" cy="197.5" r="0.9" fill="#ececec" opacity="0.85"/><circle cx="569.0" cy="196.8" r="1.7" fill="#ececec" opacity="0.72"/><circle cx="574.1" cy="189.9" r="1.2" fill="#ececec" opacity="0.60"/><circle cx="577.7" cy="207.1" r="1.1" fill="#ececec" opacity="0.79"/><circle cx="578.3" cy="220.1" r="1.3" fill="#ececec" opacity="0.88"/><circle cx="592.5" cy="217.4" r="1.6" fill="#ececec" opacity="0.62"/><circle cx="566.9" cy="222.5" r="1.6" fill="#ececec" opacity="0.88"/><circle cx="557.9" cy="186.8" r="1.0" fill="#ececec" opacity="0.77"/><circle cx="615.9" cy="196.4" r="1.6" fill="#ececec" opacity="0.73"/><circle cx="559.3" cy="202.2" r="1.1" fill="#ececec" opacity="0.70"/><circle cx="610.1" cy="225.0" r="1.3" fill="#ececec" opacity="0.80"/><circle cx="610.1" cy="188.6" r="1.3" fill="#ececec" opacity="0.82"/><circle cx="572.0" cy="221.7" r="1.7" fill="#ececec" opacity="0.71"/><circle cx="576.0" cy="193.9" r="1.2" fill="#ececec" opacity="0.66"/><circle cx="580.7" cy="231.1" r="1.3" fill="#ececec" opacity="0.88"/><circle cx="599.5" cy="201.4" r="0.9" fill="#ececec" opacity="0.83"/><circle cx="575.6" cy="179.8" r="1.5" fill="#ececec" opacity="0.63"/><circle cx="617.0" cy="205.7" r="0.9" fill="#ececec" opacity="0.87"/><circle cx="605.6" cy="175.7" r="1.3" fill="#ececec" opacity="0.67"/><circle cx="599.5" cy="201.8" r="1.6" fill="#ececec" opacity="0.62"/><circle cx="619.9" cy="208.3" r="2.0" fill="#ececec" opacity="0.68"/><circle cx="608.3" cy="189.0" r="1.5" fill="#ececec" opacity="0.74"/><circle cx="590.0" cy="223.4" r="1.4" fill="#ececec" opacity="0.85"/><circle cx="610.0" cy="223.9" r="1.5" fill="#ececec" opacity="0.79"/><circle cx="596.9" cy="226.8" r="1.1" fill="#ececec" opacity="0.68"/><circle cx="570.5" cy="182.9" r="0.8" fill="#ececec" opacity="0.85"/><circle cx="581.7" cy="198.0" r="2.0" fill="#ececec" opacity="0.77"/><circle cx="587.6" cy="186.4" r="1.2" fill="#ececec" opacity="0.55"/><circle cx="576.4" cy="210.9" r="1.9" fill="#ececec" opacity="0.79"/><circle cx="577.1" cy="177.1" r="0.9" fill="#ececec" opacity="0.66"/><circle cx="578.5" cy="168.9" r="1.3" fill="#ececec" opacity="0.82"/><circle cx="578.0" cy="207.7" r="1.8" fill="#ececec" opacity="0.67"/><circle cx="582.3" cy="190.6" r="0.8" fill="#ececec" opacity="0.80"/><circle cx="602.4" cy="194.1" r="1.3" fill="#ececec" opacity="0.85"/><circle cx="584.5" cy="181.1" r="1.3" fill="#ececec" opacity="0.60"/><circle cx="601.8" cy="168.3" r="1.8" fill="#ececec" opacity="0.77"/><circle cx="569.8" cy="197.3" r="1.6" fill="#ececec" opacity="0.55"/><circle cx="593.3" cy="222.1" r="1.5" fill="#ececec" opacity="0.86"/><circle cx="611.7" cy="180.9" r="1.9" fill="#ececec" opacity="0.87"/><circle cx="579.5" cy="190.2" r="1.7" fill="#ececec" opacity="0.64"/><circle cx="576.3" cy="193.9" r="0.8" fill="#ececec" opacity="0.65"/><circle cx="587.4" cy="235.0" r="0.9" fill="#ececec" opacity="0.84"/><circle cx="606.4" cy="212.9" r="1.1" fill="#ececec" opacity="0.63"/><circle cx="588.7" cy="195.8" r="0.8" fill="#ececec" opacity="0.65"/><circle cx="564.2" cy="182.8" r="1.7" fill="#ececec" opacity="0.86"/><circle cx="593.7" cy="186.3" r="1.9" fill="#ececec" opacity="0.88"/><circle cx="572.3" cy="215.2" r="0.8" fill="#ececec" opacity="0.60"/><circle cx="613.6" cy="206.3" r="1.2" fill="#ececec" opacity="0.69"/><circle cx="585.9" cy="191.3" r="1.4" fill="#ececec" opacity="0.66"/><circle cx="585.9" cy="207.3" r="1.3" fill="#ececec" opacity="0.51"/><circle cx="585.0" cy="180.0" r="1.3" fill="#ececec" opacity="0.89"/><circle cx="613.6" cy="180.9" r="1.5" fill="#ececec" opacity="0.77"/><circle cx="569.3" cy="227.0" r="1.1" fill="#ececec" opacity="0.67"/></g>
<g filter="url(#blur0)"><circle cx="568.6" cy="203.7" r="0.40" fill="#fff"/><circle cx="570.7" cy="203.6" r="0.48" fill="#ddd"/><circle cx="566.2" cy="202.7" r="0.44" fill="#fff"/><circle cx="564.5" cy="203.8" r="0.45" fill="#eee"/><circle cx="569.8" cy="200.4" r="0.66" fill="#eee"/><circle cx="568.8" cy="201.7" r="0.66" fill="#ddd"/><circle cx="569.0" cy="202.7" r="0.44" fill="#fff"/><circle cx="594.6" cy="209.9" r="0.49" fill="#eee"/><circle cx="594.4" cy="211.2" r="0.50" fill="#ddd"/><circle cx="594.2" cy="210.0" r="0.66" fill="#fff"/><circle cx="593.8" cy="208.8" r="0.37" fill="#eee"/><circle cx="584.9" cy="221.7" r="0.34" fill="#bbb"/><circle cx="586.2" cy="224.8" r="0.55" fill="#ddd"/><circle cx="583.4" cy="228.6" r="0.33" fill="#eee"/><circle cx="586.3" cy="223.4" r="0.40" fill="#fff"/><circle cx="584.9" cy="226.4" r="0.48" fill="#ddd"/><circle cx="586.5" cy="224.0" r="0.43" fill="#ddd"/><circle cx="583.1" cy="223.8" r="0.64" fill="#fff"/><circle cx="584.9" cy="223.8" r="0.53" fill="#ddd"/><circle cx="594.4" cy="187.2" r="0.58" fill="#eee"/><circle cx="597.4" cy="184.7" r="0.69" fill="#ccc"/><circle cx="591.4" cy="185.1" r="0.57" fill="#ddd"/><circle cx="594.7" cy="185.5" r="0.41" fill="#bbb"/><circle cx="595.4" cy="184.5" r="0.37" fill="#ddd"/><circle cx="593.3" cy="185.6" r="0.43" fill="#eee"/><circle cx="577.8" cy="221.0" r="0.65" fill="#ddd"/><circle cx="577.1" cy="223.6" r="0.39" fill="#ccc"/><circle cx="580.5" cy="222.1" r="0.70" fill="#bbb"/><circle cx="580.4" cy="222.9" r="0.50" fill="#fff"/><circle cx="579.5" cy="223.8" r="0.41" fill="#eee"/><circle cx="583.0" cy="209.5" r="0.34" fill="#ccc"/><circle cx="581.7" cy="209.2" r="0.36" fill="#bbb"/><circle cx="581.3" cy="209.3" r="0.55" fill="#ddd"/><circle cx="582.5" cy="208.8" r="0.30" fill="#eee"/><circle cx="583.8" cy="207.4" r="0.56" fill="#ddd"/><circle cx="582.5" cy="213.3" r="0.31" fill="#ddd"/><circle cx="582.6" cy="208.3" r="0.54" fill="#eee"/><circle cx="582.9" cy="209.5" r="0.68" fill="#ccc"/><circle cx="588.1" cy="190.2" r="0.61" fill="#ddd"/><circle cx="586.5" cy="189.9" r="0.39" fill="#fff"/><circle cx="588.1" cy="194.5" r="0.54" fill="#bbb"/><circle cx="585.9" cy="190.0" r="0.60" fill="#fff"/><circle cx="585.2" cy="191.6" r="0.68" fill="#eee"/><circle cx="588.0" cy="189.9" r="0.40" fill="#fff"/><circle cx="586.4" cy="191.2" r="0.34" fill="#bbb"/><circle cx="591.6" cy="215.5" r="0.34" fill="#bbb"/><circle cx="591.1" cy="216.3" r="0.33" fill="#ccc"/><circle cx="592.4" cy="216.4" r="0.41" fill="#ccc"/><circle cx="593.4" cy="221.2" r="0.36" fill="#ddd"/><circle cx="592.6" cy="217.0" r="0.33" fill="#ddd"/><circle cx="594.8" cy="216.0" r="0.47" fill="#bbb"/><circle cx="590.7" cy="213.0" r="0.58" fill="#ccc"/><circle cx="611.7" cy="207.4" r="0.32" fill="#bbb"/><circle cx="609.8" cy="205.3" r="0.53" fill="#eee"/><circle cx="612.8" cy="206.7" r="0.38" fill="#fff"/><circle cx="611.5" cy="207.6" r="0.40" fill="#ccc"/><circle cx="614.6" cy="204.6" r="0.50" fill="#fff"/><circle cx="611.3" cy="205.0" r="0.56" fill="#bbb"/><circle cx="610.5" cy="193.0" r="0.44" fill="#fff"/><circle cx="612.5" cy="195.7" r="0.61" fill="#bbb"/><circle cx="606.4" cy="189.6" r="0.38" fill="#bbb"/><circle cx="606.3" cy="194.2" r="0.42" fill="#ccc"/><circle cx="610.2" cy="195.6" r="0.42" fill="#bbb"/><circle cx="607.6" cy="191.0" r="0.57" fill="#ddd"/><circle cx="551.8" cy="206.2" r="0.62" fill="#ddd"/><circle cx="556.4" cy="211.3" r="0.59" fill="#ddd"/><circle cx="552.2" cy="209.3" r="0.34" fill="#ccc"/><circle cx="555.0" cy="207.1" r="0.48" fill="#ccc"/><circle cx="555.0" cy="206.7" r="0.42" fill="#ddd"/><circle cx="553.2" cy="208.6" r="0.36" fill="#ddd"/><circle cx="554.2" cy="208.2" r="0.64" fill="#fff"/><circle cx="554.2" cy="208.0" r="0.30" fill="#ddd"/><circle cx="557.9" cy="204.3" r="0.42" fill="#eee"/><circle cx="555.0" cy="206.3" r="0.45" fill="#bbb"/><circle cx="554.8" cy="206.4" r="0.61" fill="#ddd"/><circle cx="557.0" cy="210.3" r="0.64" fill="#eee"/><circle cx="569.2" cy="191.2" r="0.70" fill="#eee"/><circle cx="567.6" cy="194.4" r="0.42" fill="#ccc"/><circle cx="565.5" cy="191.1" r="0.66" fill="#ccc"/><circle cx="563.5" cy="194.0" r="0.42" fill="#ccc"/><circle cx="565.8" cy="193.4" r="0.33" fill="#ddd"/><circle cx="565.1" cy="194.9" r="0.60" fill="#fff"/><circle cx="566.2" cy="194.5" r="0.63" fill="#fff"/><circle cx="614.7" cy="191.0" r="0.43" fill="#ccc"/><circle cx="616.0" cy="190.4" r="0.41" fill="#bbb"/><circle cx="615.5" cy="190.2" r="0.57" fill="#eee"/><circle cx="613.4" cy="189.6" r="0.65" fill="#bbb"/><circle cx="618.2" cy="189.5" r="0.33" fill="#bbb"/><circle cx="619.1" cy="189.9" r="0.63" fill="#fff"/><circle cx="620.6" cy="191.0" r="0.65" fill="#ddd"/><circle cx="615.8" cy="193.2" r="0.42" fill="#eee"/><circle cx="586.2" cy="208.5" r="0.48" fill="#bbb"/><circle cx="589.8" cy="212.0" r="0.40" fill="#bbb"/><circle cx="589.2" cy="210.0" r="0.56" fill="#bbb"/><circle cx="589.4" cy="209.2" r="0.51" fill="#eee"/><circle cx="589.6" cy="210.8" r="0.65" fill="#bbb"/><circle cx="586.3" cy="194.2" r="0.35" fill="#bbb"/><circle cx="581.3" cy="190.2" r="0.52" fill="#eee"/><circle cx="586.1" cy="195.0" r="0.44" fill="#bbb"/><circle cx="588.1" cy="197.8" r="0.46" fill="#bbb"/><circle cx="587.8" cy="191.6" r="0.38" fill="#ccc"/><circle cx="588.3" cy="196.9" r="0.45" fill="#fff"/><circle cx="585.6" cy="197.4" r="0.44" fill="#fff"/><circle cx="589.6" cy="196.3" r="0.38" fill="#ccc"/><circle cx="588.2" cy="205.1" r="0.64" fill="#ccc"/><circle cx="587.0" cy="204.4" r="0.46" fill="#bbb"/><circle cx="590.7" cy="207.7" r="0.46" fill="#bbb"/><circle cx="587.7" cy="199.8" r="0.33" fill="#fff"/><circle cx="585.3" cy="202.5" r="0.35" fill="#fff"/><circle cx="590.1" cy="201.8" r="0.61" fill="#ddd"/><circle cx="588.8" cy="204.8" r="0.69" fill="#fff"/><circle cx="578.2" cy="206.3" r="0.63" fill="#bbb"/><circle cx="580.3" cy="209.2" r="0.31" fill="#bbb"/><circle cx="582.1" cy="205.0" r="0.45" fill="#ccc"/><circle cx="579.8" cy="204.5" r="0.36" fill="#bbb"/><circle cx="578.3" cy="205.5" r="0.66" fill="#eee"/><circle cx="580.9" cy="208.0" r="0.63" fill="#fff"/><circle cx="579.7" cy="204.8" r="0.39" fill="#ddd"/><circle cx="596.2" cy="209.3" r="0.58" fill="#eee"/><circle cx="598.1" cy="207.3" r="0.43" fill="#bbb"/><circle cx="592.5" cy="208.0" r="0.41" fill="#fff"/><circle cx="597.5" cy="209.1" r="0.69" fill="#ccc"/><circle cx="596.6" cy="209.2" r="0.41" fill="#ccc"/><circle cx="596.1" cy="206.3" r="0.36" fill="#fff"/><circle cx="595.4" cy="196.4" r="0.31" fill="#fff"/><circle cx="595.5" cy="198.0" r="0.36" fill="#eee"/><circle cx="598.4" cy="196.9" r="0.57" fill="#ccc"/><circle cx="594.0" cy="198.3" r="0.65" fill="#bbb"/><circle cx="595.6" cy="198.9" r="0.32" fill="#ccc"/><circle cx="592.6" cy="198.7" r="0.45" fill="#bbb"/><circle cx="597.8" cy="198.5" r="0.37" fill="#eee"/><circle cx="569.9" cy="196.5" r="0.40" fill="#ccc"/><circle cx="566.5" cy="196.5" r="0.35" fill="#ddd"/><circle cx="568.3" cy="195.9" r="0.55" fill="#ddd"/><circle cx="569.2" cy="196.4" r="0.49" fill="#ddd"/><circle cx="570.0" cy="196.1" r="0.31" fill="#bbb"/><circle cx="574.7" cy="191.8" r="0.70" fill="#ccc"/><circle cx="573.6" cy="191.5" r="0.69" fill="#ccc"/><circle cx="574.4" cy="191.6" r="0.33" fill="#eee"/><circle cx="574.6" cy="190.3" r="0.54" fill="#bbb"/><circle cx="575.2" cy="189.4" r="0.70" fill="#eee"/><circle cx="572.6" cy="186.3" r="0.37" fill="#bbb"/><circle cx="575.4" cy="190.6" r="0.48" fill="#eee"/><circle cx="579.0" cy="188.0" r="0.66" fill="#eee"/><circle cx="576.5" cy="208.7" r="0.64" fill="#bbb"/><circle cx="576.4" cy="205.9" r="0.52" fill="#fff"/><circle cx="578.6" cy="205.7" r="0.46" fill="#fff"/><circle cx="578.0" cy="206.4" r="0.55" fill="#eee"/><circle cx="578.7" cy="208.1" r="0.68" fill="#bbb"/><circle cx="578.3" cy="208.3" r="0.34" fill="#ccc"/><circle cx="578.0" cy="206.7" r="0.60" fill="#eee"/><circle cx="576.3" cy="218.8" r="0.54" fill="#bbb"/><circle cx="579.6" cy="220.5" r="0.48" fill="#ccc"/><circle cx="579.6" cy="219.2" r="0.37" fill="#bbb"/><circle cx="579.0" cy="221.8" r="0.57" fill="#ccc"/><circle cx="580.0" cy="221.6" r="0.42" fill="#ccc"/><circle cx="579.9" cy="222.7" r="0.39" fill="#eee"/><circle cx="593.6" cy="216.9" r="0.64" fill="#bbb"/><circle cx="592.7" cy="218.8" r="0.42" fill="#ddd"/><circle cx="593.7" cy="217.6" r="0.63" fill="#bbb"/><circle cx="590.3" cy="217.2" r="0.45" fill="#ccc"/><circle cx="591.3" cy="214.7" r="0.46" fill="#ccc"/><circle cx="593.6" cy="220.2" r="0.44" fill="#eee"/><circle cx="566.5" cy="223.8" r="0.69" fill="#ccc"/><circle cx="568.9" cy="224.3" r="0.36" fill="#eee"/><circle cx="566.0" cy="221.7" r="0.59" fill="#eee"/><circle cx="565.9" cy="221.3" r="0.38" fill="#bbb"/><circle cx="568.6" cy="222.7" r="0.64" fill="#fff"/><circle cx="568.9" cy="220.9" r="0.44" fill="#ddd"/><circle cx="566.8" cy="218.1" r="0.40" fill="#bbb"/><circle cx="565.7" cy="220.2" r="0.35" fill="#ddd"/><circle cx="556.5" cy="188.7" r="0.66" fill="#ddd"/><circle cx="558.0" cy="184.9" r="0.57" fill="#ccc"/><circle cx="557.3" cy="187.7" r="0.49" fill="#ccc"/><circle cx="560.4" cy="184.0" r="0.52" fill="#ccc"/><circle cx="560.1" cy="187.9" r="0.59" fill="#ccc"/><circle cx="557.3" cy="184.6" r="0.37" fill="#fff"/><circle cx="616.1" cy="197.9" r="0.42" fill="#eee"/><circle cx="616.8" cy="198.6" r="0.62" fill="#ddd"/><circle cx="613.9" cy="198.8" r="0.33" fill="#ddd"/><circle cx="617.5" cy="199.2" r="0.59" fill="#ddd"/><circle cx="616.6" cy="195.1" r="0.49" fill="#fff"/><circle cx="560.3" cy="200.0" r="0.59" fill="#ddd"/><circle cx="560.2" cy="202.9" r="0.60" fill="#fff"/><circle cx="560.4" cy="201.9" r="0.55" fill="#ccc"/><circle cx="562.4" cy="200.9" r="0.35" fill="#ddd"/><circle cx="561.4" cy="204.1" r="0.44" fill="#bbb"/><circle cx="558.2" cy="200.7" r="0.65" fill="#ddd"/><circle cx="609.6" cy="225.0" r="0.55" fill="#bbb"/><circle cx="611.8" cy="223.6" r="0.52" fill="#ccc"/><circle cx="611.0" cy="221.6" r="0.39" fill="#bbb"/><circle cx="607.8" cy="224.5" r="0.40" fill="#ddd"/><circle cx="609.6" cy="227.6" r="0.39" fill="#fff"/><circle cx="610.1" cy="227.2" r="0.52" fill="#fff"/><circle cx="615.0" cy="221.5" r="0.53" fill="#ddd"/><circle cx="607.2" cy="189.3" r="0.48" fill="#fff"/><circle cx="609.9" cy="187.3" r="0.52" fill="#eee"/><circle cx="611.7" cy="188.7" r="0.43" fill="#fff"/><circle cx="610.9" cy="189.1" r="0.65" fill="#ddd"/><circle cx="608.4" cy="190.2" r="0.35" fill="#eee"/><circle cx="606.0" cy="186.9" r="0.68" fill="#fff"/><circle cx="612.1" cy="190.2" r="0.52" fill="#eee"/><circle cx="569.1" cy="221.8" r="0.35" fill="#ccc"/><circle cx="574.7" cy="223.7" r="0.47" fill="#ddd"/><circle cx="572.4" cy="221.8" r="0.45" fill="#eee"/><circle cx="575.8" cy="197.7" r="0.60" fill="#bbb"/><circle cx="579.6" cy="193.4" r="0.66" fill="#ccc"/><circle cx="573.1" cy="191.9" r="0.56" fill="#eee"/><circle cx="575.6" cy="194.2" r="0.58" fill="#eee"/><circle cx="575.5" cy="193.2" r="0.65" fill="#bbb"/><circle cx="576.6" cy="195.1" r="0.57" fill="#eee"/><circle cx="578.1" cy="193.7" r="0.43" fill="#bbb"/><circle cx="575.2" cy="192.1" r="0.63" fill="#bbb"/><circle cx="578.3" cy="231.5" r="0.70" fill="#bbb"/><circle cx="582.9" cy="230.3" r="0.42" fill="#ccc"/><circle cx="579.9" cy="229.6" r="0.46" fill="#eee"/><circle cx="581.7" cy="232.9" r="0.53" fill="#ddd"/><circle cx="579.1" cy="231.8" r="0.30" fill="#ccc"/><circle cx="582.3" cy="231.8" r="0.45" fill="#bbb"/><circle cx="598.4" cy="201.2" r="0.39" fill="#fff"/><circle cx="600.9" cy="201.2" r="0.64" fill="#eee"/><circle cx="601.1" cy="199.3" r="0.57" fill="#eee"/><circle cx="578.8" cy="177.8" r="0.40" fill="#bbb"/><circle cx="575.7" cy="180.9" r="0.64" fill="#bbb"/><circle cx="577.8" cy="179.6" r="0.68" fill="#fff"/><circle cx="575.5" cy="179.1" r="0.40" fill="#ddd"/><circle cx="575.7" cy="177.0" r="0.40" fill="#eee"/><circle cx="573.6" cy="179.7" r="0.46" fill="#ddd"/><circle cx="575.1" cy="179.1" r="0.69" fill="#eee"/><circle cx="617.4" cy="206.5" r="0.57" fill="#eee"/><circle cx="616.1" cy="205.7" r="0.49" fill="#ccc"/><circle cx="615.5" cy="207.2" r="0.33" fill="#ccc"/><circle cx="602.4" cy="177.5" r="0.65" fill="#ccc"/><circle cx="605.6" cy="174.6" r="0.46" fill="#ccc"/><circle cx="607.7" cy="176.9" r="0.38" fill="#ddd"/><circle cx="606.3" cy="174.3" r="0.47" fill="#ddd"/><circle cx="599.2" cy="200.7" r="0.48" fill="#eee"/><circle cx="600.8" cy="203.0" r="0.65" fill="#ddd"/><circle cx="602.3" cy="200.3" r="0.48" fill="#fff"/><circle cx="619.4" cy="209.8" r="0.41" fill="#bbb"/><circle cx="620.4" cy="205.6" r="0.47" fill="#ddd"/><circle cx="619.1" cy="208.6" r="0.39" fill="#ddd"/><circle cx="619.8" cy="211.5" r="0.46" fill="#eee"/><circle cx="622.9" cy="208.8" r="0.62" fill="#ddd"/><circle cx="608.4" cy="185.1" r="0.66" fill="#ddd"/><circle cx="608.2" cy="189.4" r="0.44" fill="#fff"/><circle cx="608.5" cy="189.4" r="0.37" fill="#eee"/><circle cx="607.6" cy="188.1" r="0.45" fill="#bbb"/><circle cx="607.6" cy="186.9" r="0.43" fill="#fff"/><circle cx="607.7" cy="188.4" r="0.43" fill="#fff"/><circle cx="607.6" cy="186.5" r="0.48" fill="#ccc"/><circle cx="610.1" cy="186.8" r="0.49" fill="#ddd"/><circle cx="591.1" cy="221.7" r="0.67" fill="#bbb"/><circle cx="590.5" cy="225.2" r="0.33" fill="#bbb"/><circle cx="591.9" cy="220.6" r="0.65" fill="#ccc"/><circle cx="589.0" cy="223.7" r="0.52" fill="#bbb"/><circle cx="608.7" cy="225.4" r="0.44" fill="#ddd"/><circle cx="609.0" cy="223.2" r="0.39" fill="#eee"/><circle cx="609.9" cy="223.8" r="0.69" fill="#ddd"/><circle cx="608.9" cy="223.9" r="0.40" fill="#fff"/><circle cx="610.8" cy="224.1" r="0.50" fill="#ddd"/><circle cx="611.7" cy="223.8" r="0.42" fill="#eee"/><circle cx="596.2" cy="227.5" r="0.51" fill="#eee"/><circle cx="596.8" cy="225.4" r="0.66" fill="#fff"/><circle cx="597.5" cy="231.3" r="0.31" fill="#ddd"/><circle cx="596.0" cy="225.0" r="0.67" fill="#ddd"/><circle cx="595.4" cy="228.0" r="0.37" fill="#bbb"/><circle cx="594.9" cy="227.4" r="0.44" fill="#ccc"/><circle cx="571.3" cy="185.0" r="0.66" fill="#fff"/><circle cx="569.7" cy="183.7" r="0.67" fill="#ccc"/><circle cx="570.5" cy="183.2" r="0.40" fill="#bbb"/><circle cx="581.8" cy="199.8" r="0.30" fill="#fff"/><circle cx="585.9" cy="198.5" r="0.37" fill="#eee"/><circle cx="581.8" cy="195.8" r="0.55" fill="#eee"/><circle cx="581.3" cy="196.1" r="0.63" fill="#ccc"/><circle cx="577.1" cy="196.4" r="0.35" fill="#fff"/><circle cx="583.0" cy="197.3" r="0.62" fill="#fff"/><circle cx="581.1" cy="198.0" r="0.61" fill="#bbb"/><circle cx="587.2" cy="186.9" r="0.65" fill="#fff"/><circle cx="587.9" cy="186.0" r="0.52" fill="#ccc"/><circle cx="590.6" cy="190.6" r="0.47" fill="#fff"/><circle cx="585.9" cy="186.4" r="0.49" fill="#bbb"/><circle cx="573.2" cy="210.4" r="0.43" fill="#fff"/><circle cx="579.8" cy="211.0" r="0.58" fill="#fff"/><circle cx="579.1" cy="213.8" r="0.42" fill="#ddd"/><circle cx="575.8" cy="209.4" r="0.43" fill="#ddd"/><circle cx="574.0" cy="211.3" r="0.68" fill="#eee"/><circle cx="577.9" cy="213.2" r="0.57" fill="#fff"/><circle cx="577.0" cy="213.4" r="0.58" fill="#fff"/><circle cx="577.4" cy="178.4" r="0.58" fill="#ddd"/><circle cx="577.8" cy="177.8" r="0.44" fill="#eee"/><circle cx="576.2" cy="175.6" r="0.66" fill="#ccc"/><circle cx="574.3" cy="173.2" r="0.69" fill="#ddd"/><circle cx="578.5" cy="171.9" r="0.63" fill="#ddd"/><circle cx="578.6" cy="167.9" r="0.68" fill="#fff"/><circle cx="577.9" cy="168.3" r="0.65" fill="#fff"/><circle cx="576.1" cy="171.1" r="0.70" fill="#ccc"/><circle cx="581.0" cy="166.6" r="0.32" fill="#fff"/><circle cx="579.0" cy="169.0" r="0.63" fill="#ddd"/><circle cx="577.4" cy="208.0" r="0.50" fill="#ddd"/><circle cx="577.4" cy="205.5" r="0.52" fill="#ccc"/><circle cx="575.0" cy="206.8" r="0.42" fill="#bbb"/><circle cx="581.6" cy="190.4" r="0.37" fill="#ccc"/><circle cx="580.8" cy="192.4" r="0.42" fill="#ddd"/><circle cx="582.4" cy="189.5" r="0.47" fill="#bbb"/><circle cx="603.9" cy="195.6" r="0.43" fill="#eee"/><circle cx="600.2" cy="193.1" r="0.44" fill="#fff"/><circle cx="602.8" cy="192.9" r="0.47" fill="#ddd"/><circle cx="601.4" cy="194.4" r="0.50" fill="#ddd"/><circle cx="604.4" cy="196.2" r="0.62" fill="#fff"/><circle cx="603.0" cy="194.1" r="0.35" fill="#ccc"/><circle cx="602.4" cy="194.1" r="0.43" fill="#fff"/><circle cx="603.8" cy="194.6" r="0.47" fill="#ccc"/><circle cx="585.2" cy="181.6" r="0.69" fill="#eee"/><circle cx="584.2" cy="179.7" r="0.42" fill="#ccc"/><circle cx="585.3" cy="182.2" r="0.32" fill="#eee"/><circle cx="584.7" cy="181.0" r="0.40" fill="#eee"/><circle cx="583.2" cy="182.1" r="0.63" fill="#ddd"/><circle cx="585.3" cy="180.8" r="0.37" fill="#ddd"/><circle cx="581.4" cy="181.5" r="0.58" fill="#ccc"/><circle cx="603.3" cy="168.9" r="0.52" fill="#ddd"/><circle cx="604.9" cy="167.4" r="0.63" fill="#ccc"/><circle cx="601.6" cy="167.7" r="0.46" fill="#fff"/><circle cx="601.9" cy="166.6" r="0.41" fill="#ddd"/><circle cx="600.0" cy="169.3" r="0.40" fill="#ddd"/><circle cx="601.9" cy="168.1" r="0.62" fill="#ddd"/><circle cx="599.4" cy="167.2" r="0.68" fill="#bbb"/><circle cx="570.6" cy="199.8" r="0.62" fill="#ccc"/><circle cx="569.2" cy="197.3" r="0.65" fill="#fff"/><circle cx="569.2" cy="193.4" r="0.45" fill="#ddd"/><circle cx="569.2" cy="195.6" r="0.54" fill="#bbb"/><circle cx="568.4" cy="198.2" r="0.34" fill="#eee"/><circle cx="594.5" cy="224.9" r="0.39" fill="#bbb"/><circle cx="595.5" cy="224.7" r="0.50" fill="#eee"/><circle cx="594.3" cy="220.3" r="0.53" fill="#ccc"/><circle cx="590.6" cy="222.0" r="0.49" fill="#eee"/><circle cx="595.4" cy="224.9" r="0.41" fill="#ccc"/><circle cx="592.7" cy="223.4" r="0.60" fill="#fff"/><circle cx="611.6" cy="181.8" r="0.43" fill="#eee"/><circle cx="611.3" cy="182.6" r="0.39" fill="#ccc"/><circle cx="612.2" cy="182.3" r="0.36" fill="#fff"/><circle cx="609.9" cy="179.9" r="0.70" fill="#fff"/><circle cx="612.2" cy="179.2" r="0.56" fill="#ccc"/><circle cx="580.3" cy="191.2" r="0.44" fill="#bbb"/><circle cx="580.0" cy="188.6" r="0.57" fill="#eee"/><circle cx="578.4" cy="193.0" r="0.36" fill="#eee"/><circle cx="582.5" cy="191.1" r="0.64" fill="#ddd"/><circle cx="578.9" cy="191.9" r="0.39" fill="#eee"/><circle cx="576.4" cy="193.2" r="0.43" fill="#ddd"/><circle cx="573.1" cy="195.6" r="0.34" fill="#eee"/><circle cx="578.6" cy="194.5" r="0.66" fill="#ddd"/><circle cx="575.7" cy="195.8" r="0.58" fill="#ddd"/><circle cx="586.2" cy="234.6" r="0.69" fill="#ccc"/><circle cx="589.0" cy="233.1" r="0.39" fill="#ccc"/><circle cx="585.8" cy="233.3" r="0.55" fill="#bbb"/><circle cx="590.9" cy="235.3" r="0.52" fill="#bbb"/><circle cx="588.2" cy="230.8" r="0.41" fill="#bbb"/><circle cx="605.0" cy="214.4" r="0.38" fill="#ddd"/><circle cx="605.8" cy="213.5" r="0.61" fill="#bbb"/><circle cx="606.4" cy="213.5" r="0.68" fill="#ddd"/><circle cx="587.4" cy="196.2" r="0.31" fill="#ddd"/><circle cx="586.6" cy="194.8" r="0.39" fill="#fff"/><circle cx="590.2" cy="199.7" r="0.45" fill="#fff"/><circle cx="587.9" cy="195.6" r="0.54" fill="#fff"/><circle cx="588.6" cy="197.0" r="0.64" fill="#ccc"/><circle cx="589.6" cy="196.0" r="0.42" fill="#ddd"/><circle cx="590.5" cy="198.5" r="0.61" fill="#ccc"/><circle cx="590.9" cy="197.2" r="0.60" fill="#bbb"/><circle cx="564.8" cy="184.7" r="0.62" fill="#ccc"/><circle cx="563.8" cy="181.0" r="0.36" fill="#fff"/><circle cx="563.5" cy="181.0" r="0.36" fill="#ccc"/><circle cx="563.7" cy="183.4" r="0.46" fill="#bbb"/><circle cx="593.5" cy="186.8" r="0.55" fill="#bbb"/><circle cx="593.4" cy="185.3" r="0.59" fill="#fff"/><circle cx="593.6" cy="188.7" r="0.65" fill="#ddd"/><circle cx="592.2" cy="185.0" r="0.47" fill="#bbb"/><circle cx="571.1" cy="218.4" r="0.66" fill="#eee"/><circle cx="573.9" cy="214.1" r="0.56" fill="#eee"/><circle cx="570.9" cy="215.5" r="0.60" fill="#ccc"/><circle cx="571.9" cy="216.6" r="0.67" fill="#eee"/><circle cx="573.1" cy="216.6" r="0.52" fill="#fff"/><circle cx="571.8" cy="214.3" r="0.35" fill="#ccc"/><circle cx="612.6" cy="207.3" r="0.54" fill="#eee"/><circle cx="616.5" cy="204.4" r="0.69" fill="#fff"/><circle cx="612.5" cy="209.2" r="0.38" fill="#eee"/><circle cx="588.5" cy="191.9" r="0.56" fill="#bbb"/><circle cx="585.0" cy="188.8" r="0.62" fill="#ccc"/><circle cx="585.2" cy="191.0" r="0.62" fill="#ddd"/><circle cx="589.3" cy="188.1" r="0.54" fill="#ddd"/><circle cx="587.2" cy="190.4" r="0.52" fill="#eee"/><circle cx="586.5" cy="191.7" r="0.64" fill="#ccc"/><circle cx="586.6" cy="208.8" r="0.42" fill="#ccc"/><circle cx="589.3" cy="211.2" r="0.35" fill="#fff"/><circle cx="584.2" cy="210.5" r="0.60" fill="#ddd"/><circle cx="583.8" cy="204.5" r="0.69" fill="#fff"/><circle cx="582.9" cy="207.8" r="0.64" fill="#eee"/><circle cx="589.3" cy="208.0" r="0.36" fill="#ccc"/><circle cx="587.8" cy="207.4" r="0.51" fill="#ccc"/><circle cx="590.1" cy="208.0" r="0.56" fill="#bbb"/><circle cx="585.0" cy="183.2" r="0.40" fill="#ccc"/><circle cx="581.9" cy="175.8" r="0.62" fill="#fff"/><circle cx="585.8" cy="181.3" r="0.56" fill="#ddd"/><circle cx="582.1" cy="183.3" r="0.53" fill="#ddd"/><circle cx="584.0" cy="180.5" r="0.58" fill="#ddd"/><circle cx="589.2" cy="178.5" r="0.59" fill="#eee"/><circle cx="584.4" cy="180.3" r="0.42" fill="#eee"/><circle cx="585.4" cy="182.4" r="0.34" fill="#ddd"/><circle cx="615.1" cy="181.5" r="0.65" fill="#ddd"/><circle cx="615.6" cy="180.0" r="0.35" fill="#ddd"/><circle cx="615.6" cy="183.2" r="0.40" fill="#ddd"/><circle cx="568.7" cy="229.7" r="0.38" fill="#fff"/><circle cx="570.0" cy="228.5" r="0.55" fill="#fff"/><circle cx="569.5" cy="227.8" r="0.58" fill="#ccc"/><circle cx="570.5" cy="226.9" r="0.60" fill="#fff"/><circle cx="570.7" cy="225.8" r="0.42" fill="#ddd"/><circle cx="572.9" cy="226.1" r="0.55" fill="#ddd"/></g>
</g>
<circle cx="587.4" cy="200" r="37" fill="url(#vign)"/>
</g>
<text x="628.0" y="35.2" font-size="18" text-anchor="start" fill="#000" textLength="57.3" lengthAdjust="spacingAndGlyphs" stroke="#000" stroke-width="0.22">Patient</text>
<text x="628.0" y="57.7" font-size="18" text-anchor="start" fill="#000" textLength="53.4" lengthAdjust="spacingAndGlyphs" stroke="#000" stroke-width="0.22">Isolate</text>
<text x="627.9" y="128.1" font-size="18" text-anchor="start" fill="#000" textLength="38.8" lengthAdjust="spacingAndGlyphs" stroke="#000" stroke-width="0.22">RNA</text>
<text x="628.2" y="206.3" font-size="18" text-anchor="start" fill="#000" textLength="39.2" lengthAdjust="spacingAndGlyphs" stroke="#000" stroke-width="0.22">DNA</text>
<text x="1.9" y="266" font-size="23.5" font-weight="bold" text-anchor="start" fill="#000" textLength="17" lengthAdjust="spacingAndGlyphs">C</text>
<text x="42.8" y="268.9" font-size="14.2" font-weight="bold" text-anchor="start" fill="#000" textLength="101.8" lengthAdjust="spacingAndGlyphs">Vero TMPRSS2</text>
<text x="147.4" y="268.3" font-size="13.4" text-anchor="start" fill="#000" textLength="65.3" lengthAdjust="spacingAndGlyphs" stroke="#000" stroke-width="0.22">(MOI 0.01)</text>
<rect x="48.25" y="282.10" width="1.5" height="156.90" fill="#000"/>
<rect x="43.00" y="437.75" width="6" height="1.3" fill="#000"/>
<text x="38.00" y="442.30" font-size="11.8" text-anchor="end" fill="#000" stroke="#000" stroke-width="0.2" textLength="11.21" lengthAdjust="spacingAndGlyphs">10</text>
<text x="38.00" y="438.20" font-size="9.2" fill="#000" stroke="#000" stroke-width="0.15">4</text>
<rect x="45.00" y="426.18" width="4" height="1.0" fill="#000"/>
<rect x="45.00" y="419.33" width="4" height="1.0" fill="#000"/>
<rect x="45.00" y="414.46" width="4" height="1.0" fill="#000"/>
<rect x="45.00" y="410.69" width="4" height="1.0" fill="#000"/>
<rect x="45.00" y="407.61" width="4" height="1.0" fill="#000"/>
<rect x="45.00" y="405.00" width="4" height="1.0" fill="#000"/>
<rect x="45.00" y="402.75" width="4" height="1.0" fill="#000"/>
<rect x="45.00" y="400.76" width="4" height="1.0" fill="#000"/>
<rect x="43.00" y="398.82" width="6" height="1.3" fill="#000"/>
<text x="38.00" y="403.37" font-size="11.8" text-anchor="end" fill="#000" stroke="#000" stroke-width="0.2" textLength="11.21" lengthAdjust="spacingAndGlyphs">10</text>
<text x="38.00" y="399.27" font-size="9.2" fill="#000" stroke="#000" stroke-width="0.15">5</text>
<rect x="45.00" y="387.26" width="4" height="1.0" fill="#000"/>
<rect x="45.00" y="380.40" width="4" height="1.0" fill="#000"/>
<rect x="45.00" y="375.54" width="4" height="1.0" fill="#000"/>
<rect x="45.00" y="371.77" width="4" height="1.0" fill="#000"/>
<rect x="45.00" y="368.69" width="4" height="1.0" fill="#000"/>
<rect x="45.00" y="366.08" width="4" height="1.0" fill="#000"/>
<rect x="45.00" y="363.82" width="4" height="1.0" fill="#000"/>
<rect x="45.00" y="361.83" width="4" height="1.0" fill="#000"/>
<rect x="43.00" y="359.90" width="6" height="1.3" fill="#000"/>
<text x="38.00" y="364.45" font-size="11.8" text-anchor="end" fill="#000" stroke="#000" stroke-width="0.2" textLength="11.21" lengthAdjust="spacingAndGlyphs">10</text>
<text x="38.00" y="360.35" font-size="9.2" fill="#000" stroke="#000" stroke-width="0.15">6</text>
<rect x="45.00" y="348.33" width="4" height="1.0" fill="#000"/>
<rect x="45.00" y="341.48" width="4" height="1.0" fill="#000"/>
<rect x="45.00" y="336.61" width="4" height="1.0" fill="#000"/>
<rect x="45.00" y="332.84" width="4" height="1.0" fill="#000"/>
<rect x="45.00" y="329.76" width="4" height="1.0" fill="#000"/>
<rect x="45.00" y="327.15" width="4" height="1.0" fill="#000"/>
<rect x="45.00" y="324.90" width="4" height="1.0" fill="#000"/>
<rect x="45.00" y="322.91" width="4" height="1.0" fill="#000"/>
<rect x="43.00" y="320.98" width="6" height="1.3" fill="#000"/>
<text x="38.00" y="325.52" font-size="11.8" text-anchor="end" fill="#000" stroke="#000" stroke-width="0.2" textLength="11.21" lengthAdjust="spacingAndGlyphs">10</text>
<text x="38.00" y="321.43" font-size="9.2" fill="#000" stroke="#000" stroke-width="0.15">7</text>
<rect x="45.00" y="309.41" width="4" height="1.0" fill="#000"/>
<rect x="45.00" y="302.55" width="4" height="1.0" fill="#000"/>
<rect x="45.00" y="297.69" width="4" height="1.0" fill="#000"/>
<rect x="45.00" y="293.92" width="4" height="1.0" fill="#000"/>
<rect x="45.00" y="290.84" width="4" height="1.0" fill="#000"/>
<rect x="45.00" y="288.23" width="4" height="1.0" fill="#000"/>
<rect x="45.00" y="285.97" width="4" height="1.0" fill="#000"/>
<rect x="45.00" y="283.98" width="4" height="1.0" fill="#000"/>
<rect x="43.00" y="282.05" width="6" height="1.3" fill="#000"/>
<text x="38.00" y="286.60" font-size="11.8" text-anchor="end" fill="#000" stroke="#000" stroke-width="0.2" textLength="11.21" lengthAdjust="spacingAndGlyphs">10</text>
<text x="38.00" y="282.50" font-size="9.2" fill="#000" stroke="#000" stroke-width="0.15">8</text>
<rect x="48.3" y="437.65" width="161.2" height="1.5" fill="#000"/>
<rect x="74.85" y="438" width="1.3" height="5.8" fill="#000"/>
<rect x="127.85" y="438" width="1.3" height="5.8" fill="#000"/>
<rect x="179.85" y="438" width="1.3" height="5.8" fill="#000"/>
<text x="75.5" y="457.2" font-size="12.3" text-anchor="middle" fill="#000" stroke="#000" stroke-width="0.22">24</text>
<text x="128.5" y="457.2" font-size="12.3" text-anchor="middle" fill="#000" stroke="#000" stroke-width="0.22">48</text>
<text x="180.5" y="457.2" font-size="12.3" text-anchor="middle" fill="#000" stroke="#000" stroke-width="0.22">72</text>
<rect x="63" y="461.0" width="132" height="1" fill="url(#sepL)"/>
<text x="60.4" y="477" font-size="13.65" font-weight="bold" text-anchor="start" fill="#000" textLength="135.6" lengthAdjust="spacingAndGlyphs">Hours Post-Infection</text>
<text transform="translate(21.9,360.2) rotate(-90)" font-size="14.6" font-weight="bold" text-anchor="middle" fill="#000" textLength="50.5" lengthAdjust="spacingAndGlyphs">PFU/mL</text>
<rect x="52.5" y="281.10" width="8.8" height="2.1" fill="#1a6cf0"/>
<text x="61.8" y="286.20000000000005" font-size="11.2" text-anchor="start" fill="#000" stroke="#000" stroke-width="0.22">Isolate</text>
<rect x="52.5" y="292.60" width="8.8" height="2.1" fill="#ffb000"/>
<text x="61.8" y="297.70000000000005" font-size="11.2" text-anchor="start" fill="#000" stroke="#000" stroke-width="0.22">DNA</text>
<rect x="52.5" y="304.10" width="8.8" height="2.1" fill="#8c8c8c"/>
<text x="61.8" y="309.20000000000005" font-size="11.2" text-anchor="start" fill="#000" stroke="#000" stroke-width="0.22">IVT</text>
<polyline points="75.5,400.3 128.3,305.5 180.4,312.5" fill="none" stroke="#8c8c8c" stroke-width="2.9" stroke-linejoin="round"/>
<path d="M75.5,396 L75.5,404 M73.3,396 L77.7,396 M73.3,404 L77.7,404" stroke="#8c8c8c" stroke-width="1.1" fill="none"/>
<path d="M75.5,396.5 L79.2,402.90000000000003 L71.8,402.90000000000003 Z" fill="#8c8c8c"/>
<path d="M128.3,301.7 L132.0,308.1 L124.60000000000001,308.1 Z" fill="#8c8c8c"/>
<path d="M180.4,308.7 L184.1,315.1 L176.70000000000002,315.1 Z" fill="#8c8c8c"/>
<polyline points="75.5,405.5 128.3,312.5 180.4,307.5" fill="none" stroke="#ffb000" stroke-width="2.9" stroke-linejoin="round"/>
<path d="M75.5,401 L75.5,410 M73.3,401 L77.7,401 M73.3,410 L77.7,410" stroke="#ffb000" stroke-width="1.1" fill="none"/>
<path d="M180.4,299.7 L180.4,319.1 M178.20000000000002,299.7 L182.6,299.7 M178.20000000000002,319.1 L182.6,319.1" stroke="#ffb000" stroke-width="1.1" fill="none"/>
<rect x="72.3" y="402.3" width="6.4" height="6.4" fill="#ffb000"/>
<rect x="125.10000000000001" y="309.3" width="6.4" height="6.4" fill="#ffb000"/>
<rect x="177.20000000000002" y="304.3" width="6.4" height="6.4" fill="#ffb000"/>
<polyline points="75.5,389.3 128.3,296.8 180.4,309.9" fill="none" stroke="#1a6cf0" stroke-width="2.9" stroke-linejoin="round"/>
<circle cx="75.5" cy="389.3" r="3.3" fill="#1a6cf0"/>
<circle cx="128.3" cy="296.8" r="3.3" fill="#1a6cf0"/>
<circle cx="180.4" cy="309.9" r="3.3" fill="#1a6cf0"/>
<text x="270.9" y="269.0" font-size="14.0" font-weight="bold" text-anchor="start" fill="#000" textLength="42.6" lengthAdjust="spacingAndGlyphs">Calu 3</text>
<text x="317.4" y="268.3" font-size="13.0" text-anchor="start" fill="#000" textLength="55.6" lengthAdjust="spacingAndGlyphs" stroke="#000" stroke-width="0.22">(MOI 0.1)</text>
<rect x="241.35" y="282.40" width="1.5" height="156.50" fill="#000"/>
<rect x="236.10" y="437.65" width="6" height="1.3" fill="#000"/>
<text x="231.10" y="442.20" font-size="12.3" text-anchor="end" fill="#000" stroke="#000" stroke-width="0.2" textLength="11.69" lengthAdjust="spacingAndGlyphs">10</text>
<text x="231.10" y="438.10" font-size="9.6" fill="#000" stroke="#000" stroke-width="0.15">4</text>
<rect x="238.10" y="422.22" width="4" height="1.0" fill="#000"/>
<rect x="238.10" y="413.10" width="4" height="1.0" fill="#000"/>
<rect x="238.10" y="406.63" width="4" height="1.0" fill="#000"/>
<rect x="238.10" y="401.62" width="4" height="1.0" fill="#000"/>
<rect x="238.10" y="397.52" width="4" height="1.0" fill="#000"/>
<rect x="238.10" y="394.05" width="4" height="1.0" fill="#000"/>
<rect x="238.10" y="391.05" width="4" height="1.0" fill="#000"/>
<rect x="238.10" y="388.40" width="4" height="1.0" fill="#000"/>
<rect x="236.10" y="385.88" width="6" height="1.3" fill="#000"/>
<text x="231.10" y="390.43" font-size="12.3" text-anchor="end" fill="#000" stroke="#000" stroke-width="0.2" textLength="11.69" lengthAdjust="spacingAndGlyphs">10</text>
<text x="231.10" y="386.33" font-size="9.6" fill="#000" stroke="#000" stroke-width="0.15">5</text>
<rect x="238.10" y="370.45" width="4" height="1.0" fill="#000"/>
<rect x="238.10" y="361.33" width="4" height="1.0" fill="#000"/>
<rect x="238.10" y="354.87" width="4" height="1.0" fill="#000"/>
<rect x="238.10" y="349.85" width="4" height="1.0" fill="#000"/>
<rect x="238.10" y="345.75" width="4" height="1.0" fill="#000"/>
<rect x="238.10" y="342.29" width="4" height="1.0" fill="#000"/>
<rect x="238.10" y="339.28" width="4" height="1.0" fill="#000"/>
<rect x="238.10" y="336.64" width="4" height="1.0" fill="#000"/>
<rect x="236.10" y="334.12" width="6" height="1.3" fill="#000"/>
<text x="231.10" y="338.67" font-size="12.3" text-anchor="end" fill="#000" stroke="#000" stroke-width="0.2" textLength="11.69" lengthAdjust="spacingAndGlyphs">10</text>
<text x="231.10" y="334.57" font-size="9.6" fill="#000" stroke="#000" stroke-width="0.15">6</text>
<rect x="238.10" y="318.68" width="4" height="1.0" fill="#000"/>
<rect x="238.10" y="309.57" width="4" height="1.0" fill="#000"/>
<rect x="238.10" y="303.10" width="4" height="1.0" fill="#000"/>
<rect x="238.10" y="298.08" width="4" height="1.0" fill="#000"/>
<rect x="238.10" y="293.98" width="4" height="1.0" fill="#000"/>
<rect x="238.10" y="290.52" width="4" height="1.0" fill="#000"/>
<rect x="238.10" y="287.52" width="4" height="1.0" fill="#000"/>
<rect x="238.10" y="284.87" width="4" height="1.0" fill="#000"/>
<rect x="236.10" y="282.35" width="6" height="1.3" fill="#000"/>
<text x="231.10" y="286.90" font-size="12.3" text-anchor="end" fill="#000" stroke="#000" stroke-width="0.2" textLength="11.69" lengthAdjust="spacingAndGlyphs">10</text>
<text x="231.10" y="282.80" font-size="9.6" fill="#000" stroke="#000" stroke-width="0.15">7</text>
<rect x="241.4" y="437.5" width="161.4" height="1.5" fill="#000"/>
<rect x="272.35" y="438" width="1.3" height="5.8" fill="#000"/>
<rect x="323.95000000000005" y="438" width="1.3" height="5.8" fill="#000"/>
<rect x="374.65000000000003" y="438" width="1.3" height="5.8" fill="#000"/>
<text x="273" y="457.2" font-size="12.3" text-anchor="middle" fill="#000" stroke="#000" stroke-width="0.22">24</text>
<text x="324.6" y="457.2" font-size="12.3" text-anchor="middle" fill="#000" stroke="#000" stroke-width="0.22">48</text>
<text x="375.3" y="457.2" font-size="12.3" text-anchor="middle" fill="#000" stroke="#000" stroke-width="0.22">72</text>
<rect x="258.5" y="461.2" width="130" height="1" fill="url(#sepL)"/>
<text x="256.4" y="477.2" font-size="13.65" font-weight="bold" text-anchor="start" fill="#000" textLength="136.6" lengthAdjust="spacingAndGlyphs">Hours Post-Infection</text>
<rect x="245.3" y="281.20" width="8.8" height="2.1" fill="#1a6cf0"/>
<text x="254.60000000000002" y="286.3" font-size="11.2" text-anchor="start" fill="#000" stroke="#000" stroke-width="0.22">Isolate</text>
<rect x="245.3" y="292.70" width="8.8" height="2.1" fill="#ffb000"/>
<text x="254.60000000000002" y="297.8" font-size="11.2" text-anchor="start" fill="#000" stroke="#000" stroke-width="0.22">DNA</text>
<rect x="245.3" y="304.20" width="8.8" height="2.1" fill="#8c8c8c"/>
<text x="254.60000000000002" y="309.3" font-size="11.2" text-anchor="start" fill="#000" stroke="#000" stroke-width="0.22">IVT</text>
<polyline points="273,382.4 324.6,329.5 375.3,326" fill="none" stroke="#8c8c8c" stroke-width="2.9" stroke-linejoin="round"/>
<path d="M375.3,322 L375.3,330 M373.1,322 L377.5,322 M373.1,330 L377.5,330" stroke="#8c8c8c" stroke-width="1.1" fill="none"/>
<path d="M273,378.59999999999997 L276.7,385.0 L269.3,385.0 Z" fill="#8c8c8c"/>
<path d="M324.6,325.7 L328.3,332.1 L320.90000000000003,332.1 Z" fill="#8c8c8c"/>
<path d="M375.3,322.2 L379.0,328.6 L371.6,328.6 Z" fill="#8c8c8c"/>
<polyline points="273,374.9 324.6,322.9 375.3,328.2" fill="none" stroke="#ffb000" stroke-width="2.9" stroke-linejoin="round"/>
<rect x="269.8" y="371.7" width="6.4" height="6.4" fill="#ffb000"/>
<rect x="321.40000000000003" y="319.7" width="6.4" height="6.4" fill="#ffb000"/>
<rect x="372.1" y="325.0" width="6.4" height="6.4" fill="#ffb000"/>
<polyline points="273,388.2 324.6,311.9 375.3,311" fill="none" stroke="#1a6cf0" stroke-width="2.9" stroke-linejoin="round"/>
<path d="M273,385 L273,392 M270.8,385 L275.2,385 M270.8,392 L275.2,392" stroke="#1a6cf0" stroke-width="1.1" fill="none"/>
<circle cx="273" cy="388.2" r="3.3" fill="#1a6cf0"/>
<circle cx="324.6" cy="311.9" r="3.3" fill="#1a6cf0"/>
<circle cx="375.3" cy="311" r="3.3" fill="#1a6cf0"/>
<text x="412.5" y="266" font-size="23.5" font-weight="bold" text-anchor="start" fill="#000" textLength="16.9" lengthAdjust="spacingAndGlyphs">D</text>
<text x="454.0" y="269.3" font-size="14.2" font-weight="bold" text-anchor="start" fill="#000" textLength="165.6" lengthAdjust="spacingAndGlyphs">K18-hACE2 Mouse Lung</text>
<text x="623.5" y="268.5" font-size="13.8" text-anchor="start" fill="#000" textLength="37.6" lengthAdjust="spacingAndGlyphs" stroke="#000" stroke-width="0.22">(48 h)</text>
<rect x="456.25" y="281.20" width="1.5" height="157.30" fill="#000"/>
<rect x="451.00" y="437.25" width="6" height="1.3" fill="#000"/>
<text x="446.00" y="441.80" font-size="12.3" text-anchor="end" fill="#000" stroke="#000" stroke-width="0.2" textLength="11.69" lengthAdjust="spacingAndGlyphs">10</text>
<text x="446.00" y="437.70" font-size="9.6" fill="#000" stroke="#000" stroke-width="0.15">2</text>
<rect x="453.00" y="429.57" width="4" height="1.0" fill="#000"/>
<rect x="453.00" y="424.99" width="4" height="1.0" fill="#000"/>
<rect x="453.00" y="421.74" width="4" height="1.0" fill="#000"/>
<rect x="453.00" y="419.22" width="4" height="1.0" fill="#000"/>
<rect x="453.00" y="417.16" width="4" height="1.0" fill="#000"/>
<rect x="453.00" y="415.41" width="4" height="1.0" fill="#000"/>
<rect x="453.00" y="413.90" width="4" height="1.0" fill="#000"/>
<rect x="453.00" y="412.57" width="4" height="1.0" fill="#000"/>
<rect x="451.00" y="411.23" width="6" height="1.3" fill="#000"/>
<text x="446.00" y="415.78" font-size="12.3" text-anchor="end" fill="#000" stroke="#000" stroke-width="0.2" textLength="11.69" lengthAdjust="spacingAndGlyphs">10</text>
<text x="446.00" y="411.68" font-size="9.6" fill="#000" stroke="#000" stroke-width="0.15">3</text>
<rect x="453.00" y="403.55" width="4" height="1.0" fill="#000"/>
<rect x="453.00" y="398.97" width="4" height="1.0" fill="#000"/>
<rect x="453.00" y="395.72" width="4" height="1.0" fill="#000"/>
<rect x="453.00" y="393.20" width="4" height="1.0" fill="#000"/>
<rect x="453.00" y="391.14" width="4" height="1.0" fill="#000"/>
<rect x="453.00" y="389.40" width="4" height="1.0" fill="#000"/>
<rect x="453.00" y="387.89" width="4" height="1.0" fill="#000"/>
<rect x="453.00" y="386.56" width="4" height="1.0" fill="#000"/>
<rect x="451.00" y="385.22" width="6" height="1.3" fill="#000"/>
<text x="446.00" y="389.77" font-size="12.3" text-anchor="end" fill="#000" stroke="#000" stroke-width="0.2" textLength="11.69" lengthAdjust="spacingAndGlyphs">10</text>
<text x="446.00" y="385.67" font-size="9.6" fill="#000" stroke="#000" stroke-width="0.15">4</text>
<rect x="453.00" y="377.53" width="4" height="1.0" fill="#000"/>
<rect x="453.00" y="372.95" width="4" height="1.0" fill="#000"/>
<rect x="453.00" y="369.70" width="4" height="1.0" fill="#000"/>
<rect x="453.00" y="367.18" width="4" height="1.0" fill="#000"/>
<rect x="453.00" y="365.12" width="4" height="1.0" fill="#000"/>
<rect x="453.00" y="363.38" width="4" height="1.0" fill="#000"/>
<rect x="453.00" y="361.87" width="4" height="1.0" fill="#000"/>
<rect x="453.00" y="360.54" width="4" height="1.0" fill="#000"/>
<rect x="451.00" y="359.20" width="6" height="1.3" fill="#000"/>
<text x="446.00" y="363.75" font-size="12.3" text-anchor="end" fill="#000" stroke="#000" stroke-width="0.2" textLength="11.69" lengthAdjust="spacingAndGlyphs">10</text>
<text x="446.00" y="359.65" font-size="9.6" fill="#000" stroke="#000" stroke-width="0.15">5</text>
<rect x="453.00" y="351.52" width="4" height="1.0" fill="#000"/>
<rect x="453.00" y="346.94" width="4" height="1.0" fill="#000"/>
<rect x="453.00" y="343.69" width="4" height="1.0" fill="#000"/>
<rect x="453.00" y="341.17" width="4" height="1.0" fill="#000"/>
<rect x="453.00" y="339.11" width="4" height="1.0" fill="#000"/>
<rect x="453.00" y="337.36" width="4" height="1.0" fill="#000"/>
<rect x="453.00" y="335.85" width="4" height="1.0" fill="#000"/>
<rect x="453.00" y="334.52" width="4" height="1.0" fill="#000"/>
<rect x="451.00" y="333.18" width="6" height="1.3" fill="#000"/>
<text x="446.00" y="337.73" font-size="12.3" text-anchor="end" fill="#000" stroke="#000" stroke-width="0.2" textLength="11.69" lengthAdjust="spacingAndGlyphs">10</text>
<text x="446.00" y="333.63" font-size="9.6" fill="#000" stroke="#000" stroke-width="0.15">6</text>
<rect x="453.00" y="325.50" width="4" height="1.0" fill="#000"/>
<rect x="453.00" y="320.92" width="4" height="1.0" fill="#000"/>
<rect x="453.00" y="317.67" width="4" height="1.0" fill="#000"/>
<rect x="453.00" y="315.15" width="4" height="1.0" fill="#000"/>
<rect x="453.00" y="313.09" width="4" height="1.0" fill="#000"/>
<rect x="453.00" y="311.35" width="4" height="1.0" fill="#000"/>
<rect x="453.00" y="309.84" width="4" height="1.0" fill="#000"/>
<rect x="453.00" y="308.51" width="4" height="1.0" fill="#000"/>
<rect x="451.00" y="307.17" width="6" height="1.3" fill="#000"/>
<text x="446.00" y="311.72" font-size="12.3" text-anchor="end" fill="#000" stroke="#000" stroke-width="0.2" textLength="11.69" lengthAdjust="spacingAndGlyphs">10</text>
<text x="446.00" y="307.62" font-size="9.6" fill="#000" stroke="#000" stroke-width="0.15">7</text>
<rect x="453.00" y="299.48" width="4" height="1.0" fill="#000"/>
<rect x="453.00" y="294.90" width="4" height="1.0" fill="#000"/>
<rect x="453.00" y="291.65" width="4" height="1.0" fill="#000"/>
<rect x="453.00" y="289.13" width="4" height="1.0" fill="#000"/>
<rect x="453.00" y="287.07" width="4" height="1.0" fill="#000"/>
<rect x="453.00" y="285.33" width="4" height="1.0" fill="#000"/>
<rect x="453.00" y="283.82" width="4" height="1.0" fill="#000"/>
<rect x="453.00" y="282.49" width="4" height="1.0" fill="#000"/>
<rect x="451.00" y="281.15" width="6" height="1.3" fill="#000"/>
<text x="446.00" y="285.70" font-size="12.3" text-anchor="end" fill="#000" stroke="#000" stroke-width="0.2" textLength="11.69" lengthAdjust="spacingAndGlyphs">10</text>
<text x="446.00" y="281.60" font-size="9.6" fill="#000" stroke="#000" stroke-width="0.15">8</text>
<rect x="456.3" y="437.15" width="202.2" height="1.5" fill="#000"/>
<rect x="475.1" y="319.1" width="19.90" height="118.20" fill="#3f8bff"/>
<path d="M485,319.1 L485,311.8 M481.7,311.8 L488.3,311.8" stroke="#000" stroke-width="1.2" fill="none"/>
<circle cx="479.8" cy="313.5" r="2.7" fill="#000" stroke="#fff" stroke-width="0.7"/>
<circle cx="489.6" cy="315.1" r="2.7" fill="#000" stroke="#fff" stroke-width="0.7"/>
<circle cx="479.8" cy="344.4" r="2.7" fill="#000" stroke="#fff" stroke-width="0.7"/>
<rect x="501.4" y="316.4" width="20.40" height="120.90" fill="#ffb000"/>
<path d="M511.5,316.4 L511.5,313.5 M506.5,313.5 L516.5,313.5" stroke="#000" stroke-width="1.2" fill="none"/>
<circle cx="503.4" cy="318.4" r="2.7" fill="#000" stroke="#fff" stroke-width="0.7"/>
<circle cx="511.2" cy="313.5" r="2.7" fill="#000" stroke="#fff" stroke-width="0.7"/>
<circle cx="519.3" cy="316.7" r="2.7" fill="#000" stroke="#fff" stroke-width="0.7"/>
<rect x="528.1" y="330" width="19.90" height="107.30" fill="#929292"/>
<path d="M537.8,330 L537.8,323.4 M532.8,323.4 L542.8,323.4" stroke="#000" stroke-width="1.2" fill="none"/>
<circle cx="537.7" cy="323" r="2.7" fill="#000" stroke="#fff" stroke-width="0.7"/>
<circle cx="537.7" cy="332.6" r="2.7" fill="#000" stroke="#fff" stroke-width="0.7"/>
<circle cx="537.7" cy="338.8" r="2.7" fill="#000" stroke="#fff" stroke-width="0.7"/>
<rect x="569.1" y="345" width="19.90" height="92.30" fill="#3f8bff"/>
<path d="M579,345 L579,341 M574.5,341 L583.5,341" stroke="#000" stroke-width="1.2" fill="none"/>
<circle cx="574" cy="341" r="2.7" fill="#000" stroke="#fff" stroke-width="0.7"/>
<circle cx="583.6" cy="343.7" r="2.7" fill="#000" stroke="#fff" stroke-width="0.7"/>
<circle cx="578.8" cy="349" r="2.7" fill="#000" stroke="#fff" stroke-width="0.7"/>
<rect x="595.5" y="332.9" width="19.90" height="104.40" fill="#ffb000"/>
<path d="M605.3,332.9 L605.3,328.4 M600.3,328.4 L610.3,328.4" stroke="#000" stroke-width="1.2" fill="none"/>
<circle cx="600.4" cy="336.9" r="2.7" fill="#000" stroke="#fff" stroke-width="0.7"/>
<circle cx="605.3" cy="328.4" r="2.7" fill="#000" stroke="#fff" stroke-width="0.7"/>
<circle cx="609.9" cy="334.5" r="2.7" fill="#000" stroke="#fff" stroke-width="0.7"/>
<rect x="622.1" y="318" width="19.90" height="119.30" fill="#929292"/>
<path d="M631.8,318 L631.8,310.4 M626.8,310.4 L636.8,310.4" stroke="#000" stroke-width="1.2" fill="none"/>
<circle cx="631.8" cy="310.4" r="2.7" fill="#000" stroke="#fff" stroke-width="0.7"/>
<circle cx="631.8" cy="316.4" r="2.7" fill="#000" stroke="#fff" stroke-width="0.7"/>
<circle cx="631.8" cy="353" r="2.7" fill="#000" stroke="#fff" stroke-width="0.7"/>
<text x="474.4" y="450.2" font-size="11.6" text-anchor="start" fill="#000" stroke="#000" stroke-width="0.22">Iso-</text>
<text x="498.3" y="450.2" font-size="11.6" text-anchor="start" fill="#000" stroke="#000" stroke-width="0.22">DNA</text>
<text x="529.8" y="450.2" font-size="11.6" text-anchor="start" fill="#000" stroke="#000" stroke-width="0.22">IVT</text>
<text x="569.4" y="450.2" font-size="11.6" text-anchor="start" fill="#000" stroke="#000" stroke-width="0.22">Iso-</text>
<text x="593.0" y="450.2" font-size="11.6" text-anchor="start" fill="#000" stroke="#000" stroke-width="0.22">DNA</text>
<text x="623.8" y="450.2" font-size="11.6" text-anchor="start" fill="#000" stroke="#000" stroke-width="0.22">IVT</text>
<text x="474.6" y="461.6" font-size="11.6" text-anchor="start" fill="#000" stroke="#000" stroke-width="0.22">late</text>
<text x="569.6" y="461.6" font-size="11.6" text-anchor="start" fill="#000" stroke="#000" stroke-width="0.22">late</text>
<rect x="473.3" y="465.9" width="77" height="1" fill="url(#sepL)"/>
<rect x="568" y="465.9" width="76.7" height="1" fill="url(#sepL)"/>
<text x="484.6" y="479.3" font-size="13.1" font-weight="bold" text-anchor="start" fill="#000" textLength="50.8" lengthAdjust="spacingAndGlyphs">PFU/mL</text>
<text x="554.9" y="479.3" font-size="13.1" font-weight="bold" text-anchor="start" fill="#000" textLength="99.7" lengthAdjust="spacingAndGlyphs">N Copy/ng RNA</text>
</svg>
</body></html>
